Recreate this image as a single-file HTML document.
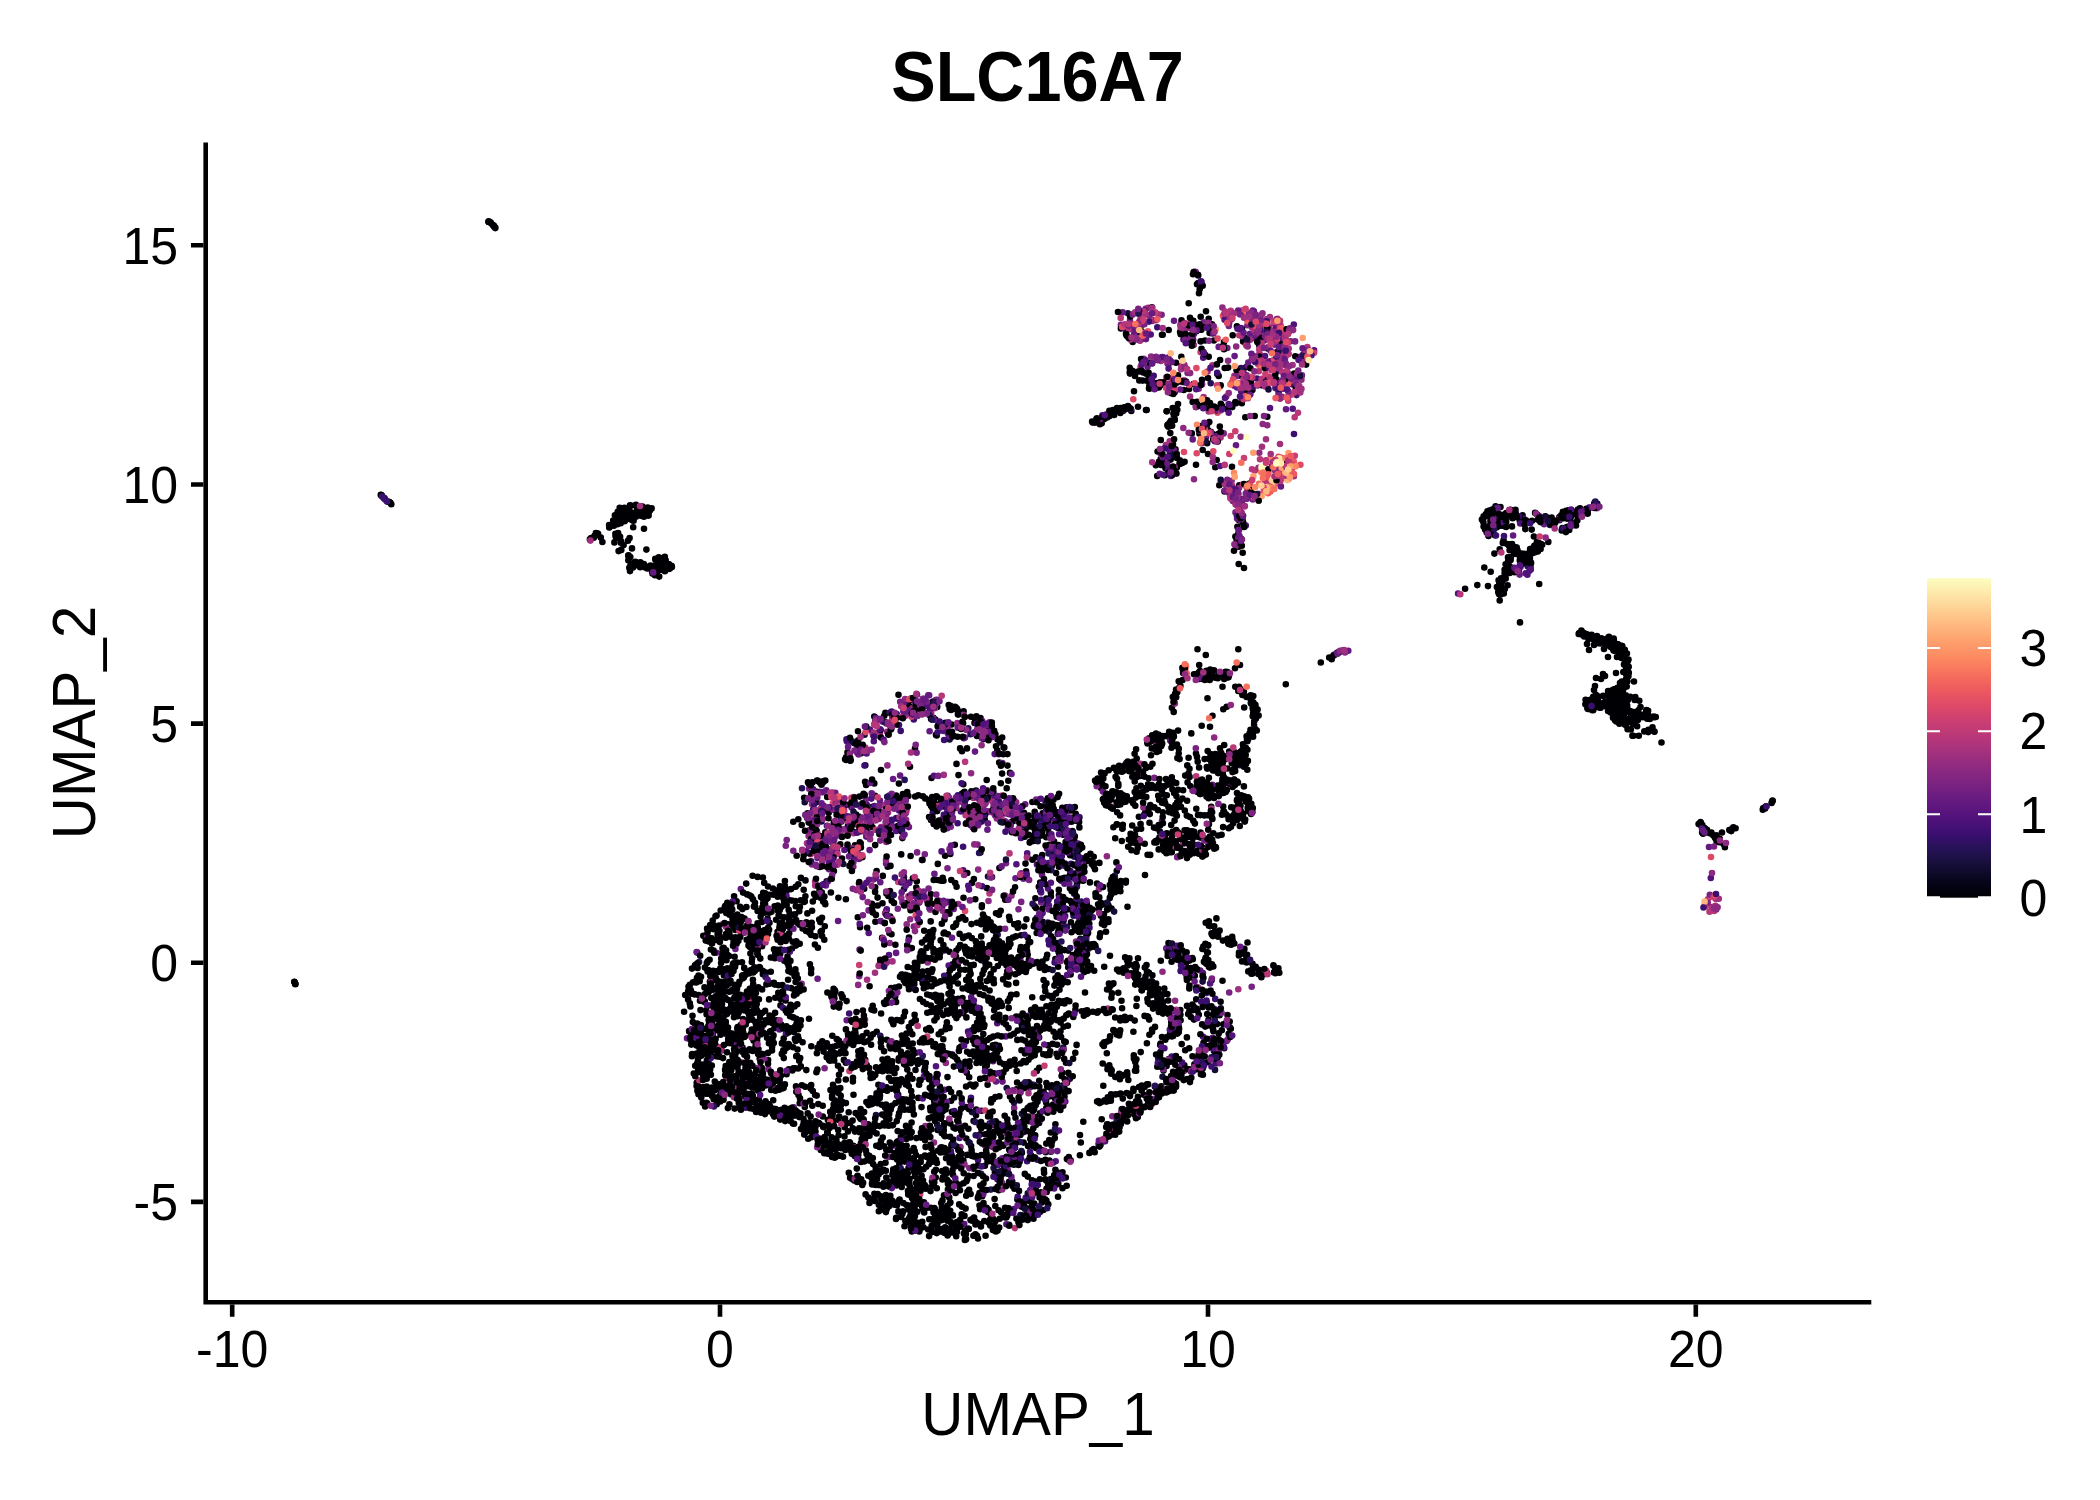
<!DOCTYPE html>
<html><head><meta charset="utf-8"><title>SLC16A7</title>
<style>html,body{margin:0;padding:0;background:#fff}svg{display:block}text{font-family:"Liberation Sans",sans-serif}</style>
</head><body>
<svg width="2100" height="1500" viewBox="0 0 2100 1500">
<rect width="2100" height="1500" fill="#fff"/>
<g fill="none" stroke-width="6.6" stroke-linecap="round"><path d="M949.3 1215.9h0M958.4 714.4h0M1230.2 493.5h0M1081.8 1011.3h0M1591.9 699.2h0M840.8 1109.8h0M753.2 1086.3h0M912.0 1096.4h0M1106.4 414.6h0M963.3 784.2h0M1104.1 802.6h0M880.8 1042.5h0M726.2 954.2h0M1203.7 673.2h0M1204.7 791.7h0M614.9 515.2h0M1022.4 1219.7h0M657.7 569.9h0M1049.4 844.8h0M833.2 1108.8h0M1186.9 1037.4h0M981.3 960.2h0M1136.4 1059.2h0M1507.1 544.1h0M1169.1 781.6h0M658.5 565.0h0M811.2 968.9h0M792.9 1123.6h0M896.9 1171.7h0M963.4 1160.6h0M760.8 1076.2h0M1623.7 698.8h0M1279.3 972.8h0M1002.3 1127.2h0M736.6 1038.4h0M896.8 805.4h0M862.6 1036.3h0M1152.5 992.5h0M1222.1 755.0h0M898.8 1058.2h0M987.5 1161.6h0M1227.1 758.0h0M948.5 993.8h0M1002.9 1144.8h0M758.4 1025.7h0M784.9 1084.4h0M919.9 999.0h0M922.1 1206.3h0M1112.1 984.5h0M1168.9 1091.2h0M728.5 924.4h0M713.7 925.2h0M864.2 888.8h0M980.9 1226.4h0M966.3 1138.5h0M1000.1 1160.0h0M1607.5 706.7h0M1028.2 1214.4h0M778.6 1113.9h0M949.7 709.1h0M1206.8 767.1h0M945.1 855.8h0M1193.6 328.0h0M1516.8 571.5h0M1059.6 827.7h0M1072.0 849.9h0M1623.5 657.3h0M1178.1 1029.4h0M806.1 930.9h0M948.0 1192.8h0M873.3 733.3h0M1165.9 850.1h0M1073.8 907.9h0M1121.8 841.0h0M778.6 915.6h0M1176.2 783.1h0M1206.5 847.8h0M1135.2 984.6h0M707.2 1036.6h0M714.3 1026.5h0M1046.1 1102.5h0M737.1 962.5h0M1215.7 1043.9h0M1132.2 337.6h0M894.0 1203.4h0M861.7 1020.7h0M1030.2 1217.5h0M1622.6 684.7h0M1015.3 1137.9h0M1223.2 806.5h0M1611.1 696.9h0M1022.7 1013.6h0M1034.4 816.8h0M1127.8 1115.6h0M855.9 1065.0h0M751.1 926.7h0M961.5 1039.6h0M933.3 1157.4h0M1208.3 791.9h0M1588.0 708.9h0M993.7 969.4h0M765.7 1020.2h0M1205.6 991.8h0M914.9 1215.1h0M975.4 1234.3h0M1122.9 771.3h0M912.0 1197.9h0M1001.3 962.5h0M963.0 794.2h0M915.2 796.5h0M1076.1 854.3h0M884.8 923.0h0M870.1 1102.1h0M1211.9 756.7h0M1187.7 835.1h0M1618.7 693.1h0M997.8 808.5h0M939.8 1218.5h0M621.2 520.6h0M1163.1 839.9h0M904.2 1043.8h0M748.2 921.3h0M908.0 1190.9h0M725.4 905.7h0M1205.8 655.0h0M855.3 853.2h0M808.9 783.7h0M919.3 902.3h0M720.7 910.5h0M956.5 763.9h0M764.2 882.8h0M921.0 955.5h0M1247.8 696.8h0M1597.6 698.9h0M1130.9 768.4h0M1625.7 672.3h0M1562.4 528.1h0M1522.7 561.2h0M963.6 711.4h0M828.7 812.7h0M1168.0 736.4h0M1208.3 758.7h0M1210.2 669.5h0M896.4 1185.4h0M886.1 911.6h0M1033.3 1128.2h0M1120.2 1030.2h0M979.0 1029.0h0M725.2 981.8h0M955.3 1182.8h0M839.3 1155.8h0M721.4 1029.5h0M762.7 1084.2h0M1149.4 388.7h0M1044.1 1173.1h0M1030.6 1046.6h0M971.1 1146.1h0M700.5 1010.1h0M1043.6 822.1h0M1122.3 1075.7h0M1107.8 1097.2h0M820.8 1149.9h0M959.9 711.8h0M1094.7 1152.2h0M881.1 1171.9h0M969.2 1077.2h0M654.5 565.5h0M1180.1 332.1h0M1007.7 1138.9h0M907.7 1180.0h0M1099.7 937.1h0M749.2 1080.9h0M1083.2 943.2h0M1617.9 702.9h0M955.3 961.0h0M871.6 1178.1h0M1225.4 756.6h0M917.4 1211.8h0M1075.4 1009.8h0M1156.3 991.8h0M1025.9 1062.3h0M736.0 1045.4h0M924.2 930.8h0M1145.4 811.6h0M1111.5 908.5h0M878.9 1145.5h0M1618.4 715.8h0M1081.2 947.4h0M1224.2 745.0h0M1136.7 966.4h0M1162.6 461.5h0M755.2 1006.8h0M935.4 997.5h0M1057.7 943.0h0M790.4 960.9h0M1202.1 1024.4h0M981.9 905.2h0M791.4 1113.6h0M1047.8 798.2h0M830.5 1090.1h0M818.3 1122.9h0M1591.6 634.7h0M1031.1 1010.4h0M1173.0 833.9h0M1230.0 1028.3h0M391.3 504.3h0M1488.8 515.6h0M975.2 721.0h0M879.8 1097.9h0M1089.3 923.7h0M933.9 1157.4h0M896.7 798.9h0M980.2 1134.3h0M853.4 816.9h0M761.9 1068.1h0M841.2 1155.7h0M1508.1 561.4h0M1200.7 316.7h0M1194.8 835.5h0M1494.7 526.6h0M1003.3 1145.7h0M861.4 1059.4h0M904.9 981.2h0M1161.7 836.7h0M1524.6 557.1h0M1061.1 1037.0h0M832.3 1035.8h0M1528.9 558.2h0M1568.3 511.8h0M963.1 723.2h0M970.0 1036.8h0M868.7 1067.9h0M1024.3 1126.4h0M980.5 718.0h0M1267.6 348.4h0M1006.7 899.8h0M713.7 1099.3h0M1621.8 692.8h0M1197.9 329.1h0M1007.3 971.3h0M911.5 1213.6h0M806.3 1070.1h0M1030.4 1105.8h0M779.9 951.0h0M1224.0 342.0h0M776.1 919.7h0M726.3 913.0h0M1203.4 977.9h0M868.4 1133.0h0M1244.0 766.7h0M711.7 938.3h0M1136.0 968.5h0M1489.3 510.5h0M850.6 1150.2h0M908.8 1027.0h0M1516.3 548.5h0M1497.0 520.3h0M1622.5 722.2h0M1175.8 408.4h0M1046.3 837.2h0M1213.2 439.5h0M768.2 1111.1h0M1200.2 284.0h0M788.6 1044.0h0M621.8 517.9h0M1055.6 850.4h0M773.2 1100.2h0M914.6 1014.9h0M759.3 941.7h0M1503.3 590.0h0M1589.0 650.0h0M1003.4 951.6h0M975.5 1156.5h0M1055.4 1124.3h0M968.8 1228.9h0M879.4 834.1h0M992.5 1139.9h0M931.8 958.5h0M597.3 533.4h0M1160.0 382.3h0M872.5 827.2h0M890.7 1109.5h0M896.2 795.6h0M1056.8 1006.7h0M754.9 930.1h0M1156.8 751.9h0M831.8 878.8h0M1041.7 872.7h0M1141.5 1106.6h0M1034.1 1109.3h0M947.9 1189.6h0M941.4 1220.3h0M982.6 1018.2h0M992.0 998.7h0M740.7 1010.3h0M1221.3 406.3h0M1060.1 1105.4h0M1498.2 587.8h0M1015.8 814.7h0M751.4 1082.5h0M725.5 1024.0h0M1059.0 933.3h0M960.3 1126.7h0M1205.7 922.8h0M1615.2 651.1h0M895.1 1182.7h0M1509.7 572.9h0M706.6 1067.1h0M689.1 1031.1h0M1081.9 922.2h0M1160.6 1043.6h0M770.8 971.8h0M926.8 1156.9h0M947.5 802.9h0M1241.4 797.0h0M973.5 1168.8h0M720.5 987.4h0M868.7 1105.1h0M1053.7 808.7h0M941.0 880.8h0M1058.3 1183.9h0M799.7 1103.2h0M919.8 957.1h0M981.8 907.1h0M1206.8 782.3h0M856.4 1154.9h0M1135.0 765.8h0M870.6 1037.7h0M1079.4 849.4h0M977.1 1022.8h0M1615.4 689.1h0M727.3 902.7h0M925.7 939.5h0M1211.2 759.6h0M1021.3 823.3h0M780.2 1112.4h0M889.3 1119.0h0M760.3 1108.0h0M981.2 924.2h0M1030.9 1209.8h0M1231.7 757.8h0M1648.0 714.5h0M983.4 739.1h0M943.1 1015.1h0M1619.2 693.5h0M921.3 1060.5h0M901.3 1079.3h0M784.7 997.3h0M1208.7 318.7h0M740.6 1086.6h0M1005.1 1207.8h0M1145.0 875.0h0M758.0 1090.7h0M879.5 734.6h0M949.5 913.7h0M1176.0 843.8h0M1189.5 985.5h0M1121.7 1109.3h0M637.1 510.2h0M1067.7 1025.7h0M1136.4 788.4h0M654.9 575.2h0M1002.1 773.6h0M945.5 1109.4h0M1579.3 633.1h0M1177.3 409.8h0M955.8 1012.2h0M1031.9 1212.7h0M1027.8 1043.8h0M730.0 1092.7h0M1027.9 1049.1h0M643.9 513.3h0M1202.7 856.2h0M1178.7 681.2h0M1039.9 1092.7h0M1041.6 1009.8h0M1144.8 967.6h0M923.5 1169.2h0M1052.3 923.8h0M1056.9 1084.0h0M1031.0 1135.7h0M1193.3 384.0h0M718.7 1052.0h0M1074.2 840.4h0M1009.1 1139.2h0M618.3 534.4h0M1189.3 1011.2h0M1110.8 888.1h0M1012.9 937.6h0M1163.8 835.3h0M1151.2 737.6h0M935.1 1215.2h0M819.7 867.0h0M1567.6 526.8h0M1126.4 971.8h0M1159.1 750.9h0M1008.7 1007.9h0M815.6 831.2h0M1222.8 762.4h0M782.2 1116.1h0M720.7 1008.1h0M1199.2 1065.7h0M1038.1 963.4h0M954.2 1097.5h0M1010.4 943.9h0M778.0 895.0h0M839.7 1101.1h0M1252.0 702.6h0M700.0 1000.8h0M1047.2 954.7h0M707.8 961.4h0M1056.2 1004.3h0M837.7 807.2h0M887.7 866.7h0M615.4 533.7h0M811.4 1137.3h0M712.3 1042.0h0M984.8 922.9h0M1483.4 522.2h0M919.2 1171.1h0M901.8 1081.7h0M792.0 948.5h0M916.0 1155.0h0M1141.8 1085.6h0M1237.6 799.0h0M1176.1 1072.3h0M907.0 902.8h0M1207.2 768.6h0M1042.7 813.2h0M1163.0 844.2h0M1036.8 1070.9h0M816.9 1053.2h0M1135.2 978.3h0M853.4 1152.7h0M799.3 1117.1h0M1731.2 831.1h0M852.9 1081.4h0M1217.3 374.0h0M912.6 1109.8h0M1163.5 786.4h0M1011.9 832.2h0M1627.9 667.8h0M704.9 967.6h0M723.0 1058.1h0M1238.0 757.7h0M962.0 1206.8h0M1630.9 712.6h0M1171.9 707.8h0M917.8 1167.9h0M969.7 970.0h0M1202.0 779.6h0M1198.0 814.9h0M1134.0 391.3h0M719.3 1089.4h0M630.5 505.4h0M737.3 1028.7h0M1241.9 750.9h0M1542.2 544.8h0M1096.9 418.3h0M898.3 1143.7h0M1165.4 736.0h0M1503.3 514.8h0M911.5 1161.9h0M716.2 1028.5h0M845.3 1150.0h0M488.8 222.0h0M1058.3 858.0h0M854.0 1033.3h0M804.2 1103.1h0M976.0 1115.3h0M736.0 993.2h0M1176.1 689.6h0M972.0 1030.3h0M619.7 507.8h0M1133.2 803.2h0M1255.5 707.6h0M1048.0 828.7h0M731.7 1094.3h0M1211.8 763.6h0M1241.6 515.8h0M1240.7 810.9h0M1080.5 858.2h0M1495.9 521.8h0M1156.9 992.2h0M1057.7 975.3h0M1630.8 717.9h0M618.1 533.0h0M710.9 980.8h0M1238.8 520.0h0M1261.7 385.3h0M698.5 1094.3h0M1246.9 697.0h0M878.4 1084.8h0M815.3 834.3h0M1209.7 679.9h0M1140.5 981.8h0M1500.8 525.6h0M1244.1 796.2h0M662.7 559.4h0M1615.8 717.9h0M973.6 1121.1h0M1145.6 976.3h0M1203.6 1050.4h0M790.7 1004.8h0M1122.9 799.0h0M1055.9 1007.3h0M1622.0 692.8h0M1234.1 759.7h0M789.7 913.9h0M858.0 731.2h0M895.2 996.7h0M1170.0 949.2h0M897.0 1205.2h0M758.7 1030.5h0M994.9 801.0h0M1532.3 553.2h0M1228.6 819.2h0M1058.0 914.7h0M1158.8 463.3h0M981.5 920.4h0M743.8 1024.7h0M995.5 1044.7h0M1028.8 834.8h0M858.4 1115.5h0M823.5 781.5h0M1501.0 578.4h0M1595.4 702.5h0M1218.7 376.0h0M598.1 533.7h0M1234.2 779.5h0M1252.7 496.1h0M926.0 1038.8h0M621.3 549.9h0M1058.0 1196.8h0M907.6 1222.1h0M693.8 1073.5h0M1079.4 817.3h0M1337.1 652.8h0M1120.3 1020.4h0M933.4 1046.2h0M1253.3 712.4h0M1035.4 898.3h0M1139.1 980.4h0M982.3 1206.4h0M838.3 1110.3h0M1613.1 692.2h0M1196.9 404.1h0M1058.1 966.8h0M1093.7 866.2h0M1059.5 822.7h0M1121.5 408.9h0M740.3 994.8h0M993.4 732.8h0M732.0 1033.6h0M1511.8 517.0h0M842.6 996.8h0M904.8 1055.3h0M785.7 900.4h0M1114.2 415.0h0M1200.9 1074.3h0M853.4 1145.8h0M1211.4 966.0h0M1081.2 966.6h0M981.7 943.5h0M826.7 881.4h0M933.2 1152.7h0M1232.0 466.7h0M873.4 1131.6h0M925.7 1186.5h0M1146.8 380.8h0M1007.9 1001.2h0M755.5 1100.6h0M1208.4 430.5h0M754.5 967.4h0M864.6 1024.2h0M696.2 982.5h0M1106.9 801.6h0M1251.0 814.0h0M1056.4 1180.1h0M1152.7 992.4h0M1197.1 325.3h0M722.5 1009.5h0M919.4 709.0h0M742.5 1047.6h0M650.1 510.2h0M951.8 1189.2h0M819.6 1138.6h0M984.2 790.0h0M993.6 1073.2h0M918.2 1183.8h0M758.7 935.0h0M950.3 1123.4h0M908.4 1061.1h0M1297.8 391.3h0M780.0 886.2h0M975.3 899.3h0M784.1 901.6h0M1034.9 1157.6h0M857.2 850.0h0M958.6 1116.8h0M1020.9 947.0h0M899.5 1182.5h0M941.3 1031.9h0M1202.7 450.0h0M875.1 795.8h0M773.1 1082.9h0M955.7 707.4h0M750.0 937.9h0M924.7 1185.0h0M1598.7 638.7h0M951.3 880.0h0M916.2 1191.5h0M801.9 1085.3h0M966.2 1195.8h0M861.6 1114.0h0M1205.9 854.6h0M800.0 1098.4h0M1239.3 485.2h0M838.7 1105.2h0M914.6 1190.2h0M1567.0 518.6h0M1031.0 1132.5h0M833.3 1124.6h0M1133.8 1055.4h0M872.0 1104.1h0M996.0 746.3h0M904.2 1081.3h0M1531.7 529.6h0M750.4 953.5h0M1063.9 1091.3h0M1168.1 845.6h0M933.2 1094.2h0M999.0 914.8h0M1256.8 730.5h0M1570.1 516.2h0M875.2 1176.3h0M1055.3 1095.3h0M887.8 1002.7h0M940.4 996.6h0M1062.3 807.8h0M811.3 1046.2h0M886.4 893.4h0M1095.1 780.5h0M1147.6 854.7h0M740.9 931.9h0M1039.2 1080.7h0M1025.3 1087.7h0M1030.8 1015.7h0M1155.0 1026.9h0M1216.4 1041.7h0M1238.3 691.0h0M1177.0 744.5h0M999.3 739.6h0M1164.3 988.6h0M731.6 968.0h0M1635.8 712.9h0M847.5 752.4h0M983.6 951.6h0M1151.7 380.4h0M1616.7 699.0h0M929.3 1219.2h0M1164.5 834.1h0M1210.2 926.1h0M784.3 960.8h0M917.3 1193.0h0M1024.8 1173.9h0M942.4 1179.4h0M1039.3 1086.7h0M796.2 1056.2h0M1163.5 1007.3h0M997.3 1176.3h0M769.1 999.4h0M966.0 962.5h0M1162.7 334.7h0M1056.1 873.1h0M772.9 888.5h0M1220.0 748.3h0M944.4 1176.0h0M766.4 984.4h0M979.4 954.0h0M1023.1 1217.1h0M993.2 926.6h0M875.1 891.9h0M1031.5 1084.6h0M1612.9 639.1h0M1072.0 845.9h0M1629.0 718.8h0M1534.3 545.9h0M967.0 949.0h0M1147.4 999.1h0M709.9 981.9h0M1034.2 1203.6h0M1510.4 570.8h0M884.1 1051.3h0M1559.3 517.3h0M912.4 1209.4h0M836.4 1140.2h0M857.3 849.8h0M1232.6 786.9h0M1529.4 555.1h0M784.6 1107.9h0M1017.1 1082.5h0M925.8 1063.1h0M1095.3 945.5h0M1036.0 1016.9h0M1244.6 337.8h0M890.3 1195.8h0M1136.4 829.5h0M1038.8 1147.6h0M755.8 1027.4h0M1163.0 1013.6h0M989.2 1125.3h0M872.7 1103.5h0M891.0 1070.7h0M942.4 1056.1h0M962.7 1066.5h0M1050.8 892.4h0M969.2 983.0h0M1190.6 1069.6h0M1161.0 746.1h0M782.1 1109.9h0M705.1 1106.5h0M731.8 937.5h0M1191.8 433.4h0M869.5 1202.9h0M1009.7 998.4h0M1062.6 926.7h0M1623.8 684.8h0M1499.7 600.5h0M772.1 1047.0h0M929.7 1161.9h0M1003.1 979.4h0M1138.2 839.0h0M1189.8 836.4h0M1010.0 772.9h0M931.5 1089.7h0M1066.7 1185.8h0M992.9 954.0h0M1180.3 1010.0h0M1195.9 1064.8h0M1117.4 771.5h0M1526.1 562.3h0M1142.0 324.7h0M720.2 1090.2h0M1060.0 849.2h0M736.7 919.6h0M1212.0 324.4h0M1055.3 1132.7h0M855.0 845.4h0M1222.5 686.7h0M1169.4 733.6h0M1248.1 811.3h0M1115.6 776.7h0M695.2 1024.2h0M756.3 1027.5h0M911.8 948.1h0M1175.5 449.4h0M769.7 1016.0h0M729.1 1089.8h0M1172.3 739.1h0M1163.5 1092.2h0M934.0 823.6h0M1064.7 1092.7h0M1228.7 755.1h0M852.0 1021.4h0M1034.1 835.9h0M1510.9 557.0h0M859.4 1150.6h0M892.4 803.9h0M932.7 1084.1h0M789.4 927.0h0M1194.0 1070.2h0M705.3 1089.3h0M844.5 1136.4h0M1068.2 1159.8h0M873.9 1199.5h0M1106.2 1127.1h0M1627.7 671.5h0M1038.7 1029.3h0M1158.7 849.4h0M943.9 829.2h0M771.5 911.7h0M701.3 1097.5h0M786.6 1074.3h0M966.3 1003.0h0M733.3 927.1h0M1138.5 768.0h0M1219.8 769.3h0M1147.2 1097.7h0M756.8 1105.4h0M1141.7 990.2h0M1203.3 1050.5h0M1126.6 1093.1h0M1219.6 1015.2h0M997.2 750.3h0M788.1 979.7h0M713.8 1050.2h0M914.9 962.8h0M794.1 1115.7h0M1055.6 1107.4h0M739.4 981.7h0M856.6 857.6h0M933.7 979.5h0M1149.8 382.6h0M1151.6 785.1h0M1210.2 672.8h0M943.5 880.7h0M1147.4 742.1h0M1492.1 518.4h0M1032.0 1180.2h0M1034.3 825.2h0M749.0 973.5h0M991.4 1099.2h0M916.7 974.8h0M1111.4 1134.8h0M720.4 968.3h0M1107.9 801.5h0M798.3 819.2h0M1189.3 831.4h0M984.9 1055.6h0M947.0 1214.7h0M1178.1 730.6h0M933.0 701.6h0M712.5 1030.1h0M1153.3 983.3h0M1174.7 419.3h0M941.2 1203.1h0M787.0 1117.2h0M774.4 1028.3h0M766.7 938.3h0M831.9 1145.1h0M1163.5 1070.6h0M1035.6 1188.7h0M1006.2 949.3h0M1113.4 983.4h0M1000.0 928.7h0M810.5 861.7h0M1532.2 548.6h0M1630.8 729.4h0M1032.1 1138.9h0M670.0 568.5h0M1127.7 965.4h0M990.1 1038.0h0M908.8 1086.3h0M729.7 1041.9h0M714.4 1015.6h0M1024.0 812.8h0M1625.8 695.4h0M837.1 1154.6h0M850.2 1122.9h0M1005.2 962.9h0M923.9 977.7h0M1053.5 1031.7h0M1047.6 1106.4h0M890.0 891.0h0M1213.3 966.5h0M1007.5 765.6h0M1006.4 965.2h0M718.5 1084.1h0M1178.7 381.4h0M820.3 782.7h0M756.8 1010.3h0M757.7 949.0h0M697.6 967.9h0M780.5 999.1h0M1715.0 837.6h0M1192.5 1056.2h0M1169.4 843.8h0M943.6 1232.2h0M842.2 1101.9h0M903.7 794.3h0M871.1 1044.7h0M833.7 1104.4h0M878.8 1211.3h0M855.6 1113.0h0M976.2 1109.5h0M1080.6 966.1h0M993.3 1036.6h0M1144.6 1086.9h0M823.0 1125.9h0M1273.6 965.6h0M910.0 766.7h0M1208.3 961.9h0M708.3 992.4h0M1061.3 1085.8h0M1119.1 971.5h0M1242.4 694.9h0M901.6 974.6h0M886.9 1067.3h0M941.4 1116.5h0M911.6 1132.0h0M997.8 1006.8h0M1519.8 520.7h0M993.5 942.2h0M1630.2 711.0h0M796.4 1018.7h0M1225.1 757.5h0M699.2 1033.0h0M846.2 759.9h0M1050.5 801.3h0M827.2 796.9h0M998.7 1190.2h0M1494.3 514.9h0M982.2 1196.3h0M1061.8 861.6h0M1173.7 1090.4h0M1025.2 1040.7h0M869.8 824.9h0M1196.2 999.3h0M1127.1 1072.3h0M1009.1 916.8h0M690.6 1040.1h0M1617.5 644.2h0M882.8 875.9h0M1628.5 659.6h0M1570.4 518.7h0M820.7 931.9h0M1119.7 766.6h0M1255.7 718.1h0M1238.5 802.7h0M712.4 978.4h0M809.1 819.5h0M759.5 934.9h0M756.6 1029.9h0M733.4 1079.0h0M634.2 566.0h0M1246.0 367.3h0M909.0 705.6h0M1138.3 974.7h0M965.3 806.6h0M849.7 1042.1h0M756.3 1107.5h0M794.8 991.3h0M935.3 719.5h0M869.5 1135.7h0M1637.6 718.1h0M955.5 1003.3h0M769.7 1107.9h0M1194.4 1064.4h0M1150.2 854.9h0M994.1 940.1h0M1144.6 1015.9h0M1095.7 947.2h0M782.4 985.1h0M906.6 807.7h0M1109.8 414.4h0M937.0 809.0h0M834.7 830.6h0M1016.4 1130.2h0M954.8 844.7h0M971.8 950.2h0M1120.3 804.5h0M1136.1 1101.3h0M841.0 1069.6h0M1027.7 954.8h0M1172.6 813.3h0M882.1 937.9h0M1026.7 1208.6h0M969.5 989.9h0M1050.1 820.4h0M957.0 1231.7h0M762.9 937.5h0M925.0 1155.5h0M1035.8 1211.9h0M1252.7 708.5h0M1034.4 837.2h0M988.1 1116.4h0M705.1 1053.4h0M1172.9 456.9h0M1032.2 997.3h0M1032.0 1197.2h0M1236.7 540.7h0M1056.0 983.0h0M1008.1 813.3h0M1173.0 452.1h0M1022.0 1027.8h0M1039.9 1113.2h0M956.0 963.1h0M1608.1 711.1h0M958.7 1062.6h0M1499.2 594.2h0M1600.7 704.4h0M898.5 1116.4h0M1212.9 843.0h0M752.4 1019.7h0M909.0 989.2h0M1117.0 408.0h0M1522.6 515.3h0M1601.2 642.9h0M1205.9 957.5h0M1273.0 360.6h0M1167.4 994.1h0M1236.9 370.7h0M796.5 1023.7h0M859.8 1065.0h0M743.8 977.6h0M893.7 800.3h0M1009.7 1127.6h0M1124.6 1020.1h0M827.9 1119.9h0M995.9 1231.4h0M905.5 795.1h0M930.3 1137.1h0M923.3 956.7h0M1123.6 972.7h0M961.2 1130.7h0M1174.7 412.0h0M742.8 1078.0h0M801.0 1129.1h0M1245.2 819.5h0M1168.6 387.3h0M697.2 952.6h0M785.7 941.0h0M1033.4 1051.6h0M970.8 981.7h0M833.9 871.1h0M1109.1 1012.3h0M762.3 907.5h0M1222.9 762.0h0M1143.2 372.4h0M1047.9 923.8h0M772.7 1042.9h0M1037.0 1026.0h0M1170.1 1033.2h0M898.5 694.7h0M748.1 1005.7h0M1014.6 1142.3h0M819.8 1043.8h0M1056.7 916.8h0M1179.9 463.9h0M939.7 957.3h0M979.5 1193.0h0M831.0 1116.3h0M748.6 927.9h0M1152.4 988.6h0M862.7 828.7h0M832.1 1156.9h0M890.2 916.6h0M768.1 1060.0h0M1148.0 1016.7h0M644.8 567.3h0M1515.3 547.3h0M998.6 1210.2h0M1086.4 935.9h0M1018.4 1164.9h0M907.3 1083.1h0M831.9 1053.0h0M1210.9 431.7h0M906.9 795.9h0M1037.5 1101.8h0M989.6 945.3h0M640.7 514.4h0M1196.5 987.5h0M774.8 984.6h0M1041.3 818.3h0M1036.0 908.1h0M1505.5 516.7h0M940.0 1231.4h0M1266.9 972.9h0M911.5 987.7h0M1175.8 814.2h0M1151.3 741.0h0M1619.4 693.3h0M791.8 900.6h0M997.6 808.2h0M726.7 985.5h0M1483.6 526.5h0M733.0 1062.9h0M1191.1 1071.5h0M709.3 1039.4h0M906.0 1057.9h0M733.5 1036.7h0M1177.4 1033.6h0M759.7 1058.7h0M1207.7 751.1h0M1610.8 712.6h0M1123.0 766.8h0M879.9 964.2h0M827.4 992.5h0M1074.8 836.4h0M940.6 981.4h0M1204.7 785.6h0M621.2 549.9h0M1084.8 1011.1h0M1610.5 704.8h0M1108.6 1100.9h0M931.1 806.0h0M1622.6 693.5h0M863.5 1119.2h0M1021.0 1085.5h0M990.1 1071.7h0M1035.0 1192.7h0M845.9 899.2h0M632.9 567.5h0M1597.0 706.9h0M1214.8 1057.6h0M1052.8 926.2h0M1502.8 542.9h0M1133.4 1088.9h0M1626.0 674.0h0M1106.6 1041.7h0M943.0 1177.4h0M965.3 1061.9h0M937.6 1130.0h0M780.2 954.0h0M749.4 993.4h0M788.5 899.8h0M721.3 1029.8h0M1102.8 920.5h0M903.2 1146.0h0M914.7 972.3h0M695.9 1042.7h0M915.8 1052.8h0M946.9 1010.5h0M932.1 1117.1h0M973.9 879.0h0M980.7 984.2h0M734.5 1059.1h0M1490.1 530.3h0M884.5 1125.5h0M1241.1 538.8h0M945.2 1227.4h0M972.3 956.4h0M1771.6 802.9h0M1646.4 710.1h0M974.5 952.1h0M718.4 982.1h0M1056.2 914.0h0M929.8 932.0h0M1093.4 1150.0h0M1228.3 943.2h0M1028.5 964.5h0M999.3 1014.7h0M1586.3 508.9h0M876.7 1031.8h0M919.5 1080.0h0M794.8 1068.2h0M728.9 983.8h0M909.3 700.4h0M1620.0 683.1h0M948.4 974.8h0M1050.2 1051.3h0M1040.3 1016.9h0M702.4 1067.1h0M1046.0 1020.9h0M1099.3 897.4h0M1062.5 1085.5h0M1213.1 677.1h0M1208.9 925.7h0M1014.0 1164.8h0M1222.5 765.2h0M1086.7 856.4h0M1186.9 979.9h0M847.8 826.4h0M947.5 1077.1h0M1217.6 785.6h0M967.4 1154.9h0M734.2 922.9h0M783.9 1112.4h0M1034.4 962.9h0M1503.0 517.1h0M1118.8 1031.9h0M1228.8 783.8h0M1259.1 345.1h0M1616.9 644.7h0M1238.6 814.6h0M903.1 1099.8h0M997.1 1052.2h0M1006.3 1217.4h0M725.0 1033.6h0M984.9 1165.8h0M886.0 1104.6h0M1243.1 813.6h0M843.0 1044.1h0M1099.5 1141.9h0M744.4 1037.0h0M1624.8 649.7h0M817.0 843.2h0M1526.4 557.7h0M1046.2 1108.4h0M1041.5 1028.5h0M1038.3 1033.0h0M1076.6 1044.9h0M1611.2 644.0h0M1048.4 1024.1h0M997.6 739.4h0M717.5 1002.2h0M1044.9 967.1h0M1566.4 527.3h0M1050.5 1008.6h0M1613.1 710.8h0M1094.7 422.7h0M1158.3 992.8h0M923.4 1227.2h0M1131.4 973.3h0M1086.8 903.9h0M1159.1 799.8h0M1111.1 799.5h0M738.4 998.0h0M1005.8 1064.6h0M1055.4 978.2h0M1143.8 1094.7h0M977.8 1198.0h0M1009.2 942.7h0M847.6 834.7h0M1242.7 552.7h0M643.9 516.7h0M1000.6 1177.8h0M1197.5 1010.8h0M1099.5 1142.6h0M1167.0 833.3h0M1072.4 831.1h0M1117.0 769.7h0M704.7 1001.4h0M645.1 514.4h0M1164.4 800.7h0M858.6 1055.7h0M832.6 1144.6h0M713.2 1030.0h0M1046.6 1055.3h0M829.4 840.5h0M832.0 1052.3h0M389.9 502.5h0M1135.3 1062.0h0M1248.1 797.4h0M1064.5 1003.4h0M711.2 1029.6h0M1230.2 754.9h0M1041.1 1194.9h0M724.5 937.2h0M937.0 1218.3h0M709.6 959.7h0M737.6 1002.5h0M1184.6 461.7h0M1192.8 959.2h0M892.1 1125.2h0M856.4 1177.6h0M1030.9 1109.6h0M1218.1 936.7h0M993.8 1017.5h0M1001.0 1171.2h0M732.5 919.1h0M1173.1 1071.7h0M1134.6 753.8h0M809.0 1018.8h0M1052.4 1186.1h0M964.0 1003.1h0M822.9 1116.5h0M861.9 747.8h0M934.0 809.5h0M868.3 1104.3h0M1177.0 382.5h0M1139.0 332.2h0M1162.6 1060.4h0M1168.7 735.2h0M721.7 953.3h0M1253.1 736.8h0M1617.5 721.1h0M1622.6 718.2h0M1167.8 843.3h0M1631.1 718.8h0M1122.2 800.8h0M617.5 524.2h0M980.6 1013.6h0M1162.2 743.6h0M798.8 1039.6h0M975.4 1221.5h0M788.5 917.2h0M1174.5 702.7h0M838.5 1093.0h0M696.5 1045.5h0M946.3 1179.3h0M985.7 967.0h0M916.3 1224.2h0M716.7 1104.2h0M791.0 1010.2h0M1492.0 512.7h0M1043.3 1210.0h0M1128.3 1109.4h0M774.6 906.2h0M1149.4 1034.8h0M1040.2 882.5h0M876.1 1067.3h0M795.3 901.0h0M788.0 1116.8h0M727.7 955.1h0M716.5 1098.9h0M1009.7 920.0h0M1173.0 444.2h0M1107.8 803.0h0M1176.2 413.4h0M958.6 1156.7h0M1216.2 787.8h0M740.1 906.7h0M1183.8 390.0h0M1015.7 1156.9h0M746.4 1000.4h0M1172.1 1061.6h0M1173.6 1032.5h0M838.3 1080.5h0M1266.0 378.3h0M1040.9 1192.2h0M1147.8 1001.9h0M1058.8 1000.7h0M946.0 1053.4h0M928.2 1229.5h0M1143.5 980.4h0M1192.7 838.2h0M761.7 1070.8h0M1592.2 710.3h0M1175.1 841.2h0M896.5 1091.0h0M701.7 1052.5h0M1197.7 761.7h0M1134.7 1105.6h0M1201.4 1067.5h0M885.9 1212.1h0M1149.0 388.5h0M1051.9 865.7h0M1231.0 758.1h0M690.4 1006.5h0M888.3 895.9h0M1204.6 759.1h0M872.8 806.9h0M1293.1 465.6h0M851.7 1035.5h0M765.1 893.4h0M961.5 999.8h0M740.4 1005.4h0M729.9 1084.6h0M843.9 1059.9h0M1093.7 856.8h0M1238.1 811.9h0M1090.9 861.1h0M935.7 1177.5h0M900.9 1137.0h0M1044.8 969.9h0M756.8 1088.3h0M951.1 1100.7h0M1239.0 686.8h0M803.7 889.8h0M1772.5 800.6h0M756.1 1112.0h0M865.2 1059.7h0M963.5 1013.2h0M995.9 932.0h0M1052.9 995.8h0M1205.7 1045.9h0M772.1 1019.4h0M965.3 1238.1h0M912.7 1055.7h0M1069.9 888.3h0M735.9 929.8h0M1628.4 676.3h0M728.2 976.4h0M689.8 984.9h0M974.1 1217.5h0M1149.1 738.2h0M783.8 1058.1h0M1613.7 638.6h0M1139.1 843.2h0M1232.7 941.7h0M930.0 708.4h0M641.6 513.7h0M760.4 1067.6h0M380.8 494.9h0M931.6 972.1h0M1006.0 1024.5h0M1617.9 648.5h0M990.1 1116.2h0M1236.9 326.3h0M926.5 1004.0h0M718.2 1008.4h0M761.9 1085.3h0M965.5 1010.0h0M750.0 1081.0h0M753.7 1040.7h0M1052.7 805.3h0M1151.0 755.2h0M1082.0 969.4h0M1110.9 1100.7h0M1217.6 754.6h0M1014.9 1143.4h0M1053.5 1006.9h0M880.0 1089.6h0M1081.3 950.8h0M903.4 1160.7h0M919.9 1042.2h0M994.1 1131.8h0M753.4 970.6h0M665.0 566.8h0M1617.5 687.7h0M822.0 917.8h0M1038.4 835.2h0M697.6 1085.3h0M1207.9 945.0h0M1116.6 802.3h0M864.2 1042.2h0M1253.3 696.0h0M1636.3 715.1h0M1108.0 1124.6h0M1126.0 1020.0h0M987.0 1063.5h0M749.1 1014.5h0M1083.8 1015.6h0M1046.2 1016.5h0M1232.2 936.8h0M1158.3 1006.8h0M956.4 1018.1h0M1096.1 894.5h0M866.9 812.4h0M885.4 712.9h0M1152.2 735.2h0M708.2 1074.3h0M1161.2 996.2h0M1224.5 491.4h0M1029.8 1201.2h0M932.0 903.9h0M986.6 1207.8h0M941.2 1109.1h0M1703.1 833.7h0M706.1 1048.4h0M952.6 964.4h0M922.0 942.6h0M877.0 1179.2h0M845.0 1121.6h0M736.2 1012.3h0M966.4 1017.4h0M1054.3 1179.9h0M925.8 1188.8h0M937.6 880.0h0M834.5 1157.5h0M1122.5 795.1h0M744.4 998.4h0M733.6 963.3h0M807.3 1128.6h0M933.4 717.7h0M921.8 1062.0h0M861.7 1040.8h0M1608.9 636.9h0M916.1 976.9h0M918.4 1227.4h0M776.5 1080.8h0M1613.5 638.8h0M724.7 974.5h0M988.6 1212.3h0M384.6 498.4h0M1130.0 373.6h0M706.7 1078.7h0M1130.0 1096.1h0M1221.9 405.9h0M751.8 1013.7h0M832.8 1110.7h0M747.3 1072.2h0M1118.3 992.8h0M941.1 805.8h0M1110.0 955.8h0M1053.1 939.0h0M917.2 1061.2h0M982.3 723.9h0M1053.9 1018.9h0M825.4 1140.6h0M1156.1 383.0h0M868.3 1175.7h0M896.2 1068.2h0M980.3 978.9h0M1107.0 417.5h0M874.3 783.4h0M1616.1 689.8h0M1194.0 674.2h0M1054.1 857.6h0M1107.1 417.1h0M867.2 1125.5h0M1203.4 438.1h0M849.9 1142.6h0M1026.7 946.9h0M936.6 826.5h0M1050.8 1087.9h0M817.9 947.8h0M1017.4 1199.4h0M840.7 1095.9h0M1055.4 959.0h0M1025.0 1053.4h0M935.7 1078.4h0M1177.1 458.1h0M1632.5 716.6h0M841.3 994.3h0M768.0 933.9h0M1140.0 795.9h0M1289.8 374.6h0M979.4 949.5h0M1168.9 1059.1h0M767.1 1105.7h0M1172.9 781.6h0M1627.2 681.4h0M1225.4 676.4h0M1138.5 769.5h0M855.4 1032.9h0M1593.2 696.9h0M1638.8 735.7h0M1058.2 849.8h0M1184.3 1065.3h0M812.9 1130.4h0M753.9 906.5h0M1064.2 1041.2h0M1057.3 1034.0h0M1716.5 835.4h0M910.1 1031.1h0M1208.7 356.7h0M663.8 560.4h0M1113.4 1030.0h0M1158.5 1088.4h0M769.5 1015.5h0M951.9 1111.9h0M1242.9 815.1h0M1035.0 1183.0h0M1158.2 745.4h0M1179.8 460.3h0M889.8 1142.5h0M835.2 832.3h0M1057.8 904.3h0M944.5 919.4h0M940.8 1118.8h0M1120.6 1093.5h0M659.6 564.1h0M1054.9 1098.3h0M1496.9 527.2h0M747.0 991.5h0M852.6 1120.6h0M1187.0 858.1h0M742.2 1051.7h0M1009.1 1224.8h0M886.1 1200.4h0M1122.8 824.8h0M869.2 1155.9h0M1222.3 764.7h0M869.7 819.0h0M1005.1 1130.2h0M751.3 896.5h0M1161.9 1093.4h0M1046.5 1095.4h0M964.9 1240.0h0M891.0 834.9h0M842.3 813.4h0M735.2 1056.2h0M1231.9 494.1h0M712.1 1095.9h0M1220.1 360.0h0M885.3 1116.5h0M930.3 1155.4h0M1622.7 691.3h0M938.8 1214.9h0M1081.0 910.0h0M1214.7 931.7h0M1112.7 1009.8h0M1023.7 1088.3h0M765.8 899.7h0M959.4 1226.8h0M1620.5 686.7h0M1208.3 960.1h0M1038.3 1119.9h0M1764.7 807.8h0M1036.0 1147.9h0M729.3 1062.1h0M822.3 1139.7h0M919.5 1229.6h0M671.9 566.9h0M853.8 832.1h0M1618.6 708.0h0M1237.0 793.0h0M904.5 1226.2h0M1048.2 1020.4h0M954.9 706.8h0M1199.6 673.8h0M993.9 983.3h0M794.1 1123.8h0M1067.9 1025.8h0M927.4 986.4h0M899.3 1164.0h0M1616.7 712.9h0M1103.9 1046.0h0M999.0 1017.6h0M1203.4 790.3h0M752.1 958.6h0M703.1 1092.5h0M1246.5 697.0h0M990.3 1225.6h0M753.8 993.7h0M1141.1 828.8h0M1066.9 1159.1h0M1197.0 284.3h0M1019.8 1218.3h0M873.1 1077.3h0M698.0 1059.3h0M1198.9 675.4h0M929.1 817.1h0M1060.5 1020.0h0M978.0 1055.0h0M823.2 901.5h0M1133.9 1058.4h0M1026.4 919.2h0M1044.8 986.4h0M892.1 1061.4h0M1618.6 696.8h0M1039.1 1037.6h0M1043.6 1091.7h0M883.7 1183.3h0M1495.7 517.7h0M797.1 989.1h0M736.6 943.7h0M1177.8 856.6h0M1062.5 1188.3h0M965.2 950.2h0M1593.2 710.2h0M797.3 1004.2h0M1169.2 731.7h0M1210.4 407.9h0M664.3 566.9h0M1102.2 1140.2h0M1113.4 827.2h0M1052.9 924.6h0M791.5 921.4h0M636.7 512.0h0M1247.9 760.9h0M1158.2 795.7h0M1224.0 791.2h0M1625.9 666.9h0M736.6 901.3h0M748.0 1084.9h0M875.3 1098.4h0M992.0 877.0h0M1153.4 786.3h0M966.2 1107.0h0M1236.9 384.2h0M910.7 1063.3h0M1633.4 735.7h0M869.1 1068.0h0M1232.7 335.3h0M864.2 1137.0h0M1053.2 821.1h0M1194.0 1019.6h0M1028.2 824.8h0M909.4 1183.2h0M849.4 757.4h0M1111.7 1070.4h0M715.6 996.3h0M721.2 958.6h0M839.0 1108.9h0M1049.5 819.1h0M926.4 1075.3h0M661.1 566.8h0M957.6 736.7h0M1120.8 881.1h0M1594.0 645.0h0M858.2 740.3h0M972.3 1037.7h0M954.8 1015.3h0M916.2 1188.4h0M715.5 916.3h0M1273.3 965.4h0M617.8 523.3h0M941.4 801.0h0M915.8 1020.2h0M1627.2 710.1h0M989.4 1161.0h0M651.6 508.4h0M1608.8 692.2h0M764.6 930.0h0M1633.6 712.1h0M994.0 811.1h0M1083.7 902.6h0M783.3 887.3h0M942.1 1171.1h0M1188.4 968.9h0M1238.9 502.0h0M853.2 1045.0h0M1184.8 810.5h0M1078.9 870.8h0M1182.4 667.7h0M1188.6 757.8h0M1014.7 1134.6h0M1115.6 1094.4h0M781.8 930.8h0M1099.6 1103.1h0M1231.0 826.8h0M1208.0 454.0h0M1086.2 952.7h0M896.0 1173.2h0M657.9 565.9h0M1513.5 551.5h0M753.9 1032.1h0M909.9 1100.1h0M1153.9 986.4h0M1087.5 911.0h0M890.5 797.9h0M761.0 896.9h0M1247.3 769.7h0M699.4 1090.2h0M1196.9 1058.2h0M877.5 816.0h0M643.8 564.0h0M848.6 1037.2h0M1046.4 1200.5h0M934.2 1171.7h0M937.8 1054.1h0M1101.1 788.0h0M968.6 1142.3h0M1214.1 438.7h0M1189.1 388.9h0M878.9 1185.1h0M1028.5 1059.8h0M1501.6 582.4h0M1606.9 706.9h0M1166.4 853.2h0M809.7 1126.1h0M1212.2 839.9h0M971.0 716.8h0M918.1 899.6h0M688.5 986.7h0M1041.7 924.3h0M1175.4 805.1h0M1034.3 924.7h0M750.4 1001.8h0M1042.5 961.5h0M1164.2 851.1h0M1156.1 1054.6h0M1129.8 767.6h0M917.8 1164.5h0M1572.7 524.1h0M596.5 534.1h0M1111.6 884.4h0M830.4 993.5h0M1111.4 882.1h0M833.6 1120.3h0M975.5 1084.5h0M701.8 1064.6h0M1046.6 1180.8h0M1225.8 759.1h0M763.2 903.5h0M1211.7 333.2h0M1513.3 547.5h0M1208.9 824.2h0M1192.3 958.0h0M1211.2 806.9h0M714.8 989.5h0M1238.7 814.8h0M1020.2 1016.7h0M388.7 502.0h0M1172.5 1027.0h0M951.4 1154.6h0" stroke="#000004"/>
<path d="M1162.5 1076.8h0M1114.1 911.6h0M824.4 884.1h0M864.6 734.7h0M972.0 1112.1h0M1045.7 1152.2h0M843.3 864.0h0M949.6 739.4h0M1213.9 1051.0h0M1193.0 974.4h0M1216.6 1049.4h0M1226.5 1022.4h0M1048.9 931.7h0M1127.9 313.3h0M1005.0 1216.2h0M1046.0 904.2h0M1522.3 563.7h0M988.6 1078.0h0M929.9 705.4h0" stroke="#140E36"/>
<path d="M943.8 729.1h0M831.4 832.6h0M838.5 830.8h0M1063.1 878.2h0M1550.0 524.9h0M1085.9 946.8h0M1019.9 814.4h0M1577.8 509.6h0M1570.1 526.4h0M1068.6 833.3h0M922.7 1055.9h0M1059.2 904.3h0M1013.5 1140.2h0M699.1 962.1h0M839.0 835.0h0M1184.7 335.0h0M1111.6 1125.9h0M1303.4 354.4h0M1061.4 941.5h0M1056.2 855.9h0M855.3 824.1h0M900.7 1168.2h0M1565.7 512.5h0M997.7 934.7h0M735.4 1081.1h0M1242.5 499.0h0M1243.6 377.1h0M963.7 795.9h0M1074.2 856.8h0M1278.6 391.9h0M938.5 722.8h0M1073.5 915.7h0M990.8 1189.6h0M968.3 728.3h0" stroke="#251255"/>
<path d="M1187.6 327.4h0M932.7 718.4h0M952.0 1054.2h0M1249.1 317.5h0M1057.7 934.0h0M1036.8 917.7h0M970.4 825.1h0M932.7 813.1h0M1083.7 958.6h0M1054.9 821.1h0M1045.8 811.4h0M961.6 783.3h0M971.0 1097.7h0M1182.1 1062.6h0M849.2 1013.5h0M1240.0 765.3h0M1523.6 518.6h0M1272.6 339.7h0M1081.3 959.8h0M891.6 711.6h0M986.4 728.5h0M1018.4 820.2h0M899.0 725.0h0M959.6 1137.9h0M1040.4 928.0h0M1178.8 1026.3h0M1140.9 313.6h0M986.0 813.1h0M1037.3 1159.8h0M860.1 822.3h0M1214.0 1011.7h0M985.6 962.8h0M1277.2 383.4h0M1518.1 572.1h0M1589.2 507.6h0M1283.4 348.8h0M954.4 1111.1h0M926.2 1074.5h0M1027.1 1161.2h0M1056.0 1183.7h0M1073.4 888.5h0M1249.8 392.7h0M989.8 1123.4h0M1002.6 949.5h0M997.4 1179.3h0M1067.7 809.8h0M978.0 1160.2h0M1041.2 821.9h0M1174.4 950.8h0M1242.5 521.5h0M1009.2 814.2h0M1571.1 523.6h0M1296.5 395.1h0M1059.5 925.3h0M745.6 1107.7h0M1184.0 966.3h0M1164.4 1048.2h0M1256.9 378.5h0M1017.7 1196.8h0M944.2 975.8h0M1089.5 927.7h0M1171.7 1056.6h0" stroke="#3B0F70"/>
<path d="M1229.9 782.1h0M851.1 821.9h0M1065.3 1101.5h0M1270.1 361.3h0M944.6 1089.8h0M1243.4 372.5h0M948.7 965.5h0M1047.0 848.6h0M1055.7 1161.2h0M1038.0 920.7h0M821.1 813.6h0M1217.0 408.9h0M1199.5 283.9h0M942.2 906.4h0M1077.3 947.1h0M827.6 1054.6h0M921.7 702.6h0M915.0 700.9h0M1059.0 814.3h0M866.3 836.6h0M868.7 933.0h0M832.2 859.6h0M1275.4 388.1h0M1077.9 915.4h0M1074.0 893.7h0M1027.2 853.4h0M789.8 951.7h0M815.5 847.5h0M854.2 858.7h0M1220.1 434.5h0M1032.1 1196.8h0M964.2 1224.0h0M1530.7 567.0h0M1245.8 525.5h0M894.3 994.5h0M963.2 870.4h0M827.7 881.6h0M1257.6 385.4h0M998.2 1165.1h0M1027.9 1015.8h0M1314.1 350.2h0M997.2 1023.2h0M1078.1 843.5h0M1070.0 962.5h0M779.4 1029.4h0M1023.5 1132.2h0M978.5 1136.0h0M785.9 1033.9h0M846.8 741.2h0M1206.5 993.1h0M1271.3 379.3h0M851.0 822.5h0M1527.4 574.7h0M1049.0 905.5h0M787.3 925.9h0M992.6 797.6h0M874.5 806.0h0M942.8 730.2h0M1026.8 1049.6h0M1098.5 1144.1h0M1200.8 329.6h0M1021.0 837.9h0M1230.7 498.2h0M1061.0 812.0h0M1037.0 864.6h0M1239.7 538.8h0M1005.8 1036.4h0M1530.1 566.7h0M1338.8 652.0h0M1203.1 1036.8h0M837.0 851.4h0M1041.7 858.3h0M1074.3 967.4h0M985.6 802.7h0M993.0 1061.2h0M1073.4 963.7h0M924.1 1071.0h0M870.0 729.6h0M1292.4 384.4h0M994.7 754.1h0M917.5 715.5h0M1048.0 888.6h0M1143.3 361.6h0M1051.1 818.8h0M1080.2 905.4h0" stroke="#51127C"/>
<path d="M892.8 826.8h0M1571.2 526.1h0M948.9 736.3h0M1023.5 878.8h0M1206.8 1002.3h0M947.3 828.2h0M812.9 828.3h0M858.9 858.9h0M904.4 702.3h0M1147.5 367.1h0M817.5 857.9h0M1078.3 816.8h0M1104.5 1141.1h0M893.1 779.0h0M900.1 775.6h0M956.3 804.5h0M939.5 1095.6h0M966.6 822.7h0M1223.2 1043.6h0M970.4 811.7h0M1517.3 568.8h0M987.4 829.7h0M1007.9 828.1h0M1250.5 313.4h0M1301.9 375.4h0M1087.4 950.3h0M1273.3 331.3h0M1137.1 325.9h0M953.7 909.0h0M908.9 827.1h0M1248.0 493.6h0M1242.0 502.1h0M879.8 964.6h0M952.8 817.7h0M1250.0 333.7h0M1002.5 1081.6h0M1005.0 821.4h0M1007.4 1142.5h0M807.1 818.0h0M1190.3 341.1h0M1269.5 365.8h0M1048.9 909.5h0M1248.8 314.5h0M1156.5 996.1h0M1254.5 497.6h0M833.3 851.3h0M976.1 823.1h0M1234.6 356.1h0M1279.5 347.1h0M824.5 856.5h0M906.8 1176.8h0M1042.1 875.1h0M974.7 732.4h0M1201.5 281.8h0M851.5 807.6h0M1593.2 507.0h0M993.0 1125.1h0M825.9 885.5h0M1025.2 804.3h0M740.8 889.0h0M1282.0 349.8h0M819.7 791.8h0M1004.9 813.4h0M1281.3 341.5h0M1520.9 563.5h0M1081.1 858.1h0M867.2 830.9h0M1241.8 399.0h0M1035.6 1032.6h0M1244.8 341.5h0M1515.5 512.9h0M793.7 1107.3h0M1122.6 312.4h0M996.0 1081.5h0M1162.0 821.1h0M869.6 850.1h0M896.3 714.8h0M859.6 949.5h0M1240.3 329.0h0M829.9 850.3h0M1102.9 791.6h0M948.9 809.3h0M1166.3 948.4h0M1240.1 508.5h0M987.1 730.4h0M1286.3 377.9h0M1011.5 774.0h0M1063.1 923.6h0M1178.6 1067.4h0M1246.9 498.8h0M1264.3 340.5h0M1170.0 360.3h0M882.3 721.6h0M1227.3 348.0h0M886.1 863.6h0M1038.1 1037.5h0M977.0 985.6h0M1015.5 878.2h0M835.3 792.7h0M1174.0 1020.1h0" stroke="#641A80"/>
<path d="M856.7 852.2h0M905.4 1135.1h0M1145.7 308.7h0M830.9 793.4h0M1021.2 901.9h0M833.1 865.9h0M780.3 1117.0h0M832.2 875.1h0M987.8 811.2h0M833.0 809.7h0M891.7 793.9h0M1260.5 339.4h0M818.5 810.2h0M873.5 733.4h0M1176.4 473.8h0M1223.7 433.4h0M1041.2 902.4h0M1187.6 372.9h0M1180.5 324.6h0M1212.6 1037.8h0M1548.8 518.8h0M836.5 811.2h0M1299.7 356.9h0M1138.7 793.0h0M1078.9 917.6h0M853.3 866.7h0M1147.4 335.1h0M918.8 902.7h0M991.4 812.1h0M909.6 907.0h0M1060.7 961.1h0M878.7 819.0h0M1197.5 987.3h0M1280.5 337.5h0M888.7 1157.0h0M1092.8 422.6h0M1238.6 500.0h0M838.3 800.1h0M1130.0 320.4h0M1245.1 389.1h0M1120.9 324.9h0M865.8 799.5h0M941.6 824.8h0M913.4 903.2h0M1262.7 340.1h0M1229.2 404.8h0M1203.6 322.4h0M1198.7 388.8h0M888.8 734.6h0M1024.6 815.5h0M1161.6 314.8h0M1218.4 803.9h0M911.4 698.3h0M1493.7 519.8h0M985.0 1145.4h0M862.9 795.6h0M1243.6 313.0h0M1276.8 384.4h0M1597.0 508.3h0M946.8 723.2h0M1194.3 273.1h0M1228.8 326.0h0M1275.9 353.5h0M872.4 815.8h0M853.4 862.5h0M1295.7 387.0h0M942.2 819.2h0M1567.1 516.5h0M859.2 976.3h0M885.4 828.5h0M1228.7 492.5h0M854.8 1147.3h0M836.6 828.0h0M847.4 831.4h0M913.8 926.6h0M1146.9 1097.8h0M717.6 1047.3h0M1711.9 907.1h0M1014.2 1107.9h0M964.8 803.3h0M1290.6 341.2h0M915.7 896.4h0M977.2 729.5h0M1238.5 546.1h0M1141.4 315.3h0M1184.0 1071.0h0M812.0 864.5h0M910.1 714.1h0M1082.0 875.1h0" stroke="#782281"/>
<path d="M723.1 924.1h0M1141.7 314.9h0M1192.8 333.1h0M1215.2 1044.3h0M814.5 1125.6h0M1267.4 386.8h0M711.5 980.4h0M963.2 714.7h0M1255.2 495.2h0M1011.5 895.7h0M955.7 800.9h0M1284.8 347.4h0M835.6 836.2h0M913.9 909.0h0M960.5 1147.0h0M978.0 825.5h0M1195.9 1068.5h0M816.2 824.0h0M886.3 841.9h0M858.2 984.9h0M1143.4 807.4h0M1080.0 878.0h0M814.3 819.3h0M812.5 1124.1h0M1053.8 1184.3h0M903.9 872.3h0M925.3 1126.1h0M1142.0 983.3h0M896.7 818.8h0M1226.3 396.6h0M960.5 727.0h0M890.7 725.4h0M942.7 910.8h0M1239.0 488.0h0M1303.6 358.9h0M1246.2 383.9h0M1028.4 1212.4h0M1155.4 1092.5h0M1238.4 494.2h0M1232.7 783.2h0M1237.7 814.4h0M1185.8 963.5h0M958.3 904.0h0M1228.1 360.8h0M1231.6 480.8h0M1249.9 486.9h0M817.4 836.3h0M1285.0 365.3h0M802.3 849.7h0M987.3 790.3h0M1015.8 820.6h0M1262.0 333.2h0M910.2 919.2h0M839.9 831.6h0M1222.4 307.6h0M1184.2 330.2h0M1098.9 889.3h0M1171.6 384.1h0M868.6 808.7h0M886.3 723.6h0M721.8 1050.6h0M996.8 818.4h0M1262.6 325.6h0M985.1 804.1h0M1152.1 320.9h0M1004.2 1167.1h0M903.7 821.8h0M927.7 962.5h0M1301.4 379.7h0M1122.7 1117.1h0M1260.7 315.2h0M1208.3 322.7h0M901.3 897.7h0M915.0 931.1h0M945.8 1062.9h0M966.3 798.4h0M949.3 1118.9h0M905.1 699.0h0M1076.0 941.6h0M887.1 731.8h0M1282.0 396.9h0" stroke="#8C2981"/>
<path d="M958.1 724.3h0M877.0 1169.1h0M1161.1 359.2h0M1292.6 365.0h0M1236.9 505.0h0M812.0 804.3h0M883.1 938.2h0M975.7 822.8h0M1156.0 743.9h0M1212.4 365.3h0M1185.1 323.2h0M1190.1 396.6h0M1170.4 384.6h0M883.2 805.3h0M930.3 909.7h0M815.2 885.6h0M1140.5 763.7h0M876.0 814.9h0M1182.9 844.0h0M1276.4 341.0h0M1148.1 307.7h0M981.4 736.2h0M908.4 896.2h0M726.4 1078.2h0M1268.6 346.7h0M881.2 827.0h0M976.0 825.6h0M837.1 797.1h0M950.0 812.9h0M815.1 881.8h0M1241.2 374.0h0M1196.7 677.6h0M1140.5 330.4h0M1300.3 392.4h0M742.4 1062.5h0M1140.6 367.0h0M816.4 796.8h0M1002.1 1161.4h0M853.6 833.2h0M842.6 805.4h0M741.4 1094.3h0M1295.0 391.2h0M1707.7 902.8h0M992.6 801.7h0M819.4 846.6h0M846.8 848.2h0M1259.5 353.2h0M1283.6 355.6h0M867.9 835.3h0M1266.4 319.4h0M1259.1 316.1h0M807.0 843.3h0M1176.2 1009.8h0M969.2 817.8h0M921.9 713.0h0M917.4 925.3h0M1154.7 359.1h0M704.7 1043.8h0M1280.0 339.4h0M1028.5 1093.3h0M865.0 1019.5h0M1180.6 327.5h0M1184.0 380.3h0M1111.6 806.7h0" stroke="#A1307E"/>
<path d="M888.1 828.6h0M1204.1 438.8h0M811.1 833.5h0M1152.9 319.8h0M885.8 963.4h0M1280.3 473.3h0M840.7 832.1h0M1273.5 377.2h0M1705.5 906.3h0M1271.6 362.9h0M1034.0 1073.4h0M1259.3 493.8h0M1278.7 483.2h0M1125.5 798.9h0M1181.3 365.8h0M1243.0 484.4h0M1005.5 1163.0h0M1198.3 987.9h0M932.7 718.6h0M1277.6 339.1h0M965.6 815.2h0M1214.3 408.1h0M1229.0 314.6h0M965.1 761.8h0M1279.6 335.5h0M862.0 751.4h0M841.1 829.5h0M1269.3 376.8h0M1254.6 330.7h0M1279.8 369.2h0M1271.6 343.1h0M1260.3 334.0h0M1259.9 354.9h0M1261.8 378.9h0M983.3 789.3h0M1110.3 1131.1h0M903.7 711.2h0M837.5 853.9h0" stroke="#B73779"/>
<path d="M1171.0 378.1h0M1214.6 671.2h0M1314.1 352.7h0M1262.8 328.5h0M1270.1 459.4h0M1231.9 493.5h0M1219.4 673.1h0M1200.6 352.2h0M1201.1 439.1h0M810.7 854.2h0M851.4 797.9h0M1265.4 373.9h0M1280.5 325.1h0M1288.2 400.8h0M1265.0 480.3h0M1235.8 503.9h0M1288.5 479.0h0M1288.0 342.4h0M1280.5 463.8h0M1277.5 318.8h0M1201.5 432.7h0M1258.3 364.6h0M1006.2 812.1h0M1247.4 391.2h0M1214.8 439.6h0" stroke="#CA3E72"/>
<path d="M1275.3 470.6h0M1185.7 665.5h0M1273.4 360.8h0M1271.1 459.3h0M832.9 803.3h0M1196.4 368.1h0M1278.5 456.8h0M1189.1 385.0h0M1217.5 412.8h0M1216.2 409.6h0M1239.7 313.5h0M1249.8 483.5h0M1270.6 483.9h0M909.3 699.3h0M1231.1 314.8h0M1284.2 477.8h0M1280.9 343.3h0M1265.3 359.9h0M1196.2 406.8h0M1291.3 394.8h0M1293.3 475.8h0M1245.7 344.3h0" stroke="#DE4968"/>
<path d="M1278.8 459.1h0M1278.5 469.7h0M1277.1 483.3h0M1293.9 461.8h0M1266.6 478.3h0M1270.4 491.6h0" stroke="#ED5A5F"/>
<path d="M1272.8 469.3h0M1285.4 459.4h0M1143.9 332.8h0M1259.0 483.9h0M884.5 815.5h0M1140.6 316.6h0M1249.7 483.4h0M878.1 813.7h0M1261.6 367.2h0" stroke="#F7705C"/>
<path d="M1269.4 459.3h0M1281.4 460.9h0M1274.6 460.3h0M1269.4 483.2h0M1269.8 459.1h0" stroke="#FC8961"/>
<path d="M1215.7 329.3h0M1261.3 472.4h0M1289.1 463.2h0M1288.5 453.0h0" stroke="#FE9F6D"/>
<path d="M1287.4 480.1h0M1274.1 481.6h0" stroke="#FEB77E"/>
<path d="M1289.2 463.6h0" stroke="#FECF92"/>
<path d="M1263.7 471.1h0" stroke="#FDE7A9"/>
<path d="M983.1 1055.0h0M1485.1 529.6h0M1715.9 839.2h0M1189.0 835.0h0M723.9 975.4h0M726.9 1014.1h0M1077.0 952.5h0M1015.5 1117.7h0M725.1 1069.9h0M1166.6 1066.0h0M700.5 1088.1h0M1025.3 950.1h0M986.4 953.4h0M945.7 803.0h0M719.4 930.8h0M1054.7 813.9h0M1228.5 816.3h0M1205.2 1026.6h0M1527.8 560.1h0M986.7 780.0h0M980.3 947.5h0M1248.3 807.1h0M925.1 1140.3h0M1517.6 550.6h0M907.1 1040.4h0M788.4 949.8h0M1247.4 749.7h0M651.1 569.2h0M783.3 1050.4h0M948.9 1158.2h0M809.7 853.4h0M1243.2 752.0h0M1119.3 1073.8h0M846.6 1001.1h0M977.9 1059.4h0M906.3 1139.0h0M1002.1 958.2h0M815.9 834.6h0M750.2 999.1h0M876.2 1173.3h0M752.7 942.1h0M772.1 1023.0h0M737.6 1060.0h0M917.4 963.6h0M966.4 1181.3h0M1213.0 936.1h0M1027.1 951.2h0M1623.9 714.9h0M1170.0 423.1h0M972.0 1155.9h0M937.8 957.2h0M1225.7 791.9h0M1604.0 649.0h0M883.4 1186.8h0M1005.5 1017.9h0M697.7 1036.2h0M998.2 1058.3h0M1219.8 426.5h0M860.9 847.4h0M707.1 1103.2h0M701.5 1065.2h0M701.7 1093.0h0M1167.0 469.3h0M1027.8 1176.6h0M1614.1 689.3h0M717.6 934.4h0M762.6 970.8h0M1139.4 774.4h0M1138.8 793.4h0M1141.1 331.1h0M888.6 1125.7h0M1057.2 908.7h0M617.1 534.0h0M1041.7 835.4h0M1030.4 841.6h0M738.8 1073.6h0M890.6 1048.5h0M771.3 1086.4h0M906.1 1099.6h0M1035.7 1181.6h0M655.3 558.8h0M1141.9 990.2h0M1032.8 1142.1h0M1000.9 954.2h0M992.9 1230.1h0M758.5 1049.2h0M1165.1 1009.8h0M1171.1 736.0h0M1216.9 364.4h0M1621.8 681.6h0M958.8 1225.8h0M659.2 576.6h0M706.7 990.9h0M1046.3 958.2h0M1160.4 742.0h0M743.1 1019.0h0M1012.8 961.6h0M957.3 1120.6h0M867.6 1135.9h0M1070.6 1160.4h0M976.3 986.4h0M978.2 1029.1h0M701.2 1055.8h0M746.4 907.0h0M1626.2 725.6h0M1009.2 1181.9h0M1536.8 542.4h0M820.3 922.1h0M1193.7 1006.8h0M1071.5 932.3h0M644.0 528.8h0M1155.9 465.3h0M1201.8 995.6h0M867.2 927.8h0M1131.0 1106.4h0M1038.6 928.9h0M994.9 1172.6h0M711.2 985.2h0M1031.9 1132.0h0M783.7 1038.6h0M1139.1 1102.0h0M1215.6 847.0h0M1052.6 1043.9h0M1166.8 795.3h0M1242.3 691.9h0M1110.7 890.1h0M1625.2 701.5h0M749.2 1072.1h0M1233.3 769.5h0M865.0 1139.3h0M1161.2 1086.3h0M973.5 989.5h0M1035.9 1117.2h0M759.5 1081.4h0M795.7 989.9h0M707.8 1051.1h0M940.5 1006.7h0M961.9 793.7h0M1143.0 771.9h0M921.2 1157.3h0M959.8 1164.3h0M952.7 1006.0h0M1514.3 553.6h0M1046.4 1083.1h0M1000.1 742.5h0M797.7 1112.2h0M930.2 1107.9h0M1766.1 806.3h0M840.3 816.1h0M988.6 1222.4h0M1619.4 723.7h0M843.0 1156.8h0M1196.3 808.8h0M1209.9 967.6h0M1072.9 912.2h0M1566.1 510.9h0M629.4 517.1h0M1244.8 821.6h0M781.6 1026.1h0M724.0 1025.8h0M1134.7 781.5h0M1200.0 671.1h0M1634.0 681.5h0M742.0 962.3h0M804.2 797.8h0M980.8 1062.6h0M1130.1 1094.1h0M835.3 1091.3h0M1138.0 313.2h0M858.4 1115.2h0M1236.9 800.4h0M713.5 973.2h0M752.8 995.4h0M1007.4 1123.5h0M382.3 496.3h0M928.2 1042.0h0M697.5 963.3h0M857.8 917.2h0M909.0 937.5h0M1225.9 814.4h0M762.1 1103.6h0M1045.0 1199.2h0M922.9 796.2h0M1046.7 1191.9h0M835.1 991.6h0M1613.1 649.1h0M1038.3 1010.8h0M1201.3 329.8h0M1144.7 843.8h0M1130.2 1105.4h0M1184.7 852.7h0M1487.4 511.2h0M833.4 844.1h0M1227.5 938.9h0M1576.6 511.3h0M1070.0 841.0h0M761.9 1013.0h0M1644.3 731.4h0M868.2 1124.4h0M948.5 1053.9h0M758.7 1068.4h0M1621.1 693.4h0M1120.5 1018.0h0M819.0 836.4h0M967.3 873.0h0M1619.3 696.6h0M934.8 1096.2h0M887.1 1090.8h0M899.1 1113.2h0M1135.7 964.0h0M780.8 1075.7h0M1023.6 1142.6h0M1507.4 514.9h0M1146.0 410.0h0M704.4 1002.1h0M870.5 1098.3h0M786.7 935.6h0M1151.0 787.8h0M999.2 762.6h0M1153.1 739.7h0M1192.6 1010.3h0M1611.3 711.9h0M743.3 1004.4h0M993.2 1155.7h0M1202.4 1069.1h0M1134.3 1114.6h0M1192.5 336.8h0M997.8 929.9h0M1230.1 1035.7h0M722.5 948.2h0M930.5 1110.4h0M1135.3 805.7h0M838.2 1144.4h0M1164.9 1009.0h0M903.8 1016.5h0M753.6 939.1h0M957.2 999.4h0M1084.3 972.1h0M1075.7 813.7h0M1171.2 825.1h0M701.8 1069.2h0M792.7 941.8h0M1342.6 650.5h0M931.4 1148.5h0M815.6 1121.4h0M1197.6 850.9h0M1624.6 710.4h0M294.5 982.0h0M805.4 896.2h0M950.4 1202.5h0M962.5 998.1h0M1525.7 522.7h0M957.7 965.6h0M1224.2 1048.3h0M1243.9 786.4h0M1123.6 796.9h0M1039.5 929.1h0M771.2 1073.3h0M777.5 949.9h0M1089.8 907.7h0M1763.1 808.4h0M1581.4 630.6h0M1240.0 665.0h0M1054.7 1011.3h0M616.6 534.6h0M745.5 1096.4h0M1497.9 587.3h0M1158.8 1011.9h0M1031.1 1056.7h0M933.5 1212.2h0M1008.7 1139.3h0M724.7 1092.7h0M980.4 852.4h0M888.9 1186.6h0M1217.7 1057.3h0M937.5 1007.9h0M1196.6 1068.6h0M982.5 974.0h0M1176.7 845.8h0M1031.1 1155.5h0M1034.5 1157.8h0M707.1 928.6h0M1205.7 787.0h0M1619.8 721.2h0M999.1 1000.7h0M1023.8 1116.4h0M1010.5 963.3h0M896.0 1219.0h0M942.4 1046.4h0M1058.5 927.1h0M1533.9 536.5h0M923.0 1180.5h0M637.7 507.7h0M691.6 1034.2h0M1137.6 767.8h0M1630.2 696.9h0M940.5 824.6h0M893.2 1174.9h0M1214.8 1017.0h0M1196.0 753.6h0M619.6 516.9h0M721.0 988.7h0M1338.9 652.5h0M1176.8 467.4h0M621.3 520.6h0M977.9 1165.5h0M1257.6 709.6h0M916.3 887.5h0M724.1 1095.2h0M1213.1 1014.7h0M896.1 1002.0h0M998.9 1045.9h0M866.1 830.2h0M1247.5 942.5h0M931.0 1041.4h0M1609.6 699.6h0M877.6 897.6h0M492.7 224.9h0M1040.5 1097.1h0M1023.6 1061.1h0M981.4 1039.2h0M933.7 996.9h0M1000.6 1002.6h0M710.2 925.1h0M1057.6 797.1h0M1105.5 786.2h0M958.1 975.0h0M1155.6 737.9h0M1239.8 539.4h0M634.9 512.8h0M1203.0 1067.7h0M801.7 825.0h0M711.3 998.0h0M918.3 1097.9h0M949.9 970.4h0M1087.8 965.9h0M1137.4 371.7h0M1605.9 640.8h0M875.2 887.2h0M1008.9 947.0h0M1113.9 791.9h0M826.7 1057.2h0M727.9 1043.0h0M1487.1 513.1h0M1171.9 838.0h0M716.6 1046.5h0M1499.2 584.3h0M824.6 1137.1h0M991.0 1214.6h0M1099.1 780.5h0M1193.0 844.0h0M1168.8 363.3h0M1014.1 1113.0h0M1230.0 780.6h0M1004.5 1217.3h0M1616.0 673.0h0M719.0 925.6h0M1190.9 968.1h0M746.1 1001.9h0M811.1 797.4h0M848.1 1144.8h0M1205.4 958.8h0M900.6 1044.2h0M1009.0 939.4h0M897.7 1131.1h0M706.8 963.0h0M978.2 1223.8h0M823.5 837.3h0M950.4 1186.3h0M710.7 990.2h0M894.0 799.7h0M984.7 819.2h0M953.6 735.7h0M909.4 1127.4h0M1231.2 807.3h0M952.0 731.9h0M1011.0 1156.7h0M951.2 1223.3h0M712.1 943.3h0M1082.4 929.4h0M730.4 1000.7h0M987.9 919.4h0M925.2 798.4h0M803.6 989.4h0M1206.6 428.2h0M972.0 882.9h0M931.0 820.0h0M858.2 1158.5h0M784.8 939.8h0M859.7 1132.2h0M1026.1 871.2h0M863.8 1121.1h0M1242.4 950.1h0M817.5 1047.9h0M756.7 1004.1h0M886.7 1209.1h0M1164.2 848.4h0M895.5 1103.1h0M1500.6 592.5h0M1577.3 520.6h0M1196.3 987.7h0M773.7 894.8h0M993.1 930.2h0M966.1 953.6h0M1089.9 882.4h0M938.6 904.5h0M1007.1 1173.4h0M789.4 1045.6h0M737.7 1094.9h0M1117.1 969.6h0M1612.5 690.5h0M1245.0 751.7h0M858.7 816.6h0M1112.7 808.7h0M1253.4 702.6h0M791.7 972.5h0M629.9 517.9h0M1046.9 1054.3h0M869.6 986.3h0M907.7 1053.3h0M1041.0 1161.0h0M1077.4 853.7h0M898.5 1180.8h0M1202.4 856.4h0M888.9 1077.8h0M1490.8 522.4h0M1189.6 776.9h0M769.8 1031.7h0M1049.4 1055.0h0M955.6 1193.0h0M1060.5 929.4h0M894.0 903.0h0M1064.9 848.9h0M1621.5 658.0h0M1215.3 467.3h0M992.2 1158.1h0M1101.3 778.1h0M1134.3 966.4h0M1011.4 1137.4h0M1021.9 1085.9h0M945.6 1029.3h0M920.9 1132.7h0M898.6 1060.6h0M1165.3 1039.8h0M1187.1 837.2h0M1185.1 842.9h0M1182.4 798.6h0M1243.0 798.3h0M901.0 1056.1h0M966.1 1086.5h0M747.4 994.4h0M740.9 1109.8h0M652.6 568.2h0M905.9 1174.7h0M933.6 952.5h0M805.5 880.4h0M930.5 945.5h0M936.7 1017.5h0M1140.7 1052.1h0M1635.3 697.0h0M1027.4 1219.0h0M880.4 1144.3h0M769.5 1108.3h0M958.5 775.1h0M1163.2 994.2h0M758.9 1052.8h0M762.9 1073.4h0M1044.5 1028.5h0M1149.2 742.1h0M1054.4 1175.3h0M934.9 701.6h0M764.1 1109.3h0M1238.9 756.3h0M1187.8 833.5h0M1608.4 693.8h0M746.3 1001.1h0M785.5 1109.5h0M1245.8 801.4h0M934.5 1109.2h0M1092.0 1150.3h0M937.4 1001.1h0M1034.7 811.9h0M1032.5 963.9h0M816.8 831.5h0M1512.0 526.4h0M760.4 1058.0h0M904.7 980.7h0M1110.1 1036.3h0M1185.6 971.6h0M1104.2 1042.2h0M1229.1 756.8h0M819.5 817.2h0M995.3 1002.9h0M923.9 1135.9h0M946.4 820.9h0M1012.0 1150.3h0M1150.3 766.7h0M987.2 1048.3h0M591.1 538.0h0M944.1 1124.0h0M1087.0 954.2h0M988.1 1211.8h0M1164.8 835.9h0M1139.9 775.9h0M919.3 1231.4h0M909.7 1151.2h0M933.0 798.4h0M649.6 566.2h0M976.0 1027.3h0M1140.4 1111.0h0M633.2 527.2h0M1116.8 870.9h0M944.1 1152.2h0M1048.0 1021.9h0M1050.9 1109.9h0M1170.2 782.7h0M784.1 925.6h0M799.8 991.1h0M898.2 1094.9h0M1486.3 514.4h0M620.8 542.8h0M817.6 822.4h0M995.8 1121.4h0M924.8 1069.4h0M730.0 1079.4h0M1164.8 835.6h0M995.4 734.4h0M986.3 1051.4h0M785.2 1121.1h0M993.9 948.4h0M1028.6 815.6h0M1057.8 815.5h0M698.5 1072.0h0M803.7 1122.7h0M1026.9 1131.1h0M722.9 993.6h0M1071.8 839.8h0M1011.1 957.5h0M617.7 511.7h0M1106.3 1009.7h0M739.5 1107.8h0M720.2 1101.5h0M1116.2 1077.0h0M1046.8 805.2h0M1059.4 1105.5h0M965.1 936.5h0M1187.2 1079.0h0M1174.8 392.1h0M1615.0 695.0h0M1598.5 643.2h0M1209.1 966.2h0M1142.7 791.7h0M861.1 753.2h0M1224.0 349.3h0M984.1 957.8h0M757.1 1040.6h0M1500.4 593.8h0M1187.5 1069.1h0M745.5 1009.3h0M1060.6 1022.4h0M671.5 565.7h0M734.1 1049.3h0M1097.0 421.7h0M1034.4 1104.2h0M1221.6 773.1h0M1024.4 1024.1h0M730.8 1088.9h0M1148.9 377.2h0M1051.1 936.2h0M1517.8 552.6h0M1103.3 1085.8h0M966.2 979.9h0M1627.1 681.0h0M1623.4 696.4h0M940.4 1112.7h0M1065.8 899.7h0M696.6 1053.5h0M937.2 811.1h0M1224.0 811.5h0M926.2 1029.6h0M1164.7 475.3h0M1509.5 544.2h0M697.4 1090.8h0M696.7 1082.8h0M980.1 1224.0h0M983.0 914.5h0M1166.7 411.3h0M909.1 980.5h0M1015.1 887.3h0M951.0 709.9h0M745.1 1035.9h0M1057.1 1044.8h0M874.2 1010.4h0M826.8 1043.3h0M863.1 1182.7h0M876.6 871.0h0M1512.1 544.1h0M1021.9 1152.7h0M830.9 1060.5h0M1242.4 520.2h0M1155.6 788.3h0M1484.0 517.3h0M749.1 1096.7h0M915.2 968.6h0M1647.2 718.7h0M851.4 862.8h0M917.4 1178.7h0M822.3 1041.4h0M908.2 1194.6h0M1173.6 414.8h0M1217.1 676.8h0M854.0 743.1h0M1539.2 584.0h0M765.9 972.6h0M1166.4 840.8h0M1568.2 516.2h0M931.3 1229.2h0M792.3 1070.4h0M1117.0 778.8h0M995.5 1228.6h0M620.5 510.0h0M1007.3 1119.3h0M1594.0 690.0h0M897.1 1159.4h0M1049.4 1160.5h0M894.6 1154.1h0M745.8 1002.3h0M1080.5 938.7h0M1253.6 706.1h0M1149.9 1098.4h0M1016.6 1089.4h0M737.3 1016.3h0M1120.9 328.4h0M1234.5 818.7h0M1087.1 1010.2h0M845.8 1062.7h0M700.7 1052.2h0M878.7 732.8h0M1117.0 824.5h0M922.5 957.5h0M1133.4 1031.8h0M840.8 1148.1h0M1553.4 524.4h0M830.0 1120.7h0M1217.6 1010.9h0M989.2 964.8h0M593.8 537.7h0M706.6 1014.2h0M1039.4 869.1h0M707.3 1013.3h0M1587.8 513.0h0M711.0 983.6h0M1045.8 884.3h0M1180.2 838.9h0M1026.6 877.3h0M1042.4 870.5h0M902.1 974.7h0M868.4 1197.6h0M942.4 825.1h0M1622.7 653.2h0M1199.5 788.8h0M1181.7 1072.3h0M832.1 1095.7h0M1245.7 755.0h0M1489.5 531.4h0M855.5 1066.1h0M790.1 1109.6h0M989.1 734.7h0M1020.2 1129.6h0M886.6 1087.4h0M1500.6 525.3h0M1063.3 1105.8h0M1499.4 518.6h0M811.9 927.4h0M1135.0 375.9h0M723.5 1099.8h0M885.5 1162.8h0M1062.0 916.0h0M988.5 1209.7h0M947.5 1205.9h0M820.1 847.3h0M1615.0 720.3h0M941.7 1133.0h0M1506.2 521.9h0M866.6 1154.0h0M1493.0 531.2h0M1494.9 535.3h0M1088.0 1013.0h0M897.8 1141.2h0M1209.3 790.2h0M873.1 1164.1h0M856.8 1168.6h0M899.0 986.5h0M1127.8 407.7h0M1704.7 828.6h0M902.5 1157.0h0M919.0 1171.8h0M1158.4 734.5h0M1104.0 798.2h0M1275.3 973.2h0M852.8 1128.3h0M746.7 971.5h0M764.9 1114.1h0M952.9 967.9h0M1490.2 516.8h0M1155.8 841.1h0M977.0 1235.8h0M1063.1 1001.4h0M987.3 1040.0h0M1224.7 368.0h0M714.1 1029.7h0M895.5 1049.1h0M993.4 792.1h0M1006.1 1068.8h0M1648.4 729.8h0M1152.0 307.3h0M1050.9 896.5h0M815.1 1095.1h0M893.9 1180.1h0M1516.7 547.6h0M1086.3 1011.5h0M1133.0 761.7h0M967.9 989.3h0M873.7 1100.2h0M715.9 1098.8h0M1207.9 963.1h0M1082.5 913.2h0M752.3 969.6h0M979.6 1125.4h0M1056.9 812.4h0M1091.8 864.0h0M635.2 505.6h0M1132.7 342.0h0M905.0 1181.9h0M1180.0 848.1h0M1288.5 380.6h0M895.9 1086.3h0M1137.9 980.4h0M838.3 822.7h0M1001.2 1212.2h0M617.5 537.9h0M1287.2 458.2h0M1073.1 845.7h0M1070.2 901.1h0M781.2 928.3h0M767.6 918.8h0M1170.3 433.1h0M900.0 976.7h0M744.6 975.6h0M1009.8 972.9h0M718.7 938.0h0M710.2 987.3h0M1246.6 392.4h0M1247.5 737.9h0M1101.9 923.7h0M711.2 1092.3h0M995.3 1221.3h0M975.5 1224.5h0M908.2 1155.8h0M1241.6 761.0h0M1060.8 978.5h0M1241.5 952.3h0M1238.3 649.2h0M932.9 1081.1h0M1189.3 988.4h0M1181.7 1044.1h0M804.2 1134.6h0M944.4 932.6h0M798.4 1029.2h0M928.8 1118.4h0M1048.2 1163.5h0M1189.5 768.8h0M745.5 1067.9h0M1110.4 1068.7h0M979.3 1015.2h0M1620.3 686.7h0M1528.7 553.1h0M621.1 541.4h0M717.3 971.0h0M1622.3 646.0h0M1109.8 885.0h0M1618.2 695.7h0M1200.3 791.4h0M852.2 1178.9h0M1068.4 1072.9h0M1141.6 1090.6h0M978.9 1046.3h0M791.0 988.1h0M866.1 784.9h0M725.9 984.5h0M695.2 1065.7h0M771.2 1090.0h0M880.4 963.3h0M1591.6 700.6h0M784.9 1114.7h0M645.8 515.5h0M788.5 1113.9h0M816.7 1095.6h0M1200.4 815.1h0M1622.7 714.4h0M1058.9 866.7h0M1122.1 1008.3h0M1214.9 759.0h0M1623.0 690.5h0M1251.6 704.1h0M760.1 967.9h0M1047.2 1086.7h0M749.6 1049.2h0M780.7 942.3h0M629.5 510.0h0M1169.4 423.1h0M719.1 1100.9h0M724.0 1010.5h0M1027.4 857.3h0M864.1 1112.0h0M1119.2 1131.6h0M1137.4 983.6h0M1012.9 1128.8h0M779.8 924.2h0M883.6 1123.3h0M1035.9 1124.9h0M1026.7 1210.2h0M1043.6 882.9h0M1120.1 815.4h0M1612.0 690.3h0M1534.2 551.0h0M970.6 973.9h0M911.0 1212.9h0M996.1 1055.5h0M978.6 944.2h0M994.3 1226.2h0M494.2 226.6h0M727.3 971.3h0M1223.3 709.2h0M711.9 928.4h0M1024.2 926.5h0M1014.2 1147.6h0M909.4 1205.8h0M878.8 1204.8h0M1171.1 1026.0h0M928.6 1095.8h0M1033.8 1106.8h0M1059.5 989.8h0M1175.1 1030.3h0M976.3 1156.1h0M974.5 723.0h0M1212.2 795.4h0M710.2 984.4h0M1146.3 797.1h0M1176.1 697.1h0M1210.0 403.0h0M1495.6 506.2h0M1035.2 820.3h0M1156.5 828.3h0M1052.5 944.4h0M796.3 941.3h0M853.0 1077.9h0M1107.1 416.4h0M935.9 1169.8h0M744.2 1087.6h0M1173.9 1082.4h0M1028.8 960.2h0M1609.1 706.3h0M728.9 982.0h0M984.7 949.0h0M1165.4 468.1h0M1531.1 563.1h0M1217.2 1063.1h0M857.5 1151.2h0M849.0 848.6h0M1123.0 410.9h0M749.2 1101.5h0M862.8 1128.4h0M905.4 794.6h0M956.1 1146.2h0M759.0 1029.0h0M704.5 987.4h0M1065.6 829.7h0M780.9 949.6h0M901.3 1173.4h0M993.6 979.3h0M795.8 906.3h0M870.8 824.0h0M1119.9 1120.0h0M842.9 1052.1h0M1030.2 942.1h0M732.6 1056.5h0M899.6 1199.6h0M749.4 895.2h0M724.7 907.3h0M1028.7 1082.4h0M1099.4 862.9h0M1209.7 814.5h0M1239.3 761.3h0M1259.5 356.6h0M1183.5 851.7h0M1225.6 671.7h0M725.9 937.8h0M1493.5 514.2h0M1181.8 837.5h0M1055.1 1091.9h0M770.8 1031.1h0M971.5 1010.7h0M1495.7 520.2h0M1524.8 561.7h0M1729.3 830.1h0M1168.7 330.0h0M906.7 1173.1h0M1076.9 884.4h0M858.7 1146.9h0M1144.4 776.6h0M947.9 912.1h0M950.2 708.4h0M937.2 706.9h0M1085.0 992.5h0M1162.6 1002.1h0M1036.4 1148.1h0M780.4 941.5h0M1146.5 965.0h0M1119.9 1079.2h0M700.6 1052.9h0M945.1 806.8h0M901.3 1178.4h0M769.1 983.8h0M911.2 1091.1h0M781.4 937.1h0M640.2 567.2h0M628.3 555.7h0M855.4 1041.6h0M830.7 1048.2h0M742.1 998.6h0M1091.8 944.2h0M1065.9 908.8h0M1222.9 940.6h0M1045.3 805.8h0M971.5 924.1h0M1194.8 975.8h0M1134.3 1109.0h0M975.4 1012.8h0M1058.8 889.9h0M888.0 1062.6h0M862.3 1184.9h0M1129.0 769.4h0M872.7 1005.7h0M882.6 1206.3h0M757.5 1037.0h0M1250.0 489.7h0M839.6 1003.9h0M955.5 1185.3h0M754.9 929.5h0M1173.9 380.6h0M790.5 1120.9h0M847.3 1145.3h0M624.5 517.0h0M1077.8 951.4h0M1060.5 1003.0h0M1136.6 851.7h0M847.0 804.8h0M1165.2 1008.0h0M823.6 1051.6h0M800.9 923.2h0M1063.2 820.5h0M1041.7 1150.1h0M1165.2 803.6h0M907.9 982.5h0M751.2 1086.7h0M728.2 1087.3h0M797.7 923.1h0M1095.0 869.3h0M1022.5 1121.6h0M1111.4 997.7h0M850.9 854.0h0M943.7 1130.5h0M1130.6 833.9h0M1062.9 921.2h0M1238.5 756.7h0M1025.8 1027.4h0M1201.7 441.1h0M1592.9 703.4h0M1057.4 949.6h0M1524.4 563.2h0M859.3 882.1h0M1119.4 1094.1h0M1498.6 580.3h0M1062.3 851.5h0M650.6 568.4h0M1156.7 736.9h0M1235.3 686.8h0M822.7 884.7h0M1028.0 1027.8h0M838.6 1120.0h0M1007.8 1213.6h0M800.7 900.2h0M906.3 1100.4h0M722.3 1087.6h0M983.6 995.2h0M1011.0 803.5h0M929.9 1125.8h0M882.5 903.2h0M635.9 504.7h0M888.5 841.0h0M905.3 974.9h0M941.9 1207.3h0M1117.5 804.9h0M1067.8 960.7h0M1520.6 560.0h0M1090.0 913.7h0M960.2 969.8h0M963.2 1066.6h0M956.3 950.8h0M756.0 1007.3h0M916.9 970.0h0M1497.8 518.1h0M1537.9 550.9h0M777.6 931.7h0M844.4 1143.1h0M942.8 1049.8h0M884.1 1002.6h0M961.2 1000.3h0M735.0 1005.1h0M1702.3 826.5h0M1188.3 336.1h0M1079.5 954.9h0M1637.9 720.0h0M740.9 1072.5h0M1619.9 720.0h0M734.1 896.3h0M887.6 1089.3h0M1053.1 1104.5h0M960.2 1226.8h0M1228.5 677.2h0M1091.0 911.0h0M820.9 898.0h0M1185.0 670.7h0M1486.7 532.6h0M979.7 994.0h0M854.2 1180.4h0M793.2 1017.4h0M1537.3 514.8h0M970.6 1194.0h0M883.4 1089.7h0M629.6 519.0h0M1196.4 331.2h0M748.0 998.9h0M1128.2 846.8h0M1504.1 526.0h0M1187.6 782.4h0M745.6 995.0h0M1655.8 717.0h0M617.5 517.3h0M1204.2 838.5h0M1496.5 518.4h0M737.7 1027.0h0M988.9 1060.3h0M786.3 1048.0h0M856.1 814.5h0M812.8 1091.0h0M1129.2 771.2h0M959.4 1113.4h0M993.0 1059.8h0M1018.1 817.7h0M953.5 1127.6h0M729.7 1068.1h0M756.5 945.7h0M980.1 1209.3h0M916.1 1183.0h0M1202.4 949.0h0M695.0 965.4h0M1616.8 691.2h0M1000.3 950.9h0M1074.6 905.8h0M1156.0 733.6h0M830.4 1053.4h0M1039.9 1212.0h0M1044.0 879.1h0M1206.7 991.7h0M1120.4 891.2h0M1610.7 647.1h0M1190.9 1017.1h0M880.0 1095.4h0M749.7 1017.8h0M840.3 844.4h0M1175.9 1058.6h0M629.6 538.0h0M1561.7 530.4h0M1137.8 1117.0h0M1034.6 1049.5h0M904.1 1064.1h0M846.1 757.3h0M796.1 920.0h0M1045.3 991.2h0M935.6 1114.5h0M754.8 927.2h0M718.2 1100.7h0M1227.5 1015.0h0M1110.1 1036.7h0M748.5 1077.1h0M953.9 1066.6h0M1049.5 816.6h0M774.3 1116.6h0M1497.8 522.7h0M1050.8 1179.1h0M736.5 1077.4h0M715.7 977.9h0M990.1 792.7h0M1543.1 522.6h0M1151.1 737.9h0M965.9 1234.0h0M973.6 1005.1h0M696.9 1064.3h0M978.0 1238.5h0M1176.0 362.7h0M1614.2 650.1h0M773.0 1111.4h0M1085.4 917.4h0M903.1 1176.6h0M898.9 1177.4h0M921.5 1107.1h0M1103.9 1010.4h0M1023.4 1084.2h0M872.8 1158.1h0M1172.4 789.3h0M804.8 1106.9h0M722.0 1004.1h0M382.0 495.8h0M1503.8 593.5h0M734.0 1017.2h0M1118.3 786.0h0M914.3 984.3h0M1115.6 881.9h0M1016.4 1218.6h0M1178.5 1074.9h0M1042.2 855.0h0M1187.3 765.4h0M662.9 564.3h0M1159.9 831.6h0M726.0 934.1h0M995.9 937.1h0M841.2 815.3h0M1508.2 562.6h0M884.4 959.5h0M750.0 946.9h0M1021.7 1023.9h0M981.7 736.9h0M1161.3 745.8h0M1028.0 1019.3h0M754.7 1039.4h0M1530.1 549.1h0M648.8 511.9h0M1163.7 384.9h0M1232.5 782.7h0M1129.8 767.5h0M1206.5 796.6h0M1231.9 818.9h0M1258.3 973.9h0M1625.0 652.4h0M1238.9 955.4h0M799.7 943.8h0M645.6 511.7h0M749.4 1097.2h0M1211.7 980.0h0M774.7 1114.2h0M972.0 1220.6h0M1028.8 1035.0h0M1199.1 767.5h0M1166.0 1079.1h0M782.4 1114.2h0M691.3 1032.6h0M967.3 986.6h0M1034.3 1098.3h0M721.5 1011.2h0M1244.5 747.6h0M1700.4 824.8h0M1100.5 1145.0h0M1121.7 1075.8h0M1505.9 515.4h0M1613.1 697.3h0M1035.5 1016.4h0M1051.9 1085.4h0M1243.1 341.4h0M699.7 981.3h0M735.5 1041.2h0M994.8 928.0h0M999.4 1096.3h0M762.9 974.2h0M937.4 982.7h0M951.9 1144.0h0M779.7 916.1h0M688.1 999.4h0M712.1 1087.8h0M1033.8 1145.1h0M1127.5 906.7h0M964.8 946.7h0M1039.8 967.7h0M798.0 1036.3h0M841.5 821.5h0M981.3 1192.4h0M1026.5 828.1h0M1258.9 969.9h0M1029.7 842.6h0M1291.5 328.2h0M1592.4 703.7h0M1109.6 796.0h0M786.5 925.4h0M802.6 928.5h0M843.3 1050.1h0M932.0 1181.5h0M926.5 1042.0h0M1082.4 963.1h0M1210.0 327.9h0M1509.6 566.3h0M758.0 955.0h0M1162.8 812.2h0M1104.2 1010.3h0M905.3 978.0h0M1653.6 716.6h0M857.7 832.2h0M1136.8 998.8h0M1166.2 1092.5h0M1238.2 534.1h0M983.9 1027.0h0M886.8 1039.8h0M1562.9 511.8h0M1171.6 1086.3h0M936.9 796.8h0M988.0 997.6h0M1139.1 371.5h0M1154.9 1086.6h0M871.5 1009.6h0M1626.3 653.6h0M950.6 997.0h0M1060.1 816.1h0M1210.0 678.0h0M795.7 1040.9h0M1097.1 1012.7h0M717.0 940.0h0M1036.8 1211.8h0M702.8 1102.7h0M734.5 984.7h0M1104.0 1043.0h0M1119.1 765.9h0M760.7 1023.9h0M1115.3 1076.9h0M754.3 996.1h0M1489.6 525.9h0M1226.1 673.8h0M997.6 1230.5h0M1521.3 560.6h0M1207.1 952.2h0M723.0 1009.1h0M875.2 1074.9h0M728.4 906.1h0M987.4 924.9h0M1158.7 359.2h0M1158.3 737.0h0M1334.1 654.7h0M1618.6 709.0h0M1215.0 767.2h0M1198.2 275.4h0M728.5 1009.6h0M815.9 791.5h0M861.3 1050.1h0M1111.9 993.4h0M1025.0 1026.7h0M740.2 1034.5h0M884.6 1064.2h0M825.5 1152.2h0M630.3 557.1h0M609.5 527.0h0M624.6 521.2h0M777.4 1023.4h0M713.7 1038.1h0M1126.4 763.1h0M732.2 909.4h0M692.8 1022.0h0M708.8 1020.7h0M760.8 1027.9h0M1111.8 796.3h0M1087.8 970.7h0M751.8 1029.6h0M1627.7 721.9h0M970.1 1002.2h0M1220.8 403.8h0M727.1 1091.3h0M1058.3 1108.2h0M1176.7 951.8h0M1004.6 953.5h0M1545.3 516.2h0M1213.9 340.5h0M1174.1 792.9h0M650.5 565.6h0M915.0 748.6h0M990.7 974.0h0M663.4 564.2h0M1010.8 1064.0h0M1053.3 1111.7h0M1148.9 972.8h0M749.2 972.6h0M1595.3 701.9h0M928.4 1131.6h0M1164.1 1012.1h0M1144.8 986.3h0M862.6 1146.5h0M833.5 857.4h0M710.8 1051.3h0M1107.1 989.5h0M1190.0 817.1h0M1105.8 799.8h0M884.7 1004.0h0M729.3 934.0h0M1072.0 904.1h0M1182.8 958.9h0M848.6 756.3h0M1071.5 821.7h0M934.6 822.7h0M1126.7 335.8h0M703.3 935.8h0M851.2 821.7h0M1626.1 679.1h0M1525.3 529.1h0M877.7 905.5h0M1626.1 686.2h0M999.2 1227.6h0M720.9 994.0h0M1077.9 881.6h0M1243.3 746.8h0M1179.7 463.6h0M986.0 730.7h0M990.6 979.9h0M632.2 520.2h0M981.0 1057.1h0M875.1 1177.9h0M912.7 1043.5h0M755.5 1046.4h0M1207.7 815.3h0M750.6 1083.3h0M710.7 1055.4h0M712.7 920.6h0M729.4 1011.5h0M620.1 536.9h0M1045.3 1159.9h0M780.6 1110.0h0M1628.7 666.7h0M745.4 1003.8h0M762.3 935.1h0M1613.0 705.5h0M788.7 938.3h0M1513.5 516.9h0M943.0 1103.6h0M918.3 795.3h0M1108.5 1099.3h0M1146.9 1016.2h0M886.7 1000.0h0M1244.0 568.0h0M1145.0 979.6h0M1639.3 700.8h0M932.3 816.9h0M909.6 1179.0h0M1646.2 711.6h0M949.8 1010.5h0M890.8 729.6h0M1015.6 1127.5h0M1147.5 743.4h0M1610.4 691.5h0M1559.9 517.3h0M917.4 1165.2h0M1027.8 937.6h0M1162.0 802.8h0M646.4 549.6h0M968.8 1109.1h0M737.7 1042.7h0M1000.4 815.4h0M640.3 562.4h0M1196.0 407.1h0M781.3 1114.4h0M819.8 1044.9h0M1216.6 410.2h0M1585.4 704.3h0M724.5 956.2h0M984.8 815.2h0M1624.3 719.5h0M1138.0 406.7h0M914.9 1176.3h0M936.1 1103.7h0M982.3 1027.3h0M1191.9 1069.6h0M948.0 1183.9h0M933.0 1092.3h0M730.1 1011.4h0M862.4 857.2h0M973.8 1156.5h0M737.4 1007.9h0M973.4 1235.7h0M1214.0 670.3h0M997.8 1035.5h0M1129.6 1093.7h0M1003.4 1072.4h0M985.8 1140.7h0M796.5 974.4h0M1036.5 1095.4h0M635.5 563.4h0M1595.0 686.0h0M892.8 1173.2h0M1167.8 424.9h0M1215.9 765.6h0M1236.2 815.5h0M844.7 1127.3h0M1156.5 994.3h0M787.4 1047.3h0M1255.9 718.6h0M696.6 1086.1h0M1628.8 672.8h0M1168.2 1000.5h0M733.6 942.3h0M923.3 952.8h0M1201.9 1064.5h0M640.8 515.7h0M889.2 1114.0h0M1131.3 410.9h0M1320.8 662.5h0M1219.5 763.1h0M1066.0 1062.8h0M968.8 1032.2h0M1204.3 792.8h0M708.8 941.4h0M800.9 877.9h0M758.6 1106.5h0M1004.3 1167.0h0M1097.0 883.6h0M965.0 1230.6h0M929.5 803.5h0M811.2 1085.0h0M747.2 894.4h0M886.3 823.1h0M1180.4 1015.1h0M935.8 1012.6h0M1104.1 903.9h0M1614.0 641.0h0M1128.8 839.6h0M1137.7 848.0h0M980.2 1078.9h0M1218.2 756.1h0M715.2 999.9h0M957.0 1127.3h0M1050.0 1096.2h0M1033.8 926.3h0M1131.3 800.4h0M738.3 1063.4h0M901.8 1132.4h0M1075.3 865.6h0M758.1 1053.8h0M697.1 1041.9h0M1104.2 966.7h0M1148.7 778.3h0M927.9 936.9h0M998.0 1128.5h0M295.4 984.2h0M1034.7 1055.3h0M980.8 817.3h0M735.4 930.0h0M1257.3 336.4h0M1173.3 1010.8h0M855.2 849.7h0M1252.4 812.1h0M758.4 938.2h0M881.0 770.0h0M907.2 792.0h0M845.8 1079.5h0M840.9 1105.1h0M818.4 1139.1h0M1223.4 811.5h0M824.3 1145.8h0M854.7 1066.8h0M617.6 521.3h0M875.7 1185.0h0M800.2 1058.0h0M1161.5 995.2h0M651.9 569.5h0M1099.8 424.2h0M1232.3 407.1h0M1085.8 951.9h0M1061.3 984.7h0M1273.9 972.4h0M1610.8 703.2h0M853.0 823.7h0M727.4 968.3h0M1009.7 1065.8h0M1237.2 819.9h0M1173.7 711.9h0M1173.4 413.6h0M987.6 1084.8h0M716.2 1097.5h0M922.1 1039.6h0M959.0 918.7h0M1170.0 445.1h0M986.1 1150.5h0M992.9 1045.2h0M948.0 1013.7h0M1555.0 523.1h0M1181.3 356.7h0M1070.2 874.4h0M1227.1 408.9h0M1014.4 1188.7h0M1331.7 659.2h0M1027.5 1108.5h0M1136.2 1070.8h0M1124.8 328.6h0M916.4 1138.1h0M1502.6 520.6h0M972.9 1009.3h0M784.0 904.9h0M761.2 1085.6h0M1199.1 678.9h0M762.1 946.2h0M1219.3 485.3h0M730.8 1034.5h0M835.3 1149.4h0M1626.7 686.6h0M1001.8 1174.6h0M734.2 1010.2h0M1068.7 1013.6h0M1103.0 887.1h0M772.0 1087.6h0M1193.2 968.3h0M1059.3 958.0h0M746.1 1063.0h0M775.4 953.7h0M951.6 724.5h0M901.4 1021.2h0M1149.8 814.1h0M795.9 945.6h0M1275.2 969.1h0M974.0 1031.1h0M950.5 1221.8h0M1719.7 838.8h0M713.6 950.6h0M960.0 1190.3h0M719.5 1056.8h0M1199.0 672.2h0M797.1 1055.8h0M1008.5 1028.1h0M914.6 1172.4h0M1069.8 1078.8h0M783.8 1110.6h0M1716.6 841.6h0M1052.2 861.9h0M989.3 1145.8h0M1607.3 638.6h0M906.0 1125.9h0M1611.6 707.6h0M1106.2 794.3h0M1581.3 634.2h0M901.0 1108.0h0M747.7 1020.4h0M1149.8 1004.1h0M753.7 1002.6h0M980.0 986.4h0M1062.1 830.8h0M893.6 714.6h0M890.5 865.9h0M1064.6 1088.5h0M976.4 716.4h0M1188.5 773.5h0M814.9 944.5h0M1018.0 1126.3h0M1258.6 715.5h0M1115.0 892.3h0M1017.3 967.3h0M968.4 1128.8h0M1529.9 558.4h0M771.7 1108.8h0M652.4 573.5h0M1238.0 805.2h0M773.6 1108.7h0M885.7 1202.8h0M998.9 1147.5h0M1228.2 367.6h0M757.6 876.9h0M1544.5 518.5h0M981.5 1110.8h0M1222.8 772.1h0M930.8 894.1h0M911.2 1209.8h0M1010.0 1061.6h0M1229.2 751.5h0M950.0 1203.0h0M1238.8 546.7h0M1139.5 313.3h0M1634.7 700.0h0M1182.9 670.1h0M1244.7 954.3h0M1243.3 692.4h0M1046.3 1143.6h0M1227.5 939.4h0M1623.3 672.0h0M1027.5 1120.9h0M1178.9 950.9h0M863.6 793.9h0M1064.5 1096.8h0M979.8 1141.8h0M871.9 903.7h0M1075.0 873.6h0M990.8 927.6h0M1086.8 861.1h0M1627.8 709.5h0M861.7 1139.0h0M1221.9 814.7h0M1218.7 1033.4h0M705.9 1093.8h0M1171.7 843.8h0M1021.1 935.2h0M1123.0 411.0h0M1144.5 764.2h0M915.3 1061.0h0M1080.0 1135.0h0M1076.4 900.9h0M744.9 1073.4h0M913.6 1207.1h0M765.5 1101.3h0M1052.1 1141.2h0M1050.8 1151.7h0M944.0 1195.3h0M1115.2 1031.8h0M787.0 1012.8h0M1157.7 1002.3h0M750.5 932.8h0M1618.3 692.1h0M750.8 1033.9h0M1033.6 841.0h0M490.7 222.6h0M1076.8 960.6h0M907.2 945.4h0M936.1 1159.9h0M1700.9 823.0h0M777.5 937.6h0M836.6 1143.8h0M865.3 765.3h0M981.8 947.0h0M1098.2 421.9h0M640.8 506.5h0M1278.4 968.4h0M652.2 572.6h0M929.8 801.2h0M1057.9 1097.8h0M1087.2 961.5h0M864.5 1024.7h0M1213.8 435.3h0M1166.0 779.1h0M1233.1 823.3h0M1021.9 970.8h0M835.4 1054.0h0M1072.0 821.0h0M1622.6 722.6h0M1117.0 886.7h0M848.3 1036.3h0M716.0 1056.3h0M1105.9 805.2h0M773.4 1077.8h0M1012.2 821.5h0M1056.5 1053.7h0M860.9 1143.3h0M1275.4 969.0h0M807.7 1113.4h0M1235.2 771.1h0M715.9 1027.9h0M1024.1 1201.6h0M904.5 1161.6h0M738.3 1050.3h0M981.7 1026.7h0M1208.5 327.8h0M1059.9 819.8h0M1477.3 585.1h0M949.2 1197.4h0M909.4 948.4h0M892.0 1200.6h0M628.3 560.2h0M761.4 931.2h0M1554.4 521.1h0M753.7 934.5h0M910.6 856.0h0M915.8 1201.2h0M1190.2 853.7h0M1010.4 1035.5h0M964.5 1215.9h0M1082.8 962.9h0M1630.7 714.0h0M1095.5 893.2h0M703.0 1075.1h0M1213.0 1025.0h0M1213.5 758.4h0M1207.5 698.3h0M1152.4 975.3h0M1503.6 520.4h0M999.7 946.2h0M1118.2 767.0h0M810.2 930.8h0M1057.9 1173.2h0M1005.2 899.7h0M850.3 760.8h0M1090.3 947.5h0M1519.9 518.1h0M891.7 900.7h0M743.2 1032.5h0M967.4 1005.5h0M847.6 835.8h0M1012.6 1145.6h0M1219.6 930.5h0M1246.6 736.4h0M744.2 967.9h0M822.0 1139.9h0M817.8 780.7h0M1168.7 330.0h0M1568.5 512.3h0M1222.4 779.6h0M706.3 1102.7h0M1228.9 676.1h0M745.1 927.9h0M1149.5 988.2h0M1107.9 1136.2h0M1006.6 975.3h0M1143.0 983.3h0M954.1 708.9h0" stroke="#000004"/>
<path d="M996.0 811.9h0M867.5 806.1h0M1006.7 1088.0h0M1012.5 1136.8h0M1012.3 1181.5h0M853.5 811.9h0M1021.8 1113.8h0M1057.7 907.9h0M1013.7 1163.8h0M1546.3 517.0h0M1063.8 920.1h0M1158.3 1058.7h0M876.0 1115.1h0M1082.4 928.1h0M852.1 741.4h0M904.0 889.0h0M1219.1 1014.0h0M821.5 821.5h0M1049.7 811.8h0M708.5 1061.2h0M1063.3 1047.6h0M1020.4 1215.0h0M1020.0 1092.7h0M988.0 876.5h0M969.6 1142.8h0" stroke="#140E36"/>
<path d="M975.4 1122.0h0M1062.6 1101.2h0M1055.6 811.8h0M776.2 1110.4h0M840.7 816.2h0M1254.7 314.0h0M904.0 877.0h0M765.6 977.0h0M1143.9 360.4h0M1051.4 870.3h0M1116.7 1120.3h0M880.3 1035.7h0M913.1 712.0h0M1042.8 818.8h0M1257.2 335.4h0M1278.1 329.6h0M1081.3 874.8h0M944.3 950.4h0M896.3 818.1h0M909.1 985.7h0M1023.7 1025.0h0M1076.0 845.0h0M1066.8 820.0h0M1057.9 1173.2h0M1175.8 1086.9h0M1067.1 926.7h0M811.4 840.9h0M713.9 1106.4h0M979.1 853.0h0M1081.2 901.5h0M1241.0 368.0h0M1210.7 383.2h0M1061.3 1086.7h0M1114.8 875.7h0M981.1 1173.9h0M1048.7 1181.0h0M1071.7 851.8h0M1010.6 825.2h0M1076.9 886.8h0M1171.0 468.1h0M1080.7 939.8h0M947.6 795.8h0M811.1 861.4h0M1527.7 566.3h0M1206.1 1003.3h0" stroke="#251255"/>
<path d="M1025.7 1197.9h0M1288.0 374.8h0M1215.6 1063.3h0M983.8 815.2h0M1563.5 528.5h0M1130.9 409.1h0M1215.2 998.9h0M1045.0 1094.5h0M913.8 719.4h0M1125.0 328.4h0M1178.3 956.0h0M1033.8 1084.7h0M896.7 714.1h0M998.8 801.4h0M1175.2 391.0h0M937.8 806.7h0M708.9 1034.3h0M900.9 806.9h0M1005.5 831.8h0M1061.9 863.6h0M727.8 975.7h0M1227.8 484.0h0M1039.4 1151.5h0M1057.2 901.5h0M1064.8 851.2h0M976.7 723.8h0M1059.5 956.0h0M889.5 712.8h0M1518.9 570.6h0M1223.9 1047.4h0M1180.6 970.9h0M1559.5 520.3h0M1206.5 1000.5h0M947.2 812.3h0M994.9 1047.6h0M1067.6 1080.1h0M1546.0 521.9h0M1070.9 863.8h0M1052.9 1162.8h0M1201.2 1001.8h0M1183.5 339.5h0M875.3 721.4h0M1063.6 865.6h0M1070.4 871.0h0M829.4 807.3h0" stroke="#3B0F70"/>
<path d="M1176.0 1017.4h0M1500.4 518.3h0M1252.7 496.4h0M917.0 694.6h0M891.8 1188.1h0M886.8 909.4h0M890.6 725.4h0M844.4 850.0h0M1042.6 913.0h0M746.6 1099.6h0M1092.9 917.3h0M1236.0 402.5h0M1529.5 570.7h0M1194.8 271.7h0M1031.7 1184.4h0M1518.2 569.0h0M1516.5 568.4h0M1006.4 1224.3h0M829.0 862.6h0M940.3 1147.7h0M1102.4 415.4h0M947.9 901.9h0M937.8 1074.5h0M1086.3 939.2h0M1023.5 825.6h0M813.2 789.3h0M806.5 851.4h0M1061.1 880.8h0M1064.3 812.5h0M1210.1 983.5h0M1237.5 328.8h0M1275.6 328.5h0M1246.3 383.8h0M1018.1 1122.7h0M958.6 1123.6h0M1168.0 469.5h0M1079.7 870.5h0M998.8 754.3h0M1134.4 326.7h0M945.5 1104.0h0M1023.0 954.1h0M1311.5 355.3h0M1081.0 976.7h0M896.2 831.0h0M1223.0 1047.0h0M786.4 895.4h0M1530.8 569.5h0M1078.1 916.5h0M923.8 1076.9h0M1064.5 883.7h0M1210.4 1039.0h0M1062.5 834.1h0M1141.7 364.2h0M901.0 1140.5h0M1061.7 926.5h0M953.6 801.3h0M905.8 812.9h0M976.0 806.0h0M1213.9 1048.3h0M1013.9 1209.1h0M866.6 753.5h0M919.7 1052.2h0M1520.6 566.8h0M1177.2 1018.1h0M1082.9 862.4h0M1006.9 799.3h0M936.9 699.9h0M1041.1 892.4h0M899.1 810.6h0M963.8 738.3h0M959.9 1163.4h0M1040.7 915.7h0M1293.8 324.5h0M1038.0 927.8h0M960.9 811.4h0M1027.1 964.9h0M889.0 955.1h0M1525.7 573.2h0M961.9 1103.0h0" stroke="#51127C"/>
<path d="M1011.4 1176.9h0M844.5 806.4h0M1079.6 872.1h0M1241.4 499.8h0M810.2 823.1h0M1260.7 347.5h0M982.2 721.1h0M822.3 840.3h0M1544.1 524.2h0M1229.6 404.8h0M1019.8 826.8h0M991.3 792.2h0M755.2 932.1h0M1254.4 323.8h0M1247.6 365.8h0M1014.7 805.6h0M896.1 952.9h0M932.3 1079.7h0M1217.5 409.9h0M1180.2 389.5h0M972.8 827.5h0M1033.0 1214.2h0M1145.2 310.1h0M716.5 952.7h0M1248.3 362.6h0M1212.3 784.9h0M846.7 1020.3h0M1069.9 837.3h0M934.4 873.9h0M1239.4 517.5h0M1067.5 830.9h0M1161.4 1087.9h0M947.9 733.6h0M1126.9 764.0h0M1134.2 334.0h0M1238.5 503.6h0M1142.7 316.4h0M812.3 792.9h0M1218.7 346.9h0M1280.9 486.4h0M1193.9 334.1h0M992.4 737.1h0M1198.3 405.8h0M1170.2 740.6h0M1073.6 849.5h0M826.2 790.3h0M1237.1 518.6h0M922.1 703.6h0M1334.9 654.8h0M1064.4 817.0h0M1174.1 450.3h0M983.3 1194.1h0M1232.7 498.5h0M1246.6 375.4h0M1254.1 338.1h0M1022.9 963.8h0M743.6 1051.4h0M1155.7 1098.8h0M1030.0 1087.4h0M1014.2 800.5h0M838.1 921.0h0M946.9 1101.8h0M1226.7 1041.0h0M1241.9 518.9h0M862.7 897.1h0M850.0 817.2h0M835.8 803.5h0M1020.3 958.9h0M1067.7 811.5h0M1236.6 538.2h0M891.2 823.7h0M1278.6 370.7h0M1002.4 763.0h0M1519.6 574.6h0M1010.3 825.8h0M1077.7 942.4h0M849.0 856.5h0M880.5 828.3h0M1037.7 815.5h0M1072.7 908.5h0M696.6 952.0h0M829.0 869.2h0M1294.8 382.5h0M1250.7 320.6h0M1200.3 970.5h0M1274.1 323.3h0M1268.3 362.4h0M1194.6 981.6h0M1191.4 974.4h0M1002.3 1158.3h0M1192.7 439.4h0M989.5 722.4h0M1252.8 310.6h0M890.9 725.7h0M1010.3 806.5h0M748.8 1082.3h0" stroke="#641A80"/>
<path d="M859.7 821.4h0M809.2 788.8h0M1138.2 324.2h0M977.5 844.6h0M880.3 840.6h0M979.4 820.4h0M1227.8 1039.2h0M1008.1 822.7h0M1006.0 863.3h0M956.2 800.7h0M924.8 854.3h0M1063.7 1101.4h0M1051.6 1151.3h0M775.7 1089.0h0M918.1 895.6h0M1218.9 1050.0h0M1195.8 748.3h0M1252.7 499.5h0M935.7 700.1h0M1181.6 382.0h0M741.0 1046.2h0M944.9 1056.4h0M1219.9 1063.2h0M858.6 754.4h0M1251.3 323.9h0M1559.2 518.9h0M1040.3 932.7h0M818.7 1114.6h0M826.5 808.7h0M928.6 888.6h0M1277.5 469.5h0M815.0 842.8h0M947.7 727.8h0M870.4 833.8h0M969.4 1168.1h0M1235.5 512.4h0M1050.3 837.9h0M852.8 888.7h0M900.2 701.8h0M1141.7 339.3h0M1177.2 857.2h0M993.5 806.6h0M868.6 910.4h0M1149.2 315.5h0M977.6 822.0h0M814.4 814.0h0M803.6 1103.6h0M1336.4 653.8h0M947.5 868.2h0M1172.8 1010.5h0M1170.5 1013.2h0M915.2 714.2h0M1018.5 909.2h0M1241.8 520.5h0M1250.4 323.6h0M860.4 831.5h0M806.4 815.0h0M947.5 1193.8h0M1227.3 479.7h0M768.3 1069.1h0M929.2 695.2h0M961.5 727.7h0M1493.0 509.5h0M960.3 1127.1h0M815.8 864.8h0M1020.6 1092.3h0M817.3 1147.2h0M1002.3 1183.0h0M959.6 961.1h0M1250.3 394.0h0M1007.7 1170.1h0M926.9 900.4h0M1284.9 360.0h0M757.4 1068.1h0M945.2 916.1h0M1232.7 491.5h0M950.0 811.1h0M902.4 902.4h0M969.9 900.4h0M707.0 937.2h0M1202.1 384.2h0M1233.5 313.1h0M815.5 844.7h0M1241.4 522.7h0M1076.7 945.0h0M764.4 1059.1h0M1174.9 382.4h0M1230.2 489.5h0M1154.3 777.9h0M1009.2 969.5h0M863.8 826.3h0M1247.4 325.2h0M990.4 877.4h0M936.2 703.7h0M1195.8 272.0h0M1229.3 322.4h0M1274.2 344.6h0M950.7 826.7h0M995.0 815.2h0" stroke="#782281"/>
<path d="M1233.4 496.8h0M817.0 824.6h0M964.5 1164.4h0M1174.6 467.3h0M1255.8 326.7h0M934.0 1142.6h0M1262.5 313.4h0M1190.3 327.9h0M903.0 800.7h0M856.2 890.1h0M1188.4 340.9h0M1174.9 703.6h0M1274.3 331.7h0M949.2 797.7h0M1238.5 375.9h0M1278.6 360.8h0M864.9 832.0h0M964.1 875.0h0M961.1 801.8h0M864.2 803.9h0M1005.1 895.6h0M843.1 829.3h0M1121.2 1112.5h0M808.6 836.0h0M1031.9 1116.3h0M978.2 869.6h0M1287.2 351.4h0M1020.7 875.5h0M1289.2 331.3h0M816.3 793.0h0M1231.7 489.8h0M1143.4 332.9h0M1234.1 492.6h0M1044.6 1150.8h0M860.0 820.9h0M1237.6 496.5h0M1250.0 317.0h0M1168.3 1059.9h0M1255.0 356.3h0M1002.1 1189.5h0M1021.3 830.6h0M1191.4 1070.9h0M717.6 986.1h0M976.8 730.6h0M966.4 730.0h0M726.0 926.7h0M1143.7 358.9h0M1202.3 442.9h0M1021.4 831.5h0M998.1 808.5h0M981.7 738.2h0M1241.6 336.1h0M1235.7 546.1h0M810.6 797.9h0M949.5 849.1h0M873.4 879.6h0M832.1 792.5h0M906.9 807.0h0M1283.3 385.4h0M1143.7 336.6h0M1139.8 840.0h0M1716.2 909.6h0M1016.2 802.2h0M902.4 805.4h0M811.9 838.0h0M849.8 753.8h0M879.9 733.7h0M957.4 723.0h0M1193.7 345.0h0M831.0 833.4h0M885.1 913.3h0M1175.3 379.5h0M762.6 1026.0h0M1248.9 494.4h0M912.4 708.2h0M1105.4 418.2h0M1058.5 1177.6h0M886.0 860.3h0M904.9 716.1h0M1268.3 484.7h0M896.9 807.5h0M1296.3 378.7h0M1009.1 813.5h0M1151.1 356.5h0M1291.6 375.2h0" stroke="#8C2981"/>
<path d="M1240.2 387.3h0M1308.0 359.4h0M890.5 1042.3h0M863.5 884.9h0M1016.8 1138.0h0M1120.7 1115.2h0M901.2 706.3h0M1250.2 339.7h0M1107.8 1008.5h0M1224.7 484.1h0M1294.8 380.3h0M1236.7 497.9h0M807.5 816.6h0M1274.8 352.7h0M821.1 808.2h0M908.2 763.8h0M1247.9 398.2h0M1163.2 357.3h0M816.0 848.9h0M892.1 919.1h0M814.1 813.4h0M836.5 804.3h0M920.3 900.6h0M1138.6 313.4h0M736.0 1086.3h0M944.8 800.3h0M931.2 713.0h0M1288.7 348.6h0M1140.0 340.7h0M1301.4 388.9h0M946.1 723.5h0M1009.1 802.6h0M1286.1 355.7h0M961.9 1135.4h0M1146.1 314.3h0M878.6 965.9h0M1190.9 321.8h0M976.6 816.8h0M1130.3 339.6h0M981.1 804.2h0M1261.2 383.6h0M973.4 797.9h0M1269.9 317.1h0M865.6 1144.4h0M860.8 891.8h0M1238.0 535.5h0M1288.3 396.4h0M1220.5 410.4h0M1251.8 327.3h0M967.9 809.3h0M945.8 726.0h0M1270.5 335.0h0M1289.7 469.5h0M906.6 810.1h0M847.7 821.3h0M1718.8 898.8h0M1181.0 369.3h0M1168.4 460.4h0M878.3 735.7h0M1234.3 499.0h0M1278.8 323.6h0M907.3 824.4h0M817.2 832.7h0M867.8 750.4h0M899.5 817.3h0M1277.2 342.6h0M1269.2 326.8h0M906.3 811.3h0M1152.2 307.7h0M1174.2 847.7h0M760.8 1061.3h0M850.3 818.4h0M1267.4 364.2h0M1286.6 468.8h0M1234.4 375.9h0M918.6 890.8h0M1053.4 824.3h0M1211.3 808.6h0M906.2 812.0h0M1163.1 1090.2h0M988.8 799.7h0M1228.8 318.9h0M1139.8 323.8h0" stroke="#A1307E"/>
<path d="M1280.4 480.9h0M1021.2 1205.6h0M837.4 847.2h0M989.5 893.5h0M1001.6 819.0h0M1285.6 464.1h0M750.3 998.3h0M1257.9 361.2h0M848.0 821.0h0M830.5 792.9h0M875.8 829.9h0M1239.3 335.3h0M873.9 811.1h0M1282.2 372.0h0M1265.9 460.2h0M1196.2 776.4h0M1307.4 347.0h0M1261.8 380.0h0M1300.9 376.0h0M815.2 852.7h0M1232.3 485.8h0M1711.7 908.0h0M934.8 708.3h0M1173.9 388.6h0M1291.6 380.5h0M719.9 1047.4h0M1014.9 1228.1h0M923.1 708.6h0M1142.7 334.8h0M1280.7 471.6h0M1707.9 899.2h0M1265.2 482.5h0M1287.1 370.8h0M837.2 1039.6h0M1258.8 371.3h0M1276.9 355.7h0M1270.2 332.6h0M1218.7 795.5h0M810.8 815.1h0M837.5 864.8h0M1143.6 311.3h0M1220.0 386.4h0M699.4 1080.2h0M832.1 828.1h0M1259.2 349.2h0M1305.0 351.4h0M1002.1 795.5h0M1280.0 320.9h0M780.0 933.1h0M1255.0 470.5h0" stroke="#B73779"/>
<path d="M1257.7 333.5h0M1281.8 384.0h0M859.2 965.0h0M1292.2 468.4h0M821.1 854.1h0M1715.4 905.8h0M818.4 838.1h0M888.1 812.6h0M837.2 809.4h0M1269.7 340.0h0M1125.0 326.1h0M927.2 1036.5h0M861.7 830.8h0M1288.8 459.7h0M985.2 1110.5h0M849.4 1071.1h0M1135.0 328.6h0M858.7 825.7h0M1273.3 382.3h0M1151.6 1104.3h0M739.3 930.7h0M830.7 836.0h0M1166.0 387.7h0M911.5 716.7h0M1705.1 905.7h0M820.2 818.5h0M1174.7 389.5h0M920.1 1194.3h0" stroke="#CA3E72"/>
<path d="M1242.5 310.3h0M1290.4 476.1h0M1194.8 383.2h0M816.9 839.3h0M1166.1 377.6h0M1217.6 338.6h0M1255.0 325.9h0M915.7 915.3h0M1122.1 326.9h0M830.2 1121.8h0M1281.5 457.9h0M1280.3 398.5h0M852.7 801.6h0M865.6 732.1h0" stroke="#DE4968"/>
<path d="M1247.5 321.3h0M1263.8 471.6h0M1268.1 493.3h0M1245.4 396.0h0M1223.0 315.9h0M1264.4 491.3h0M1225.7 339.8h0" stroke="#ED5A5F"/>
<path d="M1286.9 457.7h0M1263.8 474.5h0M1253.6 496.7h0M1290.2 472.3h0M1268.1 486.6h0M1186.0 666.8h0M1247.2 312.2h0M1262.9 478.0h0M1283.6 458.6h0M1257.9 496.3h0" stroke="#F7705C"/>
<path d="M1248.4 490.9h0M1270.6 488.0h0M1284.0 461.9h0" stroke="#FC8961"/>
<path d="M1281.6 467.6h0M1291.7 465.1h0M1285.1 472.3h0M1261.7 496.3h0" stroke="#FE9F6D"/>
<path d="M1272.2 480.5h0" stroke="#FECF92"/>
<path d="M1279.2 458.2h0" stroke="#FDE7A9"/>
<path d="M841.2 1051.2h0M967.2 1179.3h0M785.6 1000.4h0M991.6 1003.6h0M742.1 975.9h0M729.3 991.7h0M865.9 1150.5h0M1715.6 837.5h0M1197.0 756.9h0M852.5 1064.2h0M900.7 1182.7h0M740.4 1000.8h0M1045.5 923.2h0M1247.7 807.9h0M881.2 1039.1h0M908.6 985.9h0M1191.4 832.1h0M697.4 1054.1h0M1062.4 849.8h0M703.4 1040.1h0M891.1 988.0h0M723.4 1017.4h0M1198.7 853.8h0M957.6 1003.2h0M880.6 729.9h0M1199.0 293.2h0M1230.2 1037.0h0M882.4 1199.4h0M811.1 973.3h0M1005.9 1186.3h0M1163.4 382.2h0M995.9 1016.2h0M836.7 1039.0h0M748.6 1012.6h0M1183.1 673.0h0M1026.3 1215.9h0M1622.3 708.9h0M710.7 1005.5h0M744.5 918.6h0M1157.3 997.9h0M933.3 949.1h0M974.2 805.2h0M1035.2 1135.4h0M930.9 941.2h0M772.0 1050.4h0M1500.5 507.1h0M1178.0 404.0h0M1205.0 340.5h0M1485.3 526.6h0M833.0 1112.3h0M832.8 868.5h0M917.2 966.6h0M732.9 1066.0h0M1015.8 1134.1h0M937.5 1227.6h0M1147.0 1084.3h0M1035.0 1007.2h0M1039.0 864.6h0M782.9 991.2h0M983.5 1183.3h0M1192.6 851.0h0M1010.2 1210.6h0M773.1 1114.3h0M809.5 932.8h0M696.6 980.2h0M1136.1 1067.0h0M959.6 933.9h0M1540.6 549.0h0M950.3 853.9h0M1036.1 1098.0h0M764.6 912.7h0M1054.0 852.8h0M1260.6 337.6h0M1074.9 893.3h0M859.7 973.5h0M1276.5 480.3h0M911.7 1192.5h0M787.8 960.0h0M1124.1 969.1h0M753.2 972.4h0M1492.3 527.1h0M719.7 1027.9h0M700.9 1025.1h0M763.7 1078.2h0M914.7 1151.3h0M983.9 735.4h0M1211.3 845.5h0M1038.1 837.1h0M1058.6 1094.0h0M1171.2 393.3h0M904.4 1109.7h0M1222.9 774.8h0M738.5 1012.9h0M789.3 968.9h0M1520.8 557.0h0M1149.2 1019.6h0M1053.7 911.2h0M635.9 516.8h0M1597.6 641.2h0M889.8 1181.9h0M998.8 753.5h0M1079.4 827.4h0M815.4 1126.9h0M923.4 1042.4h0M1504.6 573.5h0M725.7 991.3h0M1019.5 965.0h0M965.0 1125.9h0M1192.4 1004.5h0M808.7 862.1h0M1046.5 1188.9h0M886.6 915.2h0M1026.3 969.3h0M831.3 865.6h0M711.5 990.0h0M993.3 1162.3h0M1276.4 379.3h0M1221.8 759.3h0M699.8 1041.6h0M609.1 525.0h0M986.3 790.8h0M819.5 890.1h0M752.6 1038.2h0M780.5 1005.4h0M1193.0 845.3h0M1078.2 857.6h0M903.1 1101.7h0M1634.0 716.9h0M838.0 1065.7h0M1050.5 1106.5h0M960.2 945.0h0M1062.9 903.0h0M1502.8 525.5h0M974.7 1044.0h0M1242.0 519.5h0M1137.3 1112.8h0M759.1 1110.3h0M1075.8 820.6h0M905.3 983.0h0M1103.8 1009.1h0M952.6 1170.1h0M784.7 1112.8h0M882.3 815.9h0M1495.4 507.7h0M1160.2 1045.0h0M1218.1 835.5h0M1245.3 417.3h0M1002.1 943.4h0M1103.8 419.2h0M703.9 1071.4h0M740.5 1040.4h0M1020.8 1153.6h0M985.6 963.2h0M795.7 1110.6h0M1043.6 980.0h0M1481.9 519.5h0M892.6 921.0h0M1214.2 926.3h0M757.2 927.9h0M998.6 1123.7h0M644.0 507.8h0M1251.4 973.8h0M737.8 1094.1h0M1613.0 707.2h0M1163.2 849.1h0M1260.2 974.8h0M932.0 995.7h0M906.3 1174.6h0M1022.4 806.3h0M886.3 1177.6h0M930.8 1011.9h0M819.4 1123.5h0M1229.8 1027.4h0M1500.6 594.5h0M1001.9 1006.0h0M930.6 995.4h0M710.1 1069.8h0M1206.2 675.5h0M947.3 1180.2h0M947.8 815.0h0M1029.5 1158.4h0M753.2 931.9h0M1173.3 808.3h0M880.2 1196.0h0M911.9 1222.1h0M1055.9 925.0h0M838.6 812.9h0M781.9 1043.4h0M1127.9 406.1h0M886.7 1110.5h0M1050.8 814.8h0M986.2 1157.3h0M974.4 1027.1h0M749.8 988.9h0M777.2 1024.3h0M842.4 997.7h0M1121.5 1000.7h0M994.8 1073.9h0M1214.1 1038.7h0M1042.4 908.8h0M1186.0 381.5h0M1247.6 491.5h0M886.6 856.5h0M717.8 1086.8h0M937.9 1150.7h0M969.1 1189.9h0M1654.5 731.7h0M1189.2 1048.3h0M1027.0 1030.6h0M1077.2 943.7h0M1607.5 695.6h0M713.9 1001.4h0M1032.0 1042.2h0M986.0 1178.5h0M1018.1 923.4h0M1129.8 372.0h0M1772.6 801.0h0M781.6 1117.3h0M1242.0 328.7h0M1265.5 973.9h0M1493.9 525.0h0M752.7 1050.9h0M1170.1 453.3h0M830.2 1111.9h0M754.7 1087.2h0M893.0 1125.1h0M1028.7 942.5h0M1178.0 375.3h0M655.5 559.8h0M739.6 1088.6h0M1122.3 828.6h0M744.4 1054.7h0M795.6 982.0h0M1111.0 894.7h0M1202.8 679.0h0M1115.8 1128.5h0M1565.9 532.1h0M828.4 1125.4h0M922.3 960.8h0M1193.3 320.9h0M1029.0 1121.1h0M770.8 1071.8h0M891.3 1081.0h0M935.2 803.8h0M755.5 1022.6h0M833.2 1046.9h0M1058.4 1172.8h0M617.8 520.3h0M1167.3 376.8h0M1105.8 801.3h0M945.3 722.8h0M864.3 827.0h0M877.8 1103.3h0M1032.6 1158.7h0M1104.0 914.0h0M1085.0 858.3h0M731.0 1007.3h0M710.2 990.3h0M1060.1 948.2h0M1621.9 711.5h0M1164.5 844.8h0M1108.5 921.9h0M1058.9 895.2h0M1044.3 1025.2h0M1204.6 430.3h0M888.2 1185.6h0M1117.3 408.8h0M1146.3 789.5h0M1246.9 802.1h0M1177.0 1019.5h0M807.6 813.2h0M875.5 1126.0h0M783.3 898.2h0M835.0 990.6h0M727.3 1086.6h0M1039.6 1197.5h0M739.5 1099.1h0M984.3 1221.1h0M1235.4 536.5h0M1506.2 513.0h0M1072.8 877.5h0M1014.2 924.3h0M624.4 507.7h0M929.2 1028.1h0M934.5 702.1h0M1148.6 1100.5h0M972.4 991.9h0M1018.5 1222.5h0M978.7 1224.1h0M1235.3 402.0h0M1615.6 702.6h0M908.4 796.0h0M1057.7 812.4h0M1027.5 1024.6h0M1159.1 461.6h0M1129.4 958.4h0M1070.8 832.6h0M802.9 900.8h0M1223.1 827.1h0M762.9 877.5h0M1211.0 671.3h0M987.6 797.8h0M941.3 1210.8h0M775.2 952.3h0M975.5 1222.3h0M930.9 1005.5h0M851.3 1147.3h0M957.7 1003.5h0M1136.0 774.8h0M1168.4 806.9h0M1175.5 1075.4h0M1072.7 1076.3h0M958.9 1050.9h0M1086.2 930.6h0M1212.4 993.8h0M1059.3 878.9h0M1171.5 747.8h0M809.6 1125.0h0M875.2 845.1h0M778.6 985.2h0M1136.4 1006.0h0M732.9 964.4h0M839.0 1040.9h0M1019.4 1225.1h0M775.6 1109.0h0M828.9 1046.8h0M1145.6 985.8h0M1038.4 870.2h0M917.8 1063.9h0M1576.7 514.9h0M1198.2 283.0h0M1016.7 1071.0h0M1076.8 960.4h0M999.3 1133.0h0M1121.5 771.7h0M786.4 1026.4h0M1173.9 736.4h0M857.5 745.7h0M1137.9 1096.7h0M1081.0 875.7h0M1019.5 1100.5h0M1248.3 971.4h0M958.6 948.1h0M796.7 855.8h0M1286.8 463.6h0M1145.4 987.0h0M1175.8 1030.7h0M981.0 1122.0h0M901.6 1150.2h0M1111.9 1009.2h0M1179.2 1070.0h0M638.0 507.8h0M1231.4 756.9h0M978.4 1047.6h0M1038.8 1116.2h0M963.4 809.3h0M1062.5 1172.3h0M1156.2 749.2h0M911.0 1110.0h0M929.4 900.9h0M1604.1 639.5h0M914.7 1226.0h0M1200.3 1062.1h0M873.0 1200.3h0M881.1 1170.3h0M735.1 966.7h0M1123.2 1075.0h0M759.6 1083.6h0M805.4 923.5h0M852.7 1022.0h0M1204.8 675.8h0M941.7 802.3h0M1162.7 817.0h0M1009.2 1149.5h0M889.4 995.7h0M751.8 944.2h0M1210.6 990.6h0M788.4 971.1h0M1105.0 921.7h0M1099.3 906.7h0M1040.2 889.2h0M910.0 1186.8h0M1130.2 1110.2h0M951.5 907.4h0M952.9 1215.4h0M875.4 1098.2h0M964.2 1005.5h0M1248.6 388.3h0M1020.2 950.4h0M954.7 1056.7h0M898.9 1146.8h0M1062.1 827.3h0M761.9 922.0h0M861.2 1179.4h0M1167.6 1079.5h0M758.3 1054.1h0M1048.3 1096.2h0M708.1 1039.5h0M978.8 1018.6h0M981.4 957.2h0M1589.4 700.0h0M1523.1 561.8h0M1700.5 822.1h0M729.4 1104.3h0M878.7 810.5h0M961.1 1046.6h0M390.4 502.7h0M736.9 1082.6h0M1038.8 831.1h0M1178.7 753.5h0M752.6 875.7h0M1016.2 1158.3h0M1190.2 971.3h0M789.2 933.2h0M490.2 222.6h0M1092.5 422.3h0M1202.6 1007.0h0M738.9 924.4h0M667.4 565.2h0M1186.8 815.6h0M783.0 1028.4h0M1027.7 1220.1h0M1188.1 968.1h0M792.0 1110.7h0M649.7 566.3h0M830.8 879.0h0M756.7 1039.0h0M749.4 941.9h0M706.0 1053.8h0M910.3 1078.0h0M1181.4 1075.9h0M988.7 949.2h0M936.0 734.9h0M1179.6 847.8h0M632.0 548.4h0M1119.2 1035.4h0M737.3 914.6h0M1159.5 837.2h0M978.8 1051.0h0M1240.5 812.5h0M1067.2 962.3h0M1166.3 448.1h0M1124.6 1112.6h0M908.6 1167.7h0M889.6 1045.4h0M1208.2 945.6h0M1116.9 410.1h0M1231.1 944.8h0M750.0 1108.2h0M698.1 1069.5h0M789.0 920.8h0M911.2 1132.8h0M1012.2 806.1h0M1200.4 1034.2h0M1617.6 708.5h0M754.2 990.0h0M1184.3 672.0h0M1154.1 787.2h0M1254.2 721.6h0M1030.0 1046.8h0M1115.2 838.3h0M1648.1 710.8h0M968.5 797.0h0M903.1 1211.2h0M1174.5 384.5h0M1594.6 507.9h0M1202.0 379.8h0M1583.4 632.9h0M1054.9 824.3h0M833.6 988.9h0M1029.5 821.6h0M982.4 1052.6h0M1032.8 1014.0h0M909.5 1135.0h0M1033.6 1038.9h0M949.6 986.5h0M1535.1 552.3h0M1024.8 969.0h0M1130.1 408.3h0M1017.7 1030.6h0M925.6 1146.9h0M1219.1 764.6h0M824.3 939.8h0M751.8 1093.4h0M1079.0 880.1h0M1003.6 1064.1h0M1204.1 404.5h0M947.9 934.2h0M962.2 1134.7h0M875.0 1182.4h0M1224.2 679.0h0M1218.3 790.6h0M1249.5 483.8h0M1179.1 1028.7h0M1528.1 554.0h0M900.8 1051.6h0M834.7 1156.0h0M896.8 1020.0h0M1238.3 689.0h0M821.8 892.5h0M807.4 913.4h0M1124.8 1016.8h0M1587.4 708.3h0M614.4 542.4h0M1013.9 1033.7h0M1506.8 571.7h0M765.6 1102.7h0M1613.7 698.1h0M902.6 812.5h0M735.4 1065.1h0M1521.1 561.4h0M742.4 909.1h0M964.5 1006.9h0M1606.0 643.9h0M922.7 983.3h0M1073.0 864.6h0M1061.2 978.1h0M1055.8 1184.8h0M635.4 561.7h0M941.2 1100.1h0M1196.9 781.7h0M1112.9 410.1h0M1048.3 1204.3h0M1157.2 476.0h0M966.0 1041.3h0M1199.5 324.3h0M1122.8 1098.6h0M1495.9 510.7h0M823.7 810.5h0M1208.8 966.7h0M1200.9 837.8h0M1166.8 785.0h0M936.3 1107.2h0M871.0 1127.4h0M1080.9 959.0h0M1212.1 812.3h0M1132.2 825.5h0M797.5 1049.5h0M719.9 942.1h0M1568.5 510.4h0M768.2 1104.1h0M1068.2 950.6h0M1260.0 329.8h0M890.4 1107.3h0M1623.2 650.2h0M849.5 865.9h0M1521.2 553.5h0M910.6 1218.6h0M875.4 921.7h0M1189.4 977.7h0M1500.3 593.8h0M1178.4 1016.2h0M1172.7 408.0h0M1157.7 739.9h0M1160.4 1052.0h0M901.7 831.6h0M825.3 810.8h0M613.9 525.8h0M688.1 991.5h0M1244.4 948.9h0M1539.0 543.0h0M1056.5 906.8h0M918.8 1168.2h0M1109.3 1065.3h0M697.5 1062.7h0M1131.3 842.7h0M1146.7 410.0h0M1102.5 1044.2h0M1519.8 560.5h0M1255.7 966.9h0M1176.2 830.1h0M1175.1 959.2h0M1176.0 697.3h0M756.9 938.1h0M780.6 894.5h0M874.3 716.5h0M991.8 722.6h0M1242.0 376.0h0M1206.5 945.1h0M1136.1 749.3h0M1246.4 956.8h0M696.7 1029.9h0M1033.9 1044.9h0M1169.5 949.8h0M657.9 568.5h0M950.3 1190.3h0M760.5 1062.2h0M1225.5 782.5h0M746.7 939.7h0M1211.6 933.3h0M1116.6 1128.2h0M1525.4 558.3h0M1214.9 765.9h0M999.1 941.4h0M1066.9 1000.2h0M1171.6 736.4h0M1120.5 408.0h0M883.7 1169.7h0M1065.0 811.1h0M940.4 1095.0h0M1052.7 812.4h0M893.7 1045.8h0M891.8 714.6h0M731.2 1004.1h0M891.0 1064.2h0M755.9 993.0h0M1059.1 793.7h0M1052.0 1094.9h0M896.4 724.4h0M949.9 978.2h0M859.0 883.2h0M785.1 1113.2h0M723.9 1028.3h0M986.9 888.1h0M874.9 1201.0h0M1227.4 768.5h0M908.5 1209.4h0M959.2 1204.4h0M882.6 1071.3h0M932.4 807.9h0M1494.4 553.6h0M1033.7 1046.6h0M768.6 1109.7h0M974.7 1056.5h0M1021.9 968.4h0M1071.9 810.5h0M942.7 1111.2h0M928.7 800.1h0M707.7 971.4h0M1046.3 898.6h0M885.9 1170.8h0M1035.9 857.2h0M1001.8 1005.0h0M1250.5 729.7h0M1490.1 531.9h0M756.7 1083.7h0M1173.3 394.0h0M980.5 1047.2h0M1190.0 1082.1h0M1172.8 697.0h0M1295.3 356.2h0M927.0 1207.8h0M903.3 1041.3h0M745.7 1024.5h0M850.1 1177.7h0M1623.8 703.0h0M961.2 1168.6h0M1078.9 926.8h0M1608.8 638.1h0M713.3 1029.9h0M1620.5 653.5h0M1049.2 1028.6h0M775.1 1012.8h0M803.3 859.2h0M775.0 1109.8h0M691.3 993.7h0M1119.6 1033.3h0M906.6 1145.7h0M919.8 960.0h0M1134.7 1059.4h0M1006.5 984.1h0M1088.1 933.1h0M727.7 908.5h0M1034.7 906.3h0M1042.3 831.9h0M1157.4 1002.8h0M891.7 725.1h0M1064.9 863.5h0M1170.9 420.7h0M856.9 1061.5h0M1251.3 700.4h0M1175.1 842.7h0M1125.0 765.1h0M1069.5 1014.0h0M963.7 1173.3h0M1064.5 950.1h0M695.4 1039.7h0M1138.0 958.3h0M983.8 1043.6h0M1595.9 694.9h0M1201.1 426.1h0M976.0 790.6h0M805.8 1131.3h0M1079.9 1155.3h0M1156.4 746.6h0M806.2 799.6h0M712.8 1034.5h0M709.1 1066.6h0M742.5 978.4h0M1010.8 1135.5h0M1199.4 433.4h0M1170.6 459.6h0M726.1 950.3h0M1212.0 673.3h0M1138.1 984.0h0M968.8 935.5h0M789.4 1007.9h0M1143.9 815.1h0M825.3 780.6h0M661.7 567.5h0M949.5 1027.9h0M725.2 1075.3h0M777.9 1088.1h0M1609.7 645.7h0M1242.4 517.1h0M743.1 892.6h0M955.7 1182.5h0M1485.8 514.3h0M926.6 947.9h0M1103.3 778.6h0M685.2 995.0h0M1150.4 741.4h0M1247.4 741.3h0M1230.8 496.8h0M1052.2 1088.2h0M1537.5 547.3h0M1003.2 754.3h0M623.6 545.0h0M1490.7 571.7h0M1603.0 674.0h0M1032.9 1146.2h0M1073.1 1058.8h0M1072.8 955.1h0M1194.1 831.8h0M989.0 1055.8h0M769.2 912.7h0M1008.3 824.6h0M1206.0 1047.1h0M1067.3 909.5h0M798.3 884.3h0M874.4 1193.8h0M1207.9 952.6h0M907.8 806.5h0M1150.2 1106.9h0M1111.2 1073.7h0M768.0 1063.8h0M1052.7 809.1h0M772.1 1074.3h0M1183.7 1080.1h0M906.9 1156.7h0M1287.6 381.8h0M1092.8 1011.8h0M1003.0 822.4h0M741.5 917.0h0M750.0 1075.2h0M1023.4 1015.3h0M817.8 1144.2h0M1176.0 1083.9h0M897.7 826.1h0M1068.2 967.3h0M784.9 881.0h0M715.2 988.5h0M1000.0 1073.0h0M932.0 1231.9h0M1223.4 345.5h0M901.9 1035.5h0M1043.9 1169.9h0M953.4 1165.0h0M706.9 1060.2h0M1129.7 367.7h0M768.0 1022.1h0M1038.3 1098.3h0M1179.4 801.6h0M1213.0 1029.1h0M1237.2 781.6h0M717.8 1056.1h0M894.7 1204.8h0M1162.9 823.3h0M1624.0 664.6h0M1013.1 1162.0h0M978.8 812.1h0M1067.7 982.3h0M931.4 1129.3h0M1188.2 342.2h0M936.5 1092.8h0M1066.5 807.4h0M808.0 782.3h0M1603.2 695.9h0M911.2 1057.6h0M760.1 1017.8h0M887.4 825.5h0M948.3 1001.3h0M1020.8 1063.5h0M999.8 1182.6h0M1156.5 842.5h0M1203.5 1042.8h0M1008.4 984.5h0M873.5 1126.1h0M1139.1 310.5h0M999.7 1218.8h0M933.3 930.1h0M958.1 1120.9h0M1232.4 939.9h0M930.0 1155.9h0M1158.0 840.0h0M823.6 1141.7h0M811.2 935.0h0M830.7 1143.8h0M834.2 1060.5h0M690.9 1037.9h0M1075.0 846.0h0M1189.3 337.9h0M991.3 1075.3h0M1512.6 518.3h0M1248.1 739.4h0M865.1 781.7h0M1182.6 680.0h0M1189.1 325.5h0M735.3 1041.9h0M843.0 817.9h0M1514.8 547.5h0M787.7 1109.0h0M1164.2 786.7h0M851.8 1153.7h0M941.3 1100.2h0M1124.0 408.5h0M966.8 1072.8h0M1121.6 1121.0h0M1137.8 328.2h0M1087.4 915.6h0M880.9 1206.6h0M1135.9 797.6h0M762.3 939.6h0M937.8 863.9h0M1618.0 649.7h0M1154.4 842.4h0M836.5 1045.7h0M744.2 932.4h0M943.5 1212.7h0M1149.9 362.8h0M1063.5 913.0h0M1173.5 702.1h0M1190.0 847.0h0M970.5 1101.0h0M1108.9 983.6h0M1178.8 1076.5h0M913.5 1202.4h0M1045.2 1179.4h0M1125.1 957.4h0M737.0 988.9h0M1254.1 724.2h0M1078.7 860.1h0M1199.1 784.3h0M851.6 1068.0h0M959.4 1093.4h0M954.6 1165.1h0M1109.2 794.3h0M723.4 969.2h0M944.9 1232.9h0M1221.8 1030.3h0M941.6 1147.2h0M794.0 995.5h0M1216.0 847.7h0M1497.0 516.2h0M1170.7 807.9h0M734.3 997.9h0M866.2 726.5h0M1622.2 703.4h0M1614.8 690.4h0M777.7 1113.3h0M1154.0 827.6h0M879.7 1126.1h0M1556.4 520.6h0M755.0 1084.0h0M914.9 1216.2h0M1194.9 823.6h0M1101.4 1102.0h0M788.8 1069.4h0M705.6 1064.1h0M737.7 1032.6h0M1264.9 367.9h0M1070.6 974.4h0M773.5 1035.4h0M1042.6 921.7h0M959.5 1047.8h0M903.9 880.4h0M1084.8 922.0h0M1152.5 385.4h0M1177.4 758.0h0M716.4 1098.5h0M1178.8 1032.1h0M1613.0 717.8h0M1254.7 416.0h0M834.6 1053.1h0M1184.6 830.3h0M1192.0 831.2h0M842.2 1145.9h0M1209.9 836.5h0M698.9 1044.4h0M783.7 1087.7h0M720.2 1095.4h0M1038.2 1009.8h0M1003.5 947.7h0M488.5 221.8h0M1509.6 550.2h0M825.3 832.2h0M816.5 802.3h0M1611.7 646.1h0M1616.4 721.4h0M730.3 1090.3h0M749.2 931.0h0M929.7 898.6h0M1026.4 1086.2h0M906.0 1061.6h0M926.5 1073.7h0M940.5 1152.5h0M1030.3 1139.0h0M1218.2 434.1h0M945.9 1229.1h0M1135.0 834.9h0M744.5 1001.4h0M994.6 1199.1h0M993.0 1099.4h0M713.4 940.1h0M692.5 1015.8h0M708.4 1025.8h0M1240.6 515.9h0M1580.0 508.3h0M1621.4 701.6h0M991.1 1102.5h0M881.0 1140.9h0M860.7 950.6h0M796.3 1091.7h0M952.5 1186.7h0M1617.9 644.2h0M1184.1 382.3h0M912.3 1034.3h0M1250.4 368.2h0M1186.1 961.9h0M706.7 1070.1h0M1034.7 1215.1h0M729.2 932.0h0M1256.0 968.2h0M1063.2 978.8h0M913.8 1158.0h0M792.6 1113.5h0M859.4 826.9h0M975.6 813.9h0M823.6 1047.9h0M851.6 1147.5h0M1251.0 381.7h0M1176.4 796.0h0M1052.6 910.9h0M968.2 1006.2h0M1009.2 1225.7h0M1172.6 831.7h0M790.3 1028.4h0M1496.9 587.0h0M793.1 914.8h0M963.5 897.7h0M1054.1 841.5h0M814.4 834.2h0M784.0 917.3h0M882.7 1137.5h0M986.4 1190.0h0M714.3 952.8h0M1180.6 856.1h0M1117.0 1032.3h0M1024.0 1031.1h0M793.3 821.7h0M1083.3 1121.7h0M1025.2 832.9h0M976.8 806.6h0M781.8 890.3h0M782.8 892.9h0M1249.5 697.5h0M1240.7 751.7h0M832.5 998.3h0M1169.7 852.2h0M1537.6 551.4h0M1141.2 370.6h0M905.9 1039.0h0M755.7 1029.2h0M965.0 969.7h0M996.8 957.9h0M1514.5 572.2h0M908.4 975.8h0M1039.1 1122.9h0M845.9 1103.1h0M963.1 938.1h0M1589.4 706.6h0M653.5 571.3h0M931.5 1097.1h0M1185.7 334.1h0M951.1 1092.1h0M896.6 797.0h0M967.5 1191.7h0M1242.0 961.4h0M1497.7 514.5h0M753.3 1013.2h0M894.5 1073.2h0M859.8 842.4h0M964.5 791.9h0M1153.0 1003.3h0M995.3 1206.0h0M1250.1 735.3h0M1053.5 799.8h0M876.6 1133.5h0M912.5 1078.8h0M1104.6 773.4h0M981.2 936.4h0M886.8 839.4h0M1246.1 763.7h0M901.4 1153.8h0M1209.8 768.3h0M871.2 1101.3h0M1174.6 820.6h0M1295.7 386.3h0M694.8 1034.5h0M800.9 1020.2h0M1011.8 961.7h0M648.6 515.6h0M620.9 512.8h0M754.7 1082.4h0M864.8 795.1h0M781.1 1024.5h0M751.8 962.0h0M1252.4 389.9h0M822.6 782.7h0M1146.8 1098.7h0M1062.4 1072.8h0M1200.1 794.0h0M1160.8 736.4h0M1486.7 530.2h0M1063.6 1026.8h0M852.3 1041.0h0M855.1 820.3h0M1030.1 1156.9h0M734.5 1008.6h0M1163.6 837.3h0M1128.3 1080.0h0M1101.1 772.6h0M935.0 1044.1h0M872.1 908.9h0M1247.1 954.8h0M708.8 1031.5h0M1130.2 316.4h0M704.3 1047.3h0M1108.7 770.2h0M1141.9 1089.1h0M1026.7 1017.0h0M802.6 1042.3h0M952.0 901.7h0M723.6 999.3h0M1561.2 515.2h0M1198.2 1069.2h0M921.5 951.4h0M911.7 1218.3h0M932.2 797.0h0M952.5 1232.5h0M1146.1 1106.3h0M738.7 1072.4h0M840.2 1044.7h0M1048.5 1013.4h0M1549.8 519.9h0M1197.9 274.7h0M1161.4 358.8h0M956.9 1222.1h0M914.1 1220.0h0M1029.5 1052.2h0M1245.7 760.8h0M784.1 1051.5h0M1131.1 1107.0h0M642.5 506.5h0M1206.4 670.7h0M910.6 910.2h0M1646.3 715.1h0M1155.1 749.0h0M952.6 1157.6h0M1707.9 832.3h0M1042.1 1196.0h0M715.0 1043.3h0M788.0 889.8h0M861.4 830.3h0M1501.8 591.5h0M1183.1 959.8h0M1142.6 380.6h0M822.7 1105.8h0M716.7 980.0h0M1074.3 818.4h0M1100.3 933.4h0M1621.9 690.1h0M936.7 1233.1h0M734.3 1044.8h0M381.2 495.1h0M1120.2 769.0h0M1161.2 999.5h0M998.4 1020.1h0M738.8 1103.1h0M969.6 1061.3h0M974.2 829.2h0M1227.5 779.8h0M1704.5 828.0h0M1510.1 559.8h0M943.0 1059.5h0M1173.0 1090.4h0M1107.1 1124.3h0M849.1 1142.3h0M962.5 721.7h0M953.3 981.3h0M1024.8 836.8h0M1116.6 1032.9h0M1119.6 970.2h0M1110.9 1097.7h0M1055.5 1037.1h0M1633.1 724.0h0M1213.4 1057.0h0M1004.7 1115.7h0M1020.5 877.0h0M984.6 917.5h0M915.5 704.8h0M1616.8 689.9h0M1145.9 767.9h0M1066.3 1015.2h0M1197.5 649.2h0M1070.1 855.3h0M765.8 1102.5h0M932.4 933.5h0M658.8 557.3h0M804.1 902.0h0M1009.8 1150.4h0M926.4 957.7h0M890.6 1062.8h0M739.9 1003.6h0M787.4 962.9h0M1079.1 821.9h0M1494.1 528.3h0M722.8 991.1h0M817.1 816.9h0M928.0 977.1h0M1191.3 1077.8h0M1021.5 1050.3h0M1036.7 933.0h0M1092.1 421.6h0M1005.3 1172.3h0M866.7 1032.9h0M1109.0 1136.2h0M1611.1 642.4h0M893.6 1080.3h0M769.6 983.4h0M726.0 1075.3h0M860.7 843.3h0M909.2 1218.1h0M1054.3 946.8h0M1104.2 925.1h0M1119.4 1124.1h0M779.5 1074.3h0M1043.4 862.7h0M963.9 1233.5h0M865.5 1126.6h0M923.2 1001.9h0M893.4 1024.3h0M1618.7 653.4h0M664.9 560.5h0M1249.1 798.8h0M1168.7 1013.9h0M760.2 910.7h0M1502.6 580.7h0M1177.2 802.3h0M1109.4 410.9h0M915.2 1168.7h0M899.7 1020.3h0M881.0 737.6h0M1718.3 838.6h0M640.6 511.2h0M970.5 811.9h0M1017.8 927.8h0M949.0 983.0h0M1004.3 747.6h0M930.5 1191.1h0M1150.7 992.9h0M913.9 1114.5h0M1188.4 337.7h0M851.9 871.0h0M1617.0 657.0h0M809.7 1122.3h0M751.7 1078.9h0M962.6 917.1h0M1210.9 1045.1h0M1237.1 817.6h0M952.9 1161.5h0M751.2 1075.4h0M1130.8 765.1h0M892.2 723.9h0M899.8 1144.5h0M1016.1 982.9h0M763.2 892.8h0M1133.5 1091.0h0M1536.4 546.2h0M898.3 1182.9h0M909.8 1058.5h0M700.1 1028.8h0M854.5 801.6h0M968.8 976.6h0M710.1 989.3h0M871.9 1073.8h0M1044.2 930.5h0M945.8 949.5h0M1503.8 523.3h0M788.6 1114.3h0M916.9 909.4h0M1191.9 324.8h0M705.7 940.6h0M902.4 838.1h0M1147.0 971.5h0M931.9 1219.3h0M812.5 794.9h0M1012.5 1186.0h0M934.2 1101.0h0M1075.6 1005.5h0M839.2 1116.5h0M747.6 997.1h0M735.9 1052.5h0M1250.7 695.4h0M936.8 1074.0h0M1178.2 789.7h0M1598.0 696.2h0M802.8 1126.1h0M779.4 927.8h0M885.9 1195.1h0M856.6 1021.6h0M1237.2 541.0h0M783.4 1110.4h0M1023.8 1215.5h0M1492.4 514.7h0M871.8 817.4h0M962.6 988.5h0M914.0 1230.8h0M830.1 1152.1h0M1166.0 839.9h0M1329.2 657.5h0M866.7 1065.1h0M845.3 1045.9h0M737.5 1067.7h0M1160.3 1087.6h0M707.7 1049.5h0M880.2 959.7h0M835.9 1156.8h0M997.7 812.3h0M1205.5 963.1h0M1211.8 672.2h0M1101.5 418.6h0M971.4 791.4h0M1196.3 788.0h0M822.9 844.0h0M874.3 1197.8h0M1059.7 952.6h0M693.1 982.2h0M630.5 565.2h0M990.2 1219.6h0M1118.0 312.0h0M1204.7 1056.4h0M827.8 1133.0h0M882.5 1059.6h0M990.1 1076.5h0M977.0 922.8h0M1594.3 503.5h0M1017.3 1039.9h0M1023.9 1131.3h0M1275.3 374.2h0M1206.7 963.9h0M951.7 1157.8h0M1046.3 1099.1h0M1561.5 517.7h0M793.4 1068.4h0M1250.4 970.6h0M1051.5 1145.2h0M916.8 881.3h0M1520.2 557.0h0M1200.1 1054.1h0M1061.9 828.2h0M817.4 1069.5h0M1166.4 1082.0h0M1215.6 1055.4h0M595.9 533.1h0M1013.0 798.4h0M1627.0 670.7h0M843.6 816.8h0M1600.7 643.1h0M914.6 1208.3h0M930.5 1144.7h0M1033.5 1218.7h0M883.8 1064.5h0M752.5 1101.9h0M911.8 1231.5h0M895.9 1144.0h0M1538.8 549.8h0M1167.5 1088.6h0M980.1 1045.7h0M946.3 1106.0h0M708.3 970.1h0M495.3 228.1h0M887.4 1070.6h0M1080.9 844.8h0M710.9 1074.8h0M1072.9 968.4h0M885.0 1107.6h0M1090.4 853.9h0M900.6 1110.0h0M1629.6 721.5h0M1241.0 813.4h0M1117.4 1128.9h0M893.3 1169.6h0M1601.4 641.9h0M1181.6 853.2h0M898.4 1211.4h0M1052.0 1019.4h0M756.3 1070.4h0M758.4 987.4h0M918.7 1203.5h0M1598.3 701.4h0M1058.2 828.3h0M976.4 946.3h0M1123.7 968.3h0M1176.8 454.0h0M1160.7 459.1h0M997.1 943.5h0M1589.4 705.7h0M664.8 556.7h0M1139.1 1087.0h0M1200.3 671.5h0M1625.8 722.7h0M986.6 1153.9h0M897.8 1047.9h0M872.8 912.4h0M896.0 1168.3h0M976.5 1063.0h0M1176.9 807.7h0M1210.3 785.5h0M766.4 935.6h0M910.2 895.8h0M838.0 823.4h0M937.6 726.3h0M1212.3 1025.6h0M1108.4 919.4h0M1077.8 964.1h0M1141.1 359.1h0M1127.1 960.5h0M1200.7 780.6h0M976.3 1038.0h0M925.6 1135.7h0M1198.8 1014.7h0M1063.3 834.8h0M800.5 1025.6h0M850.4 760.5h0M934.9 983.7h0M768.0 886.5h0M896.0 1082.2h0M989.7 1137.2h0M802.8 925.0h0M1178.5 956.0h0M495.4 227.7h0M628.0 540.8h0M876.3 1145.7h0M768.0 1052.9h0M934.3 799.6h0M1495.0 523.6h0M1047.7 822.0h0M1249.6 805.9h0M979.6 1008.2h0M1211.7 817.2h0M1169.3 849.3h0M1198.6 1054.5h0M759.2 1013.6h0M959.9 1151.4h0M1234.3 943.5h0M833.7 1006.6h0M996.7 814.3h0M799.3 911.3h0M1609.8 707.4h0M1203.3 946.5h0M1054.2 859.0h0M879.5 1091.9h0M752.8 1095.7h0M1169.8 845.1h0M1172.1 1024.2h0M1061.6 1076.1h0M1157.3 1066.7h0M1110.9 807.4h0M1138.9 816.7h0M1049.3 833.2h0M914.2 1171.5h0M602.4 542.0h0M970.3 1084.6h0M725.8 1021.9h0M1086.7 1014.0h0M1084.1 916.5h0M720.6 1097.2h0M1043.3 1097.4h0M775.7 1111.4h0M1177.6 1028.5h0M1171.1 1076.0h0M754.8 970.9h0M942.7 877.9h0M940.1 953.3h0M973.3 985.9h0M934.9 959.7h0M1083.2 905.5h0M947.6 1235.5h0M927.8 971.1h0M734.6 956.7h0M892.5 1175.1h0M1080.9 964.3h0M1054.8 1138.1h0M923.0 1039.3h0M628.8 508.9h0M1200.6 341.4h0M1208.0 378.0h0M1124.4 409.6h0M1570.9 512.2h0M1068.6 1091.1h0M1602.6 642.6h0M1000.2 1179.2h0M1051.6 928.3h0M1033.0 839.3h0M836.6 1004.6h0M1114.7 879.2h0M808.7 822.4h0M896.2 1217.7h0M1206.0 311.3h0M896.8 1121.1h0M616.0 536.9h0M718.1 1019.6h0M1241.2 795.2h0M1529.3 562.6h0M922.0 979.4h0M1637.1 726.3h0M875.6 1166.7h0M1013.0 891.4h0M786.4 904.9h0M624.9 520.4h0M295.2 983.5h0M1609.7 710.2h0M981.4 1155.1h0M971.6 1150.2h0M751.7 992.4h0M1031.7 1053.4h0M1650.9 717.0h0M977.0 735.9h0M740.7 1025.1h0M804.8 901.4h0M891.8 1065.0h0M1136.0 1118.2h0M919.7 921.9h0M761.1 1112.7h0M989.7 977.7h0M931.7 986.2h0M905.5 1149.9h0M729.0 956.1h0M1499.3 524.9h0M1192.7 402.0h0M975.8 941.4h0M736.6 993.3h0M843.5 808.9h0M701.0 976.8h0M1225.1 674.0h0M633.3 516.5h0M927.2 994.5h0M600.8 537.6h0M689.3 1031.6h0M494.0 225.8h0M1244.2 707.5h0M747.6 1050.7h0M1593.1 707.0h0M659.9 567.3h0M912.1 1165.5h0M948.7 1153.6h0M777.8 905.5h0M1024.8 964.4h0M755.0 902.8h0M810.3 785.2h0M852.3 1040.8h0M934.3 1208.1h0M736.9 1008.7h0M1203.3 352.0h0M783.4 891.1h0M1036.3 817.7h0M1593.2 639.6h0M914.3 980.9h0M1214.1 406.6h0M1622.3 712.7h0M775.5 1090.8h0M942.2 1128.3h0M715.0 1007.5h0M966.1 1239.2h0M886.2 1149.5h0M1136.1 964.9h0M1227.5 672.0h0M1181.5 320.2h0M896.9 1091.1h0M1161.9 790.4h0M1053.4 812.8h0M1054.4 985.6h0M889.8 1150.2h0M1723.5 844.0h0M1104.7 1100.3h0M1184.6 851.1h0M721.1 963.1h0M854.7 1148.1h0M1281.9 343.1h0M1241.8 403.2h0M936.7 735.5h0M944.4 1148.1h0M726.5 960.3h0M1219.3 1054.8h0M898.1 1155.6h0M1135.2 842.9h0M822.5 781.5h0M799.2 1060.7h0M1011.1 994.9h0M1060.5 1031.2h0M1007.7 1128.4h0M784.8 885.8h0M875.7 1170.3h0M795.6 993.7h0M818.2 885.9h0M797.8 978.6h0M1120.6 793.3h0M1584.2 636.4h0M1007.3 1215.6h0M1163.2 456.7h0M1045.0 1017.7h0M694.8 994.4h0M842.2 1052.2h0M1062.5 846.9h0M724.7 1085.7h0M949.5 951.8h0M1161.9 459.4h0M884.3 715.8h0M1215.8 1057.4h0M769.5 922.8h0M1016.2 1016.6h0M1208.5 1019.9h0M1242.7 818.0h0M733.0 922.3h0M704.6 994.4h0M1162.5 1003.6h0M844.1 1144.7h0M971.8 938.1h0M936.5 1047.4h0M1488.5 536.0h0M1051.4 1004.8h0M730.9 1094.2h0M1021.7 963.3h0M755.2 906.8h0M1210.9 671.8h0M1057.7 1177.9h0M734.6 1108.6h0M1180.6 1020.3h0M1218.1 932.7h0M794.9 1038.8h0M702.9 1038.9h0M1153.7 738.7h0M609.3 527.5h0M993.3 788.3h0M1216.9 764.0h0M1127.2 1121.5h0M1218.7 1039.2h0M1158.2 988.7h0M1597.0 636.1h0M1151.8 748.4h0M1082.1 928.9h0M773.2 1082.3h0M710.8 1044.3h0M978.5 1196.1h0M903.3 1203.1h0M762.5 935.9h0M1616.7 713.7h0M1079.3 929.0h0M974.3 811.3h0M742.0 1081.4h0M1230.8 1028.8h0M929.1 1236.1h0M913.8 1061.2h0M1005.1 953.8h0M1710.4 833.4h0M1523.7 562.7h0M1119.1 1122.7h0M1125.6 801.8h0M876.6 1093.2h0M1108.6 1136.5h0M706.7 1086.5h0M1075.3 1052.8h0M911.6 1022.9h0M1060.1 815.2h0M1333.3 655.8h0M762.0 1088.2h0M1149.5 822.7h0M618.6 551.1h0M890.8 1204.4h0M978.0 1172.9h0M1210.5 754.1h0M745.3 1053.5h0M839.0 1007.6h0M891.4 728.4h0M930.8 1030.4h0M1149.3 981.7h0M1032.4 802.0h0M810.7 785.3h0M784.0 889.1h0M973.7 964.9h0M1123.6 795.5h0M1234.9 785.1h0M962.0 751.3h0M737.3 1011.6h0M1184.8 959.4h0M714.1 1009.6h0M645.4 567.2h0M864.0 1054.8h0M881.2 1047.2h0M1000.8 783.3h0M1186.5 832.9h0M1245.9 379.4h0M812.3 1105.7h0M1228.7 1033.8h0M796.6 993.7h0M1109.4 1040.4h0M888.3 734.6h0M1118.4 409.1h0M972.0 1005.6h0M885.2 1155.6h0M706.7 1073.0h0M1209.6 333.0h0M1048.2 1045.4h0M1161.8 459.1h0M1169.0 955.6h0M728.1 930.8h0M907.9 1077.6h0M1540.4 522.1h0M982.8 1189.1h0M1075.9 820.7h0M1113.2 1124.5h0M963.6 1183.2h0M1231.8 318.7h0M1109.6 987.2h0M1243.2 522.6h0M1170.9 784.5h0M1501.6 515.9h0M1101.7 423.2h0M618.2 535.4h0M1212.7 434.1h0M1125.8 882.6h0M719.4 999.4h0M943.4 945.1h0M932.4 969.4h0M1595.3 637.9h0M915.5 1070.0h0M1043.4 826.3h0M836.2 1005.1h0M1105.4 1100.9h0M973.1 1051.6h0M1718.2 840.5h0M951.6 1004.8h0M956.2 1236.2h0M1046.4 983.2h0M1159.0 1097.2h0M750.6 970.4h0M812.1 1132.4h0M795.3 992.2h0M1019.9 1201.6h0M846.7 1123.6h0M949.0 1089.0h0M956.0 977.1h0M1574.4 523.3h0M1069.0 842.5h0M954.1 904.5h0M1197.1 969.4h0M1015.4 965.2h0M734.5 1092.5h0M758.8 1099.2h0M1054.0 1015.6h0M922.8 1209.0h0M932.2 1186.3h0M1016.5 994.3h0M775.8 890.2h0M937.6 1223.0h0M811.7 922.8h0M827.5 1145.7h0M914.9 1161.6h0M1221.6 834.7h0M810.1 1100.8h0M728.1 1000.0h0M1541.0 544.1h0M1058.2 1003.5h0M1038.8 886.7h0M1599.8 707.7h0M768.9 1043.2h0M951.4 1145.5h0M954.8 1007.8h0M1098.3 1011.2h0M860.6 1109.1h0M1595.5 700.2h0M646.6 510.0h0M713.9 929.3h0M1535.1 512.9h0M1505.7 574.6h0M647.2 568.5h0M1210.5 759.8h0M1152.1 1029.6h0M754.8 1003.9h0M968.6 955.8h0M805.0 1122.3h0M759.4 1080.4h0M1294.3 373.5h0M870.3 1073.3h0M1704.0 829.3h0M1125.4 1111.5h0M780.2 1119.6h0M1226.0 674.8h0M955.5 1227.6h0M940.6 1051.3h0M1483.6 516.2h0M1596.2 640.4h0M494.4 227.1h0M1106.0 931.8h0M1018.5 957.0h0M1607.7 704.6h0M955.3 1128.6h0M694.4 1037.3h0M1175.3 745.8h0M956.3 1224.5h0M1143.1 802.7h0M668.6 568.9h0M638.3 509.4h0M1158.9 784.4h0M1587.0 644.0h0M741.0 1043.7h0M1627.6 661.5h0M1124.3 801.9h0M624.2 519.6h0M1131.5 850.3h0M1031.2 826.5h0M1218.7 790.1h0M970.0 1053.9h0M745.4 1076.9h0M1171.6 961.8h0M694.6 1041.3h0M835.5 1138.7h0M759.7 1028.3h0M1054.2 862.8h0M657.7 564.8h0M702.9 1087.0h0M831.5 1049.1h0M944.5 980.2h0M920.7 953.1h0M1052.4 812.7h0M815.5 1131.5h0M1172.6 1084.3h0M834.2 1126.2h0M1107.1 909.7h0M1034.6 1086.3h0M817.0 780.5h0M718.8 971.9h0M1030.2 1047.6h0M918.1 1222.7h0M1022.0 955.0h0M747.0 1056.9h0M1024.4 831.9h0M784.6 1109.9h0M898.6 1085.8h0M1171.2 1021.9h0M752.4 1065.7h0M1186.7 977.0h0" stroke="#000004"/>
<path d="M1021.4 1151.1h0M1027.8 1193.4h0M738.6 927.2h0M1074.9 852.9h0M1215.0 1069.9h0M1014.0 1102.6h0M999.5 809.1h0M937.1 1124.5h0M1220.8 1008.4h0M1069.3 1063.1h0M1220.7 479.9h0M1011.7 803.5h0M1016.8 1185.4h0M1089.5 914.9h0M1207.0 425.3h0M1063.0 928.0h0M992.6 1121.6h0M1011.8 1157.8h0M1265.8 381.9h0M1202.6 981.6h0" stroke="#140E36"/>
<path d="M970.5 734.3h0M802.0 788.3h0M1032.6 903.7h0M1496.0 513.1h0M885.0 722.1h0M1048.6 853.4h0M953.7 1144.4h0M1062.9 827.0h0M1021.3 1131.1h0M1064.2 831.3h0M830.3 853.4h0M1285.8 339.9h0M934.4 702.3h0M929.6 715.3h0M1496.2 507.7h0M1038.8 927.2h0M1020.0 1142.0h0M878.8 831.3h0M1282.1 332.0h0M787.1 987.5h0M1039.2 826.3h0M846.5 817.7h0M1085.3 940.4h0M1071.9 834.2h0M884.1 966.7h0M838.4 808.3h0M1494.2 529.1h0M893.7 895.0h0M1047.2 1208.2h0M975.7 1135.2h0" stroke="#251255"/>
<path d="M1580.9 514.4h0M1061.8 856.2h0M1079.5 960.5h0M1076.7 911.2h0M1024.5 934.9h0M1045.3 801.1h0M1231.5 489.0h0M1157.8 1063.0h0M1061.5 1050.8h0M814.0 804.5h0M1063.5 815.1h0M1073.1 844.8h0M934.2 707.3h0M823.5 858.3h0M710.8 1057.9h0M846.5 739.2h0M1066.6 835.3h0M784.2 950.1h0M1143.7 816.0h0M921.5 978.3h0M1005.8 1165.8h0M1192.5 1071.7h0M1037.9 1214.7h0M811.7 845.3h0M872.8 733.8h0M950.9 1151.2h0M1071.5 962.1h0M915.3 989.6h0M1032.9 1184.4h0M1050.3 826.2h0M1218.9 436.4h0M1196.3 990.5h0M1047.8 922.5h0M864.5 765.5h0M1034.6 1138.7h0M1230.8 493.1h0M1181.0 965.4h0M1260.1 330.2h0M782.9 1007.7h0M1149.0 321.6h0M946.4 803.3h0M939.6 721.5h0M1252.6 387.1h0M813.2 809.6h0M767.1 920.9h0M981.5 1166.4h0M1030.0 1151.7h0M1539.4 516.3h0M1253.8 318.8h0M1268.8 367.8h0M853.2 850.1h0M1056.2 853.7h0M1514.1 567.7h0M1272.4 368.0h0M957.6 823.2h0M943.8 814.8h0M1518.9 516.2h0M1080.5 920.2h0M1041.1 899.8h0M1266.7 321.2h0M1055.7 826.9h0M909.0 883.0h0M1071.1 965.1h0M847.8 1062.2h0" stroke="#3B0F70"/>
<path d="M968.3 885.8h0M1178.2 946.1h0M780.1 1115.5h0M961.0 1012.3h0M1193.2 339.8h0M1259.9 342.2h0M1020.1 808.1h0M1040.6 933.9h0M922.7 1098.4h0M1059.1 834.3h0M1571.1 509.5h0M866.8 804.8h0M909.2 882.5h0M1059.0 1130.5h0M1123.4 409.7h0M931.9 818.4h0M924.6 698.7h0M1161.6 1047.0h0M815.1 820.1h0M1083.8 959.7h0M871.4 798.6h0M1241.1 391.0h0M1238.0 542.8h0M1247.1 342.9h0M1496.1 516.9h0M943.5 730.9h0M942.5 804.0h0M832.5 859.4h0M985.7 723.8h0M1059.1 898.0h0M917.7 918.7h0M1225.0 398.1h0M1074.2 849.8h0M1064.8 824.1h0M915.2 1230.6h0M883.6 739.7h0M1083.2 953.1h0M947.6 808.4h0M927.2 705.9h0M696.2 1037.9h0M983.1 788.2h0M1052.8 847.9h0M994.1 1142.8h0M1173.0 1027.5h0M1176.2 945.7h0M826.9 825.8h0M941.5 1091.3h0M1105.1 1141.2h0M921.9 860.0h0M849.4 826.3h0M1076.6 898.5h0M1052.3 857.3h0M1048.3 863.1h0M1503.7 522.4h0M1145.5 360.3h0M1052.2 848.8h0M1009.2 798.4h0M1016.4 864.3h0M1265.0 356.0h0M1236.9 515.5h0M816.3 1136.6h0M1067.8 852.6h0M1078.9 959.4h0M1224.6 319.8h0M1520.2 523.5h0M1051.4 834.4h0M741.8 999.3h0M1169.0 948.3h0M948.1 820.9h0M1231.8 383.0h0M1197.2 1018.3h0M1197.5 1066.1h0M1169.3 450.3h0M1042.8 1111.2h0M1203.2 357.8h0M980.0 796.4h0M873.8 741.3h0M875.8 717.8h0M1232.1 492.5h0M977.1 723.7h0M1069.3 807.0h0M1277.2 333.1h0M1054.1 1188.4h0M732.6 901.6h0M1202.9 973.0h0M1169.8 1029.7h0M785.8 997.2h0M903.5 711.0h0M1279.2 387.5h0M1285.4 387.9h0M1075.4 879.5h0M982.7 738.0h0" stroke="#51127C"/>
<path d="M951.1 801.5h0M908.3 710.5h0M821.6 803.2h0M1284.1 358.7h0M1251.4 353.9h0M1199.8 678.0h0M982.5 738.0h0M733.8 1041.8h0M817.3 797.6h0M1196.6 330.3h0M1146.0 339.1h0M965.0 737.5h0M929.4 908.3h0M936.3 1100.4h0M1582.3 510.7h0M887.6 915.9h0M1007.2 1133.6h0M996.8 1161.8h0M712.4 1034.1h0M880.7 921.1h0M1170.8 476.0h0M1050.9 796.0h0M997.9 814.0h0M1152.0 363.5h0M891.8 1002.6h0M1069.3 883.4h0M1057.0 1101.0h0M1001.9 804.9h0M970.9 1105.6h0M973.3 733.3h0M870.2 783.0h0M905.7 885.8h0M876.1 878.3h0M1185.2 972.9h0M838.7 829.8h0M888.7 808.5h0M1086.6 900.7h0M997.9 796.0h0M964.4 805.5h0M1159.7 473.9h0M1201.3 283.9h0M1162.7 457.3h0M894.5 1145.4h0M1031.5 961.0h0M721.9 1092.6h0M1014.1 1133.5h0M904.0 712.1h0M793.4 928.8h0M1238.2 310.6h0M889.3 795.6h0M1282.8 388.8h0M691.9 1029.0h0M1065.9 833.8h0M1232.5 493.9h0M1277.5 384.6h0M1171.7 362.1h0M971.8 817.8h0M1276.2 352.9h0M902.1 818.1h0M1015.8 807.3h0M869.0 879.8h0M1243.6 332.8h0M1070.2 971.2h0M1250.0 394.8h0M1296.3 377.1h0M880.0 800.8h0M952.1 812.4h0M1044.3 1044.5h0M1065.3 930.6h0M908.5 940.3h0M1067.9 830.9h0M949.5 824.5h0M1571.3 524.6h0M1020.6 834.8h0M823.7 805.9h0M964.7 1070.4h0M1057.3 1151.1h0M735.4 948.9h0M1052.9 948.6h0M995.3 1143.0h0M687.0 1038.3h0M1253.9 311.3h0M837.2 813.0h0M1497.7 508.0h0M983.7 733.2h0M1030.2 1190.0h0M1214.1 1008.8h0M1280.2 382.7h0M1174.9 379.3h0M1029.1 1049.9h0M933.8 719.7h0M1287.8 329.2h0M1059.7 917.9h0M864.9 726.6h0M1186.5 382.8h0M1206.2 436.9h0M929.6 731.2h0M1040.4 1119.7h0M857.3 752.8h0M903.1 826.3h0M1043.2 862.1h0M860.6 806.7h0M957.7 727.8h0M1234.3 385.8h0M989.2 731.8h0M1143.4 362.3h0M1014.7 1156.8h0M1038.5 918.4h0M1167.1 463.8h0M985.9 725.4h0M1215.7 436.2h0M1100.1 418.9h0M916.2 896.8h0" stroke="#641A80"/>
<path d="M887.4 802.0h0M891.6 827.3h0M826.2 838.4h0M1139.1 1113.2h0M1253.5 315.0h0M902.9 836.5h0M922.7 698.7h0M1204.1 840.5h0M1288.3 391.4h0M1251.9 359.4h0M1029.4 1210.1h0M1232.8 500.9h0M808.1 818.2h0M903.5 820.7h0M1239.1 529.9h0M926.9 701.7h0M864.0 803.3h0M907.2 950.3h0M1285.8 363.5h0M824.6 1068.2h0M899.5 803.5h0M923.7 891.5h0M915.7 744.7h0M801.6 983.9h0M1032.5 1014.6h0M995.0 803.4h0M1063.7 1049.7h0M822.6 792.3h0M1230.6 495.9h0M1021.1 873.3h0M1132.8 314.4h0M991.5 877.2h0M1163.2 1069.2h0M805.3 814.9h0M1241.3 519.3h0M827.6 807.6h0M891.4 1041.4h0M1244.4 499.0h0M911.4 894.2h0M1058.4 851.6h0M815.3 821.7h0M1012.1 812.4h0M830.3 852.6h0M1238.9 544.3h0M1050.3 846.9h0M1208.3 845.2h0M922.1 710.5h0M1112.3 1116.3h0M854.5 750.5h0M1185.0 339.8h0M840.8 821.5h0M835.0 865.0h0M887.1 812.8h0M1076.5 967.2h0M1275.8 366.6h0M897.4 992.6h0M890.8 828.6h0M1167.5 363.5h0M852.9 848.1h0M1191.0 337.9h0M1046.1 813.7h0M1213.7 326.3h0M983.5 731.7h0M975.6 821.2h0M876.0 719.1h0M1052.1 838.2h0M1096.7 786.3h0M1256.4 333.7h0M837.7 834.9h0M1234.1 497.3h0M1211.9 978.6h0M920.2 705.2h0M1144.4 324.2h0M1036.2 799.6h0M1236.0 376.3h0M972.3 794.4h0M916.6 752.7h0M886.3 817.4h0M829.5 841.4h0M1176.5 1023.0h0M812.0 800.2h0M1296.3 384.0h0M1032.7 1122.4h0M870.1 817.7h0M1238.4 537.6h0M809.9 829.7h0M888.9 991.1h0M819.9 893.4h0M1245.8 493.5h0M816.7 866.2h0M825.8 850.3h0M869.9 814.5h0M992.6 1147.1h0M1707.2 903.0h0M917.1 852.4h0M1029.1 880.0h0M1226.7 674.7h0M1221.6 1012.7h0M813.6 795.7h0M808.8 846.1h0" stroke="#782281"/>
<path d="M889.7 943.0h0M759.2 1033.8h0M1284.3 345.9h0M1714.4 909.0h0M1167.9 392.3h0M822.8 819.0h0M1137.6 775.1h0M972.2 816.3h0M1536.1 513.6h0M1256.9 318.4h0M1134.6 325.4h0M897.9 806.0h0M1022.8 821.5h0M1234.3 498.7h0M982.6 727.0h0M1278.6 359.0h0M1160.8 454.3h0M734.0 1097.3h0M973.7 811.2h0M846.5 1040.7h0M1195.9 406.7h0M932.4 1177.7h0M892.3 718.3h0M904.1 815.5h0M1080.4 865.3h0M1020.3 816.3h0M1251.2 312.6h0M891.6 726.6h0M1022.1 833.0h0M866.5 820.7h0M1190.1 373.1h0M1194.5 1067.1h0M854.8 1179.0h0M1000.3 814.7h0M867.7 902.0h0M1051.8 1093.1h0M910.2 906.4h0M1277.3 367.1h0M814.6 810.1h0M1160.8 357.6h0M974.3 844.4h0M1248.9 495.7h0M1297.4 373.6h0M1199.4 430.4h0M1000.2 821.0h0M828.0 826.1h0M758.0 945.2h0M1254.4 371.4h0M886.2 891.6h0M1106.9 856.3h0M956.3 808.0h0M971.1 773.3h0M1168.5 383.8h0M869.9 750.0h0M979.5 800.3h0M822.3 862.1h0M938.2 900.3h0M887.4 961.8h0M1274.2 467.0h0M906.7 924.4h0M1201.0 1067.7h0M999.0 812.5h0M1277.4 332.9h0M906.1 819.9h0M830.8 849.1h0M1071.0 958.2h0M1307.8 349.8h0M975.4 818.8h0" stroke="#8C2981"/>
<path d="M875.6 874.4h0M1166.0 360.3h0M1162.0 835.6h0M822.2 858.8h0M1278.2 360.8h0M809.9 842.6h0M1210.7 432.3h0M1026.9 857.3h0M1014.5 1090.9h0M1160.9 361.0h0M1265.2 386.4h0M926.4 713.2h0M1278.0 368.0h0M1169.7 441.2h0M1165.8 445.1h0M943.8 774.9h0M926.4 898.5h0M859.1 888.3h0M1203.3 672.5h0M776.5 1074.2h0M1203.6 397.1h0M911.0 752.5h0M1235.7 504.6h0M1231.5 488.8h0M1243.5 387.4h0M1202.3 849.8h0M1281.3 330.0h0M838.2 797.7h0M873.8 732.6h0M887.8 820.0h0M1278.7 355.4h0M1208.7 411.4h0M1715.4 906.2h0M1286.1 475.8h0M1238.1 493.8h0M1018.5 829.1h0M1180.8 325.3h0M1207.6 371.6h0M1293.9 476.2h0M865.3 747.5h0M1229.8 319.4h0M1274.5 476.2h0M853.9 797.1h0M1158.3 314.3h0M1258.5 467.9h0M1220.6 437.6h0M1298.0 388.4h0M873.2 735.3h0M875.9 721.2h0M1254.9 497.6h0M1203.4 327.2h0M1269.9 330.2h0M1299.1 385.7h0M815.6 811.3h0M988.2 1079.5h0M1280.4 364.2h0M1135.1 312.2h0M867.1 979.7h0M1264.6 324.2h0" stroke="#A1307E"/>
<path d="M1192.3 790.3h0M1147.2 333.6h0M1284.8 334.2h0M1287.7 466.5h0M844.2 810.7h0M1266.2 970.7h0M1230.6 498.5h0M1287.4 384.7h0M900.2 717.1h0M841.2 1124.0h0M1243.5 379.3h0M990.1 872.7h0M1714.1 910.9h0M902.9 801.8h0M1261.6 343.2h0M1286.4 340.3h0M1031.8 1193.4h0M946.5 795.7h0M1184.2 323.6h0M1709.5 911.8h0M1704.8 905.1h0M1129.3 329.4h0M1230.7 310.9h0M1266.8 382.9h0M1271.5 370.3h0M827.3 833.2h0M1261.2 360.5h0M1143.0 333.1h0M1246.3 345.4h0M1124.6 324.4h0M1230.3 497.2h0M1284.4 331.7h0M1140.9 317.5h0M1285.5 465.8h0M865.2 1061.7h0M1288.7 354.1h0M1252.2 377.5h0" stroke="#B73779"/>
<path d="M1137.6 324.6h0M831.3 797.3h0M1275.4 459.9h0M1272.2 366.5h0M877.7 797.2h0M1136.0 1105.8h0M1139.1 321.7h0M903.6 708.1h0M1277.3 339.1h0M1257.2 384.8h0M1243.5 399.3h0M898.2 882.0h0M1155.2 312.4h0M937.5 806.2h0M1287.8 470.4h0M1273.5 321.9h0M841.2 811.1h0M1264.1 323.3h0M1294.8 455.7h0M1258.2 362.3h0M892.6 721.6h0" stroke="#CA3E72"/>
<path d="M1269.7 382.2h0M1274.4 466.5h0M1233.0 379.2h0M1249.7 376.7h0M1142.0 321.0h0M1205.0 429.7h0M1293.0 464.1h0M965.1 910.9h0M1300.4 464.7h0M1279.8 328.2h0M1250.1 484.2h0M1227.2 323.0h0M1244.9 506.3h0" stroke="#DE4968"/>
<path d="M1142.9 335.8h0M839.0 796.5h0M1288.1 383.8h0M1147.9 331.4h0M1286.9 397.8h0M1281.9 328.2h0M1710.3 895.6h0" stroke="#ED5A5F"/>
<path d="M1261.5 471.4h0" stroke="#F7705C"/>
<path d="M1197.0 424.7h0M1295.6 466.4h0" stroke="#FC8961"/>
<path d="M1290.1 466.2h0M1270.6 469.6h0M1264.7 470.2h0M1253.4 476.3h0" stroke="#FE9F6D"/>
<path d="M1266.5 487.2h0" stroke="#FEB77E"/>
<path d="M1265.9 467.1h0M1261.5 467.4h0" stroke="#FCFDBF"/>
<path d="M900.2 1101.8h0M1071.2 817.7h0M1179.0 1059.0h0M1078.3 923.1h0M1193.0 274.3h0M750.5 1079.9h0M1640.2 716.6h0M700.5 1047.6h0M1587.8 509.7h0M1041.0 866.7h0M1157.9 1097.6h0M805.5 1102.9h0M708.3 1093.7h0M933.8 1008.9h0M782.4 1088.5h0M1128.7 338.0h0M1186.5 853.9h0M934.7 1209.1h0M1219.3 762.9h0M1021.8 1022.1h0M984.4 1025.0h0M902.3 1214.1h0M960.4 1156.9h0M857.2 1182.0h0M1178.1 1023.4h0M1175.9 1056.0h0M1585.7 635.7h0M1525.1 558.2h0M711.0 1019.4h0M850.5 760.0h0M983.5 1203.0h0M999.9 1049.1h0M1078.0 929.7h0M765.1 1010.9h0M927.8 903.8h0M809.5 1129.0h0M1204.6 790.4h0M891.8 1105.8h0M633.5 563.0h0M1058.4 931.2h0M727.0 1052.2h0M1185.2 1050.3h0M1041.9 1202.4h0M1042.7 1017.1h0M766.2 1034.3h0M1208.9 921.3h0M1524.2 559.8h0M1236.0 764.6h0M1045.6 928.2h0M1040.6 1197.0h0M1021.7 1039.5h0M1223.8 674.6h0M856.8 1037.3h0M721.1 970.7h0M1203.2 327.2h0M863.9 1015.6h0M831.4 996.4h0M902.8 718.2h0M1613.6 650.5h0M930.7 921.4h0M953.2 1139.5h0M1578.7 633.9h0M1200.8 384.9h0M1505.6 564.2h0M1520.1 558.4h0M1581.5 634.2h0M943.3 1218.1h0M903.7 980.0h0M732.3 990.1h0M1201.5 835.5h0M1190.0 317.8h0M1196.4 674.0h0M973.5 1166.9h0M718.5 1014.4h0M866.4 1102.1h0M1166.7 411.3h0M626.5 515.6h0M911.8 713.5h0M977.7 958.3h0M1052.2 811.3h0M1054.3 1175.3h0M846.7 1146.9h0M978.4 808.8h0M736.2 1036.0h0M850.3 758.2h0M958.1 998.9h0M1215.8 770.5h0M1218.8 796.1h0M823.3 1127.1h0M1084.3 866.8h0M1257.0 716.1h0M943.7 1130.3h0M837.2 1144.6h0M985.2 1067.0h0M738.7 1061.8h0M986.1 1144.6h0M1605.0 676.0h0M971.4 795.3h0M1227.3 677.4h0M1097.1 1101.6h0M1253.1 966.6h0M1169.4 1080.1h0M642.9 564.0h0M1213.7 1013.7h0M1707.6 832.4h0M725.7 1066.1h0M1551.6 517.6h0M1139.2 1103.3h0M1105.1 803.3h0M1170.6 1008.4h0M803.5 1118.8h0M900.4 1080.2h0M979.1 950.8h0M1043.3 1054.3h0M1600.7 707.7h0M1044.1 1028.0h0M910.5 1160.2h0M1217.8 678.3h0M1198.7 1064.8h0M1174.5 841.4h0M991.9 726.0h0M1079.7 949.6h0M1116.9 1116.1h0M613.2 520.5h0M1025.5 863.6h0M1209.0 1025.5h0M977.9 724.1h0M778.3 992.9h0M1220.6 1047.2h0M732.7 915.6h0M1148.1 784.4h0M931.1 718.9h0M1236.7 370.0h0M957.9 714.2h0M933.2 805.6h0M294.3 981.7h0M985.8 929.5h0M1214.0 407.5h0M1064.5 877.7h0M857.6 1175.7h0M1239.1 802.3h0M1235.2 816.2h0M1042.9 966.0h0M872.0 1183.3h0M1508.0 557.4h0M1093.9 944.0h0M959.0 1065.2h0M928.5 1133.0h0M1180.4 685.9h0M1048.2 869.9h0M1243.9 691.7h0M923.6 1038.2h0M1016.4 817.5h0M1102.4 784.3h0M931.5 778.0h0M1060.4 1109.9h0M1229.7 1021.5h0M1619.2 713.2h0M1605.5 704.6h0M964.8 716.9h0M1108.5 905.6h0M726.0 1011.4h0M1096.9 421.2h0M1161.1 995.2h0M984.2 811.4h0M817.2 821.0h0M1094.2 970.8h0M719.0 935.0h0M626.5 512.9h0M765.1 904.2h0M738.5 984.8h0M1196.9 785.6h0M1191.8 345.7h0M1596.9 639.0h0M1117.1 1128.7h0M819.1 781.7h0M856.4 1153.2h0M982.1 1143.4h0M1032.8 1209.1h0M1638.1 716.6h0M690.7 990.1h0M1183.1 790.2h0M1188.9 844.0h0M1530.3 561.8h0M1492.0 516.0h0M1197.7 836.7h0M1160.9 788.9h0M1171.8 852.3h0M703.0 1080.0h0M810.6 1116.5h0M1213.3 833.3h0M1108.6 800.6h0M970.5 1220.1h0M985.6 1235.7h0M1171.9 742.6h0M1014.3 964.8h0M757.8 927.2h0M989.7 1112.8h0M774.0 949.2h0M1616.8 717.8h0M1196.5 1008.6h0M745.4 974.7h0M779.8 910.0h0M821.5 784.8h0M740.7 922.6h0M766.4 934.7h0M729.5 914.7h0M842.0 836.9h0M755.8 1110.6h0M1148.2 1102.9h0M1588.3 634.7h0M1173.0 466.5h0M691.3 1044.6h0M829.6 1128.0h0M1201.0 846.1h0M1207.1 400.2h0M1642.6 717.3h0M988.5 740.2h0M1102.9 904.5h0M757.6 923.4h0M705.2 1028.7h0M1722.0 832.5h0M950.2 1210.7h0M952.9 805.2h0M905.9 1131.9h0M1285.8 684.2h0M1524.6 524.5h0M794.5 1006.5h0M1106.2 1013.0h0M728.0 1027.5h0M872.1 1184.5h0M988.9 1132.8h0M748.1 1011.9h0M1532.1 520.8h0M893.9 717.3h0M910.8 1227.3h0M931.7 1225.7h0M736.5 918.1h0M1182.3 463.0h0M694.1 1030.4h0M860.0 1117.9h0M852.4 1043.1h0M949.5 1002.7h0M1063.1 822.8h0M1205.1 790.4h0M780.5 1084.2h0M1167.1 1012.1h0M1175.3 1064.7h0M1072.7 832.2h0M1196.0 464.7h0M736.5 988.8h0M936.6 1221.8h0M1713.4 835.6h0M1162.0 1037.0h0M943.3 1039.2h0M728.7 1032.4h0M832.5 1115.6h0M1116.4 792.4h0M920.9 1137.6h0M723.7 1028.5h0M1015.5 1064.9h0M734.5 1052.3h0M938.9 820.6h0M1152.1 1031.8h0M1027.3 816.5h0M936.5 810.5h0M815.4 936.3h0M857.8 845.7h0M813.8 850.5h0M1220.7 385.3h0M1013.6 1154.2h0M737.4 1039.4h0M1137.4 774.4h0M960.1 748.4h0M1001.8 1076.9h0M1120.8 969.8h0M878.1 1070.8h0M824.8 926.2h0M1512.5 513.6h0M731.6 974.0h0M973.7 1086.5h0M961.7 1214.4h0M1108.8 1129.1h0M831.6 1137.4h0M1621.4 653.6h0M705.8 1036.1h0M1251.3 803.7h0M999.4 868.0h0M818.3 1104.0h0M769.5 1019.0h0M1251.1 700.7h0M1008.6 1134.3h0M953.3 927.0h0M1074.8 807.0h0M1493.4 521.5h0M1037.1 962.1h0M1610.1 645.6h0M953.6 1223.5h0M1003.6 1215.0h0M1207.2 1014.0h0M1078.4 868.2h0M992.9 1047.9h0M742.9 1028.4h0M838.2 1130.1h0M1008.1 945.5h0M897.1 1080.1h0M1049.0 923.2h0M997.4 953.1h0M958.4 1014.9h0M1128.7 407.3h0M1177.9 832.3h0M834.8 1157.5h0M938.2 1115.7h0M1220.2 758.4h0M934.9 1097.6h0M888.8 833.8h0M1167.0 1037.1h0M721.6 983.7h0M638.1 513.1h0M1208.8 408.3h0M1198.8 429.7h0M917.2 1186.7h0M1190.2 786.1h0M1124.1 407.4h0M1089.4 1152.9h0M1148.9 808.4h0M635.2 562.3h0M980.3 1185.6h0M698.7 1042.1h0M1199.2 665.0h0M1071.7 891.0h0M664.9 571.3h0M1140.5 824.1h0M1014.4 817.7h0M751.0 993.5h0M757.6 911.0h0M1509.0 545.5h0M843.2 802.4h0M1048.5 810.6h0M1504.8 589.1h0M829.5 1060.6h0M706.1 1010.3h0M902.1 1179.2h0M629.1 513.4h0M1068.2 877.3h0M1223.4 1024.2h0M989.1 1127.3h0M848.8 1172.8h0M943.6 1096.8h0M1217.4 1054.6h0M785.7 1117.7h0M1142.6 796.5h0M1703.8 829.2h0M1199.9 429.8h0M1059.4 1089.1h0M1172.0 475.2h0M1503.6 540.2h0M1627.2 705.5h0M777.7 896.7h0M1107.5 1069.2h0M1019.2 1201.6h0M720.3 1021.8h0M629.3 567.7h0M1097.2 419.6h0M1018.6 1097.4h0M777.8 910.6h0M1217.1 1024.1h0M1603.8 702.8h0M908.2 1183.4h0M986.7 957.7h0M795.4 969.4h0M827.9 1152.3h0M782.0 922.2h0M1102.7 1063.5h0M899.7 798.1h0M947.2 1209.9h0M1211.3 1007.1h0M1242.7 757.1h0M731.3 1070.2h0M943.7 1126.6h0M939.9 1086.8h0M834.7 1100.4h0M1640.8 716.8h0M1221.1 1041.1h0M1134.3 372.1h0M1214.1 798.0h0M1128.9 1103.7h0M1626.5 669.3h0M711.3 1087.8h0M1235.4 752.5h0M1661.5 742.5h0M1180.7 1077.4h0M857.8 1040.6h0M1039.3 1067.8h0M1608.0 657.0h0M829.2 1142.8h0M1101.7 1119.2h0M979.0 958.6h0M805.9 1132.0h0M1234.9 810.2h0M1048.2 809.9h0M919.6 1179.9h0M1163.4 846.8h0M831.0 1053.6h0M1201.5 348.8h0M1239.0 952.5h0M793.1 1047.3h0M1595.0 502.2h0M830.9 892.5h0M761.1 1027.8h0M1160.8 440.0h0M1208.6 1007.4h0M944.8 1123.2h0M799.9 906.9h0M1306.1 364.6h0M1244.2 819.9h0M1619.3 689.1h0M1135.0 1070.8h0M905.4 1220.9h0M1102.7 416.7h0M756.4 1022.1h0M1099.0 908.8h0M1261.4 977.2h0M1491.1 514.5h0M1068.0 821.7h0M1122.6 1109.0h0M822.2 866.2h0M735.0 1050.4h0M1614.0 707.5h0M1515.5 509.7h0M894.5 1180.4h0M944.1 1135.3h0M961.7 1098.4h0M1609.6 704.0h0M811.2 839.1h0M994.5 1005.8h0M985.0 1058.7h0M1244.0 752.3h0M1171.8 777.4h0M1219.4 673.4h0M657.0 571.9h0M930.8 1207.7h0M943.8 1004.3h0M943.8 829.4h0M1203.3 427.0h0M1015.1 924.3h0M1525.8 560.3h0M1234.1 814.5h0M1063.8 908.2h0M1008.6 1208.4h0M612.9 525.0h0M803.7 855.2h0M997.6 1186.9h0M1204.4 815.4h0M838.4 897.8h0M999.0 1142.3h0M886.1 1107.1h0M1151.9 981.4h0M1252.9 733.3h0M1140.5 985.3h0M642.7 510.0h0M851.3 827.0h0M655.9 573.4h0M1136.4 980.3h0M1056.1 993.4h0M1185.2 775.6h0M865.6 1194.4h0M820.2 836.0h0M810.7 1088.5h0M1242.9 744.2h0M1210.0 726.7h0M1600.4 643.3h0M1525.9 520.3h0M770.8 957.5h0M999.9 1062.3h0M907.8 1173.3h0M1095.7 896.7h0M1184.8 669.5h0M1521.8 556.8h0M1061.1 1100.1h0M884.1 1146.3h0M1214.3 848.7h0M889.4 933.1h0M1015.3 974.3h0M1493.1 512.7h0M850.0 737.8h0M952.3 801.7h0M947.8 1149.7h0M979.5 1205.5h0M661.6 569.7h0M748.5 945.4h0M710.5 1033.5h0M916.8 1203.8h0M1084.4 871.7h0M922.6 971.6h0M1036.5 1048.7h0M725.5 998.0h0M1234.0 779.8h0M824.4 896.5h0M1517.0 517.2h0M1112.4 791.4h0M1006.6 1156.7h0M1094.1 863.2h0M855.3 1028.8h0M941.0 798.7h0M956.4 1002.2h0M886.9 1119.3h0M1114.5 793.3h0M899.4 1099.8h0M945.0 1136.2h0M1208.7 1047.8h0M1240.3 689.0h0M768.1 927.9h0M1172.0 739.1h0M927.0 983.2h0M1534.8 552.0h0M882.2 1114.6h0M1120.9 1123.9h0M720.5 1034.8h0M1088.9 918.5h0M1611.1 639.1h0M1120.3 413.0h0M1239.8 826.0h0M665.7 560.3h0M1010.3 1164.3h0M654.3 569.4h0M732.6 1008.3h0M698.5 975.6h0M1188.7 303.3h0M925.1 1094.9h0M1132.4 370.9h0M1100.7 902.7h0M760.7 916.8h0M1242.4 760.2h0M1589.1 703.4h0M862.1 1061.1h0M589.9 539.4h0M966.9 1062.9h0M876.3 1096.9h0M1203.9 961.7h0M828.5 818.2h0M756.8 943.3h0M908.3 1109.6h0M1025.1 1207.7h0M1139.6 1111.5h0M951.8 992.0h0M639.3 512.8h0M1116.7 824.4h0M1506.1 526.9h0M920.7 1190.6h0M1236.5 818.1h0M1762.8 809.7h0M1508.4 514.4h0M1119.6 1127.3h0M750.3 1062.9h0M1209.3 422.0h0M1707.0 829.7h0M974.2 987.8h0M922.5 859.9h0M860.8 1119.0h0M896.8 1142.3h0M812.8 901.5h0M859.5 855.0h0M388.9 501.8h0M1125.8 409.1h0M1177.3 847.8h0M1146.9 1043.2h0M1113.7 1030.3h0M1152.5 763.7h0M1001.5 1036.4h0M1217.4 1011.7h0M909.4 1133.2h0M887.9 832.8h0M1231.4 817.5h0M1003.7 795.8h0M902.6 1105.8h0M1211.9 934.4h0M1202.7 285.7h0M1048.3 995.5h0M1161.5 738.8h0M723.9 957.1h0M950.9 1214.6h0M1002.2 737.5h0M1204.9 354.5h0M794.9 1026.8h0M747.4 924.7h0M874.7 1123.3h0M955.5 1160.6h0M905.0 1011.9h0M963.5 792.9h0M911.6 1122.5h0M1252.4 973.4h0M1626.8 705.4h0M668.8 564.1h0M1654.1 731.3h0M1159.6 1091.5h0M993.9 1054.9h0M798.1 1068.5h0M809.9 964.3h0M887.5 1058.8h0M1614.9 710.2h0M910.5 1137.5h0M1132.3 776.8h0M1247.0 740.1h0M775.3 997.8h0M783.1 993.8h0M837.0 1088.5h0M703.4 1052.9h0M1465.1 588.8h0M699.7 1049.1h0M1222.8 778.2h0M1652.5 727.4h0M864.0 1019.8h0M941.1 995.8h0M1171.7 446.0h0M1073.3 1017.0h0M1000.9 765.8h0M1719.3 842.3h0M806.8 1125.4h0M1154.3 807.4h0M769.8 1105.9h0M632.6 513.5h0M1216.8 1056.6h0M932.4 818.4h0M1240.5 805.7h0M913.4 976.0h0M1035.6 1145.2h0M940.7 940.4h0M1202.9 1074.8h0M904.9 1175.2h0M1624.5 724.2h0M781.8 1053.9h0M1488.0 586.1h0M1030.3 1035.0h0M1208.8 846.6h0M1025.6 819.6h0M938.1 1213.6h0M875.2 1118.4h0M870.7 1078.0h0M1122.5 828.5h0M827.2 1132.6h0M854.5 797.6h0M913.9 1204.6h0M1180.7 945.4h0M771.1 1108.2h0M639.9 566.5h0M922.0 709.3h0M1063.0 913.3h0M689.8 1003.4h0M827.2 867.0h0M1241.8 751.9h0M948.9 822.7h0M1232.5 772.1h0M980.7 721.3h0M1055.4 1169.8h0M773.8 1043.0h0M1149.4 385.6h0M959.4 1012.6h0M836.6 814.8h0M1079.1 931.9h0M902.6 1040.5h0M995.8 1149.3h0M1111.1 1094.4h0M878.6 1174.6h0M1719.0 841.9h0M1057.7 925.8h0M724.2 986.1h0M1108.7 1128.2h0M912.5 1102.7h0M720.3 981.9h0M1235.5 766.3h0M1168.8 1081.9h0M1201.7 1062.0h0M1180.7 334.2h0M941.4 1229.0h0M1084.0 959.8h0M718.1 1050.4h0M633.6 520.8h0M1505.8 520.2h0M1576.0 525.4h0M934.1 1105.5h0M692.0 968.6h0M1117.2 771.0h0M794.6 976.3h0M833.0 1084.8h0M1055.7 1092.7h0M961.8 960.1h0M1015.7 833.2h0M915.6 990.0h0M1133.7 975.9h0M965.4 919.7h0M812.1 1127.1h0M995.4 1189.0h0M1185.4 954.0h0M1605.1 701.9h0M1045.6 845.5h0M1588.4 639.1h0M845.5 1053.2h0M1245.8 747.9h0M984.8 1125.9h0M714.8 1081.6h0M941.0 1089.8h0M759.5 1012.7h0M1285.0 379.5h0M1224.2 777.8h0M1123.3 800.6h0M834.4 998.2h0M1012.0 1100.1h0M769.1 929.7h0M864.2 1161.5h0M855.6 1018.7h0M1130.0 964.2h0M727.8 1088.1h0M488.9 221.7h0M1161.4 1067.0h0M1063.7 1018.6h0M993.4 1219.1h0M1524.1 553.8h0M936.2 796.3h0M1040.5 806.3h0M705.6 1053.3h0M1237.4 526.7h0M1050.6 1184.4h0M1614.7 710.1h0M756.9 968.9h0M879.5 1147.0h0M1226.9 790.1h0M684.1 1011.8h0M1173.7 809.6h0M986.9 981.0h0M1264.3 969.0h0M825.8 846.8h0M1194.1 853.1h0M759.9 1086.9h0M877.7 1194.1h0M992.6 1111.5h0M697.9 1032.8h0M1623.1 722.6h0M902.9 794.1h0M891.6 1088.7h0M938.7 1034.3h0M989.6 990.5h0M867.6 1041.2h0M896.8 717.8h0M832.1 1097.9h0M1484.3 567.5h0M956.3 923.3h0M934.3 1182.6h0M818.6 1139.8h0M1188.3 853.3h0M791.8 1107.7h0M1601.0 679.0h0M1221.9 783.0h0M788.7 909.9h0M728.2 1038.9h0M788.1 1029.9h0M732.8 1055.0h0M1045.8 1021.6h0M1569.2 529.9h0M718.0 1030.5h0M733.1 1039.2h0M1014.4 1064.5h0M943.6 933.5h0M1046.4 1006.2h0M695.3 1076.3h0M907.7 967.0h0M1047.1 800.6h0M785.7 1118.3h0M1241.5 818.0h0M915.9 1195.4h0M1505.7 578.6h0M1239.4 515.9h0M1115.2 1017.5h0M716.8 980.8h0M1597.3 503.7h0M1228.7 828.2h0M1028.4 1107.5h0M1230.9 759.3h0M1112.9 877.1h0M855.0 1131.6h0M1243.0 515.7h0M1252.1 493.4h0M745.2 1083.9h0M908.8 1046.4h0M902.0 1133.7h0M952.5 736.6h0M1188.2 1014.0h0M702.1 1050.8h0M1032.9 1111.0h0M932.5 805.7h0M1050.7 1021.8h0M725.3 1070.3h0M960.2 1219.7h0M1052.1 1180.8h0M952.6 1012.7h0M921.6 1175.7h0M1067.7 846.3h0M1065.8 1177.5h0M875.9 914.9h0M1192.3 334.0h0M1218.1 773.1h0M711.8 943.3h0M760.8 1083.8h0M1764.9 807.3h0M796.0 1086.4h0M949.7 1229.1h0M1220.1 1009.5h0M1006.9 958.1h0M919.5 1202.1h0M689.1 990.7h0M789.5 925.4h0M935.5 912.0h0M1047.6 1112.8h0M1082.4 931.4h0M1525.6 560.2h0M753.5 1080.1h0M773.9 982.9h0M696.4 964.6h0M731.1 912.3h0M1626.9 653.5h0M1149.4 1092.2h0M969.4 807.2h0M783.0 1042.6h0M708.7 937.7h0M973.6 1176.0h0M1204.9 679.9h0M912.9 968.1h0M762.8 1054.0h0M845.9 1029.4h0M933.7 880.0h0M985.2 1134.2h0M718.7 1099.7h0M985.9 925.3h0M884.6 923.1h0M1187.1 830.3h0M949.0 1182.3h0M918.3 977.8h0M957.1 708.8h0M922.0 1128.4h0M1118.3 783.8h0M1048.8 969.0h0M1032.7 826.6h0M754.0 939.9h0M1516.6 554.0h0M731.8 1086.9h0M735.1 1092.5h0M907.3 1069.5h0M984.0 1050.5h0M715.9 1085.2h0M1215.2 754.0h0M1214.3 1044.3h0M1187.0 1005.9h0M1528.2 556.1h0M854.8 1156.0h0M763.8 1024.3h0M760.3 958.6h0M940.8 1103.9h0M1035.3 832.6h0M949.7 1162.4h0M1162.9 1092.0h0M860.1 927.3h0M1212.4 818.9h0M1003.7 895.9h0M1140.8 785.7h0M1160.0 825.5h0M1608.1 691.1h0M1189.7 854.8h0M1200.4 794.0h0M929.8 1087.7h0M940.1 1012.3h0M1159.4 779.1h0M763.9 1081.5h0M1001.8 1128.9h0M1066.6 851.2h0M488.7 221.4h0M1031.6 1206.8h0M904.1 905.5h0M1221.1 674.2h0M948.4 1211.3h0M729.4 1075.1h0M1097.7 778.6h0M991.0 1159.6h0M1162.4 454.1h0M934.2 1116.2h0M1117.4 410.2h0M1058.8 1088.6h0M997.8 966.0h0M1024.0 1111.4h0M1643.8 714.5h0M779.2 1089.7h0M1735.6 828.2h0M1076.7 896.5h0M855.8 743.5h0M956.0 956.6h0M1109.8 897.9h0M1060.8 982.4h0M776.8 906.7h0M762.1 989.4h0M1056.9 1035.5h0M1161.2 465.0h0M821.8 930.8h0M800.5 1113.5h0M1216.7 460.0h0M1607.8 695.6h0M885.1 958.5h0M1005.2 959.5h0M620.7 523.2h0M764.4 1085.4h0M1199.9 406.0h0M1539.4 517.5h0M1160.8 960.8h0M852.2 1039.6h0M1158.7 825.1h0M1182.5 839.1h0M1016.2 959.9h0M940.4 1003.6h0M960.5 1128.1h0M757.1 934.0h0M742.9 1050.4h0M1036.8 927.3h0M1134.7 1020.6h0M1177.0 1073.6h0M1193.3 820.7h0M1252.5 963.9h0M833.8 822.8h0M1211.4 1006.4h0M1174.7 412.0h0M1241.8 764.8h0M940.3 950.4h0M725.7 1086.1h0M711.7 1091.3h0M1098.1 904.3h0M634.7 562.4h0M1571.0 516.0h0M1042.0 1013.3h0M1208.2 829.7h0M1116.5 770.8h0M955.2 883.1h0M661.4 564.7h0M701.2 1050.9h0M860.9 1161.9h0M1238.3 542.7h0M1510.6 509.9h0M1119.5 887.9h0M1226.7 706.7h0M942.5 1200.4h0M937.3 901.0h0M840.3 1088.0h0M1209.5 839.9h0M800.8 1066.4h0M763.2 1081.1h0M952.4 998.4h0M1001.9 764.3h0M1207.4 838.8h0M967.1 1051.8h0M812.1 910.8h0M1083.1 880.7h0M951.9 809.1h0M981.7 849.2h0M1174.1 439.2h0M1191.3 733.4h0M881.7 1066.8h0M1733.4 827.4h0M975.2 991.1h0M744.3 1083.6h0M727.9 1108.1h0M977.4 985.0h0M1058.5 845.1h0M1240.7 518.2h0M1500.8 516.9h0M807.9 1124.8h0M881.1 1013.5h0M1180.0 1013.8h0M723.7 947.7h0M862.8 1147.2h0M1235.0 668.3h0M1210.9 761.1h0M923.5 1130.9h0M1224.4 783.1h0M747.7 1076.0h0M1168.5 943.0h0M1202.6 976.1h0M1208.9 777.8h0M723.2 1082.0h0M1214.1 1009.9h0M910.9 1228.4h0M1136.3 973.5h0M1254.1 713.6h0M1092.6 909.5h0M816.4 1072.2h0M1162.3 736.0h0M834.1 993.0h0M1145.5 986.5h0M790.1 1016.2h0M738.9 997.6h0M869.7 1160.8h0M770.7 1111.4h0M1070.9 808.8h0M1117.1 812.3h0M1153.1 1008.6h0M762.7 898.5h0M1487.0 528.0h0M753.7 1009.5h0M932.4 1084.8h0M898.3 1201.2h0M737.1 1098.8h0M1035.9 1042.0h0M965.9 823.8h0M1136.7 758.6h0M896.6 1143.0h0M995.5 1050.8h0M740.3 936.9h0M983.1 1176.3h0M1085.6 956.4h0M1497.2 522.0h0M776.6 935.8h0M1116.4 862.4h0M1083.7 924.3h0M1538.2 547.7h0M1022.7 1205.7h0M746.2 1004.8h0M639.3 514.3h0M1176.1 1086.2h0M848.0 1131.4h0M1510.6 560.1h0M767.5 898.2h0M911.2 982.4h0M707.8 970.3h0M1193.3 326.0h0M845.0 1118.6h0M1490.5 520.6h0M1207.2 443.2h0M997.1 1126.7h0M961.4 1160.4h0M1255.2 729.0h0M901.6 826.7h0M1082.3 946.8h0M887.3 1207.5h0M916.5 907.8h0M1059.2 1101.3h0M1071.0 922.2h0M929.0 1079.3h0M1116.8 1034.5h0M932.3 1161.8h0M952.5 1055.4h0M1067.0 1082.8h0M1180.9 806.8h0M1019.9 1132.7h0M1711.4 832.5h0M1052.4 998.2h0M1019.6 1161.8h0M971.3 988.5h0M995.4 1097.0h0M1144.5 1107.3h0M853.5 1094.7h0M920.7 1161.9h0M1020.4 1135.0h0M785.7 1010.6h0M951.3 1009.5h0M811.2 794.1h0M759.0 1026.7h0M774.8 958.2h0M1149.9 993.9h0M923.9 1202.2h0M1267.3 416.7h0M747.0 1093.9h0M1126.8 796.2h0M851.4 802.5h0M859.6 796.6h0M920.6 1080.3h0M845.1 759.2h0M716.6 915.5h0M1548.3 541.9h0M1154.1 385.4h0M985.0 988.3h0M1205.4 943.9h0M1037.7 1121.6h0M1183.0 852.0h0M1026.0 947.1h0M1019.0 1190.9h0M772.2 1016.3h0M733.0 945.7h0M949.1 732.3h0M873.4 810.9h0M1016.4 1128.6h0M744.7 1010.5h0M812.4 782.4h0M1021.8 1206.8h0M1146.3 787.9h0M767.5 1079.7h0M1120.3 886.4h0M1001.0 1161.3h0M814.1 893.9h0M779.7 1080.1h0M754.4 998.0h0M1118.9 797.0h0M762.9 1032.4h0M1201.7 725.8h0M1154.7 1005.7h0M710.3 976.1h0M1217.6 769.4h0M1125.9 880.7h0M1130.4 1105.3h0M1242.6 761.9h0M1118.7 884.1h0M1625.0 661.7h0M711.8 1048.6h0M902.1 806.0h0M1127.8 761.6h0M1108.7 801.3h0M881.8 1104.8h0M1069.3 1001.2h0M1202.1 989.7h0M933.7 823.9h0M889.0 1206.3h0M749.0 1103.8h0M710.9 949.5h0M594.6 535.9h0M1134.6 1103.9h0M1163.5 794.6h0M1135.1 764.7h0M712.1 1022.2h0M1244.1 484.0h0M1074.5 926.6h0M1067.4 868.2h0M765.1 1109.7h0M1064.4 982.1h0M1105.6 1137.7h0M1214.1 796.1h0M703.6 1077.1h0M1202.7 1056.6h0M755.2 1073.8h0M936.9 1212.1h0M795.7 886.7h0M1222.9 787.1h0M798.5 1094.9h0M1207.8 1062.2h0M1034.8 829.6h0M1155.5 388.3h0M1013.5 1061.5h0M913.0 698.0h0M909.0 1102.2h0M1192.5 342.1h0M901.7 1186.9h0M1111.5 879.9h0M852.6 850.3h0M891.3 1145.8h0M1569.1 513.1h0M782.8 929.0h0M1157.6 451.5h0M752.4 949.3h0M869.7 1127.1h0M1250.8 702.9h0M1179.6 759.1h0M1167.8 952.6h0M715.6 1039.0h0M895.1 1152.8h0M1134.7 792.1h0M1172.6 1084.7h0M947.3 1219.8h0M1041.6 1198.3h0M1158.9 387.5h0M744.7 1063.1h0M788.4 1032.6h0M1085.0 1014.0h0M719.0 1024.8h0M1065.7 1042.1h0M968.1 1228.8h0M1126.0 334.1h0M1007.5 754.1h0M753.0 899.3h0M746.2 883.6h0M894.5 1179.1h0M950.1 1136.8h0M1179.3 833.8h0M1079.0 955.4h0M994.2 730.9h0M1638.3 712.0h0M849.2 1043.2h0M1018.5 972.6h0M1130.3 1017.9h0M1638.4 710.2h0M961.6 1153.7h0M1039.2 1049.2h0M898.9 783.6h0M708.8 1019.2h0M1018.7 1154.4h0M999.0 950.3h0M741.8 928.5h0M742.9 975.2h0M862.8 1069.1h0M994.2 1010.3h0M830.3 1154.2h0M1000.7 910.7h0M648.8 567.6h0M1106.4 1133.9h0M1233.9 807.7h0M1598.2 640.6h0M757.3 953.5h0M1172.6 1084.9h0M699.7 1094.2h0M1042.3 964.7h0M748.1 1067.3h0M1206.8 1038.7h0M1499.7 549.3h0M1179.4 687.5h0M1187.4 831.6h0M1703.9 830.6h0M821.0 1047.8h0M897.2 1143.7h0M1580.1 511.3h0M951.0 991.7h0M1210.9 810.8h0M827.3 1153.6h0M815.6 896.9h0M1049.2 1140.0h0M1187.1 800.7h0M880.8 1164.0h0M1200.0 1058.0h0M1131.7 769.8h0M1189.4 960.6h0M817.6 1139.8h0M941.2 1105.2h0M1222.0 767.8h0M1027.8 1116.6h0M906.1 1065.2h0M1765.1 808.5h0M1100.9 915.8h0M932.0 979.2h0M1228.2 941.6h0M1201.5 286.2h0M910.2 1216.0h0M1148.6 372.7h0M1105.4 417.7h0M922.4 1186.0h0M777.6 939.8h0M915.7 893.3h0M1065.6 842.0h0M1057.1 1020.3h0M1212.5 789.8h0M948.7 705.1h0M1156.1 983.5h0M961.1 1108.8h0M1024.5 1207.1h0M881.7 1209.8h0M969.4 820.6h0M1195.2 967.0h0M1059.9 930.5h0M1019.2 1016.7h0M692.1 1054.0h0M1106.4 1101.6h0M1158.2 992.6h0M723.9 1045.1h0M1632.4 735.7h0M867.9 1158.2h0M1184.6 667.4h0M758.9 999.2h0M1217.9 935.0h0M1133.8 838.3h0M1216.1 407.8h0M1173.1 1036.0h0M1064.2 1058.9h0M895.4 944.7h0M740.6 1082.8h0M955.8 925.1h0M881.3 1199.7h0M759.4 967.1h0M1035.8 1105.0h0M1228.7 943.9h0M766.0 1110.8h0M1231.8 763.3h0M1250.6 810.6h0M1637.1 719.8h0M1096.2 781.9h0M1030.8 1085.2h0M1507.6 585.2h0M932.5 937.5h0M1498.2 592.0h0M1019.4 822.8h0M862.4 803.2h0M724.8 956.1h0M1031.5 1009.9h0M1169.0 812.1h0M982.5 1051.2h0M1003.6 747.6h0M1151.1 995.3h0M1148.1 1084.4h0M752.4 934.1h0M733.5 971.1h0M1209.6 796.7h0M1181.2 381.1h0M946.9 1172.9h0M1136.8 777.0h0M1021.1 964.0h0M1019.9 1219.6h0M1220.6 432.0h0M914.7 1020.6h0M1178.8 748.7h0M1010.0 1096.5h0M1014.6 1059.7h0M839.0 1074.8h0M816.0 878.7h0M933.2 1219.9h0M863.1 1134.2h0M1200.6 832.6h0M988.4 1142.8h0M1099.5 1146.6h0M808.2 1138.8h0M1731.2 830.0h0M748.0 1076.6h0M856.5 1012.0h0M842.0 858.5h0M928.8 1164.2h0M957.9 983.5h0M1286.6 329.2h0M895.7 1081.4h0M862.9 1010.5h0M993.3 1136.4h0M799.9 985.2h0M730.5 980.8h0M973.1 985.9h0M1062.1 1052.7h0M888.9 829.7h0M1032.5 859.8h0M769.0 1105.7h0M903.5 1155.2h0M730.5 1043.2h0M753.0 1108.7h0M1133.6 775.2h0M1732.5 828.4h0M1640.5 707.0h0M1001.3 1137.0h0M767.0 1037.7h0M937.0 1081.1h0M1267.4 328.0h0M787.5 956.6h0M1241.8 545.8h0M628.5 555.4h0M1172.1 425.8h0M795.1 914.2h0M708.0 930.5h0M972.2 1154.1h0M1028.0 1145.9h0M620.6 516.3h0M749.0 1086.3h0M690.0 1038.0h0M1098.2 1101.1h0M1149.0 787.4h0M982.1 947.7h0M1113.9 767.9h0M1042.7 997.8h0M707.9 1056.1h0M691.9 1056.3h0M851.3 1020.2h0M956.5 1166.1h0M732.8 991.3h0M1008.5 976.8h0M1724.9 847.3h0M1211.9 964.3h0M734.4 1013.1h0M996.0 913.2h0M1040.1 1196.1h0M824.8 902.9h0M1240.6 762.1h0M912.9 878.3h0M624.0 518.8h0M1504.6 569.7h0M872.1 779.5h0M962.8 736.9h0M702.7 996.7h0M1197.5 792.1h0M699.8 1047.5h0M1239.2 687.8h0M983.3 1034.1h0M855.4 1036.7h0M968.4 1175.9h0M859.8 1025.9h0M731.4 904.3h0M1168.6 472.7h0M990.0 1157.9h0M946.1 1158.2h0M1168.3 426.7h0M900.9 1217.0h0M844.1 1049.1h0M1102.9 799.3h0M805.0 830.8h0M724.6 923.1h0M1035.3 919.7h0M1504.1 589.9h0M816.2 830.1h0M1031.0 1143.9h0M1515.8 513.9h0M1649.8 718.9h0M1024.2 1205.7h0M735.5 937.4h0M1115.2 1134.7h0M1057.7 1056.8h0M714.5 1090.5h0M935.0 1120.9h0M1623.3 721.9h0M1106.7 793.8h0M918.3 1060.4h0M793.9 1032.1h0M1086.9 943.5h0M1172.0 1036.4h0M1039.9 1179.3h0M785.1 1044.7h0M1586.4 634.0h0M791.1 889.1h0M1212.5 715.8h0M891.2 993.7h0M893.4 1169.6h0M952.7 808.7h0M866.2 1128.2h0M909.9 1074.8h0M1223.4 792.9h0M1495.0 520.9h0M1160.0 1055.4h0M1123.6 1116.3h0M981.1 1128.2h0M1083.4 919.4h0M1175.0 470.9h0M701.3 1033.6h0M700.8 1087.6h0M713.1 970.9h0M752.1 1077.5h0M1627.9 700.0h0M1015.6 1143.5h0M1088.5 918.7h0M1109.6 416.1h0M924.2 1212.5h0M640.7 509.8h0M967.0 748.4h0M906.5 824.0h0M947.3 1220.8h0M740.4 1037.1h0M1501.0 585.7h0M982.6 1022.0h0M961.2 1069.7h0M1244.2 526.9h0M718.6 992.2h0M935.4 994.9h0M1498.7 593.3h0M707.5 932.7h0M1193.6 272.1h0M1025.8 971.9h0M1041.8 1118.6h0M788.6 917.4h0M904.6 1171.5h0M839.5 1053.4h0M1064.8 1079.3h0M848.0 1033.9h0M697.2 1023.6h0M1002.8 1130.5h0M1246.5 962.5h0M1050.5 924.8h0M780.3 1070.3h0M922.3 1221.7h0M896.5 1043.3h0M1763.5 809.2h0M1167.7 955.9h0M906.6 976.3h0M1048.2 1185.0h0M1045.7 867.1h0M957.1 1059.5h0M919.1 1084.7h0M906.5 1033.6h0M927.3 1012.8h0M936.8 1188.2h0M1029.2 965.9h0M786.5 904.8h0M1258.7 500.7h0M961.1 729.0h0M886.0 809.0h0M1204.8 851.2h0M755.2 1079.4h0M1107.7 1067.2h0M1520.0 622.4h0M761.2 1034.1h0M1155.8 747.6h0M834.4 1055.7h0M817.6 851.0h0M1130.0 766.3h0M1116.3 888.0h0M1182.4 950.5h0M1207.5 678.1h0M1171.7 1027.1h0M1609.7 704.0h0M831.0 1148.9h0M1086.5 908.0h0M1257.3 341.9h0M1255.4 704.7h0M945.7 1169.5h0M986.8 1065.4h0M1140.6 824.1h0M988.5 1000.7h0M883.1 1198.7h0M778.7 908.8h0M1216.4 918.4h0M935.5 1108.7h0M799.6 924.8h0M1222.5 980.8h0M1626.5 711.7h0M934.4 1020.5h0M922.1 975.1h0M1140.4 1112.4h0M965.6 1208.6h0M1523.2 556.4h0M954.8 1114.8h0M1596.0 678.0h0M595.6 535.6h0M1050.8 1132.5h0M824.3 1153.3h0M948.5 1233.8h0M1174.7 420.0h0M1176.2 473.3h0M813.8 851.0h0M1114.2 1133.6h0M772.5 1038.7h0M750.5 988.9h0M1501.9 592.6h0M1080.8 1142.5h0M1217.7 441.6h0M848.7 1112.3h0M692.3 993.4h0M838.7 1135.3h0M776.9 1110.5h0M1698.6 824.1h0M1006.8 1064.0h0M1513.3 549.6h0M638.5 512.9h0M1268.4 469.3h0M1499.3 584.0h0M914.1 977.2h0M1040.4 1030.3h0M956.6 886.7h0M738.4 940.7h0M1069.5 849.4h0M1127.3 1074.9h0M757.2 1084.4h0M1197.1 401.7h0M629.9 505.5h0M1017.2 1020.1h0M1096.5 419.1h0M1178.3 959.9h0M1036.7 802.2h0M781.3 907.1h0M1034.1 1034.6h0M1213.4 1031.3h0M1491.7 526.0h0M1011.9 1183.7h0M838.4 826.3h0M984.8 1077.9h0M1118.6 411.1h0M862.7 744.9h0M859.2 1128.2h0M958.3 1150.0h0M752.9 979.8h0M912.4 1106.7h0M1091.0 966.0h0M1168.8 1061.9h0M1032.9 1014.9h0M1035.8 1050.9h0M739.0 1039.7h0M758.6 1080.0h0M1032.6 1029.6h0M1538.1 519.7h0M1587.5 513.7h0M906.7 929.8h0M901.2 854.4h0M757.6 1084.1h0M891.4 1019.9h0M1060.2 879.2h0M860.8 1064.0h0M1219.1 673.4h0M1173.6 736.3h0M873.0 1034.3h0M1164.4 1061.1h0M1075.2 930.3h0M926.2 1166.8h0M1221.1 752.9h0M930.4 944.6h0M850.9 1040.4h0M757.6 950.6h0M871.9 1173.5h0M1103.3 918.3h0M898.1 1150.2h0M946.9 1022.4h0M1176.9 815.7h0M945.7 818.2h0M1152.1 1103.0h0M969.6 1066.6h0M950.7 1231.0h0M753.2 984.4h0M697.0 977.7h0M1008.3 780.8h0M919.4 1199.2h0M893.0 1156.9h0M1177.3 692.3h0M971.9 1219.2h0M850.3 828.9h0M1167.5 425.4h0M1499.0 514.0h0M647.7 507.5h0M906.6 1205.0h0M1006.7 788.3h0M1051.7 806.6h0M1208.6 798.2h0M907.2 1060.1h0M1234.0 550.7h0M756.2 1010.4h0M1492.4 509.6h0M1157.9 810.1h0M1238.7 564.0h0M901.8 1102.8h0M734.3 1076.3h0M1021.1 1127.9h0M946.2 1026.6h0M829.0 1059.8h0M859.5 830.5h0M973.1 1040.4h0M895.1 987.5h0M1213.1 770.5h0M983.9 796.8h0M936.6 1077.6h0M941.8 923.8h0M1175.9 813.9h0M936.9 1163.0h0M819.2 919.6h0M744.0 1103.8h0M1238.0 782.8h0M834.3 994.3h0M660.8 559.7h0M1631.8 722.2h0M1621.4 645.8h0M700.2 955.8h0M892.5 1022.0h0M699.2 1046.9h0M992.5 810.2h0M1106.8 1053.2h0M905.8 1084.5h0M825.3 904.2h0M1175.1 693.8h0M983.9 970.0h0M1208.3 790.9h0M1251.7 735.6h0M1253.1 714.8h0M1252.8 808.0h0M1523.4 556.4h0M822.1 936.1h0M989.7 947.3h0M1584.1 634.7h0M1167.3 841.4h0M615.7 536.3h0M1016.0 936.3h0M1049.8 1188.3h0M941.4 1112.0h0M711.8 1065.5h0M886.4 1120.9h0M1063.1 897.1h0M835.0 1089.8h0M913.7 1148.0h0M1107.7 805.6h0M1173.3 732.7h0M935.6 1223.9h0M1550.0 524.3h0M923.8 988.2h0M837.2 1147.2h0M1563.6 518.3h0M1215.0 677.6h0M1068.8 1157.1h0M1082.2 847.5h0M884.3 944.4h0M1139.3 380.4h0M1252.7 716.2h0M925.1 1067.3h0M941.1 999.8h0M856.0 1155.9h0M805.3 1086.8h0M974.0 1040.2h0M1058.8 952.5h0M1162.0 334.7h0M698.7 995.0h0M1211.1 845.0h0M1052.3 1180.7h0M1156.0 1092.3h0M1654.2 717.3h0M812.2 827.3h0M798.4 990.5h0M788.6 965.9h0M859.1 1041.0h0M769.6 894.7h0M951.5 820.4h0M1627.6 729.3h0M1527.7 560.0h0M770.7 1108.0h0M743.9 1092.8h0M1213.6 1040.7h0M1060.3 862.2h0M1220.6 1001.8h0M1236.0 403.3h0M937.2 995.5h0M776.8 1020.4h0M1093.6 1149.0h0M950.4 705.7h0M1648.3 732.1h0M891.5 934.3h0M929.4 1076.1h0M1075.2 889.7h0M1006.1 1161.5h0M1150.3 805.0h0M1199.7 289.3h0M866.1 807.0h0M1252.3 973.3h0M627.6 514.7h0M1146.3 373.7h0M902.6 1099.3h0M765.6 1085.4h0M1617.1 691.8h0M1513.4 516.9h0M858.3 1051.2h0M1233.7 755.6h0M1585.6 699.7h0M1702.3 825.0h0M970.4 965.3h0M847.5 844.5h0M1586.1 700.2h0M936.7 951.4h0M295.1 983.7h0M1003.4 1022.5h0M1186.6 952.3h0M914.2 710.8h0M930.4 958.4h0M1511.5 546.7h0M718.2 986.4h0M959.9 1184.8h0M754.4 1005.7h0M1249.5 733.5h0M1604.8 705.1h0M1702.2 827.1h0M953.0 1174.7h0M990.6 922.3h0M1601.4 638.4h0M796.3 978.1h0M1155.7 1101.9h0M913.0 1049.9h0M791.6 923.0h0M1213.9 1058.7h0M1200.1 1053.2h0M829.7 1055.4h0M712.3 1021.6h0M858.3 1154.8h0M808.5 924.6h0M1702.1 832.4h0M1103.9 799.2h0M940.6 1046.4h0M630.0 571.1h0M806.4 922.4h0M1172.2 742.4h0" stroke="#000004"/>
<path d="M1205.7 441.3h0M998.8 1171.8h0M1300.2 375.9h0M986.2 799.1h0M1056.6 1088.2h0M1008.9 1173.9h0M1000.9 822.1h0M1006.0 859.6h0M815.8 845.9h0M1161.0 1065.0h0M945.3 724.4h0M1061.4 824.7h0M1025.0 825.5h0M1076.8 850.2h0M993.6 1168.1h0M1277.9 351.6h0M937.2 1091.5h0M939.4 1128.0h0M804.7 802.3h0M1170.1 456.0h0M1257.1 494.0h0M1547.9 520.9h0M1247.0 339.4h0M1024.8 1208.7h0M1251.5 324.4h0M1052.6 970.0h0M1015.1 1147.8h0M1171.9 943.6h0M1107.4 902.6h0M1268.5 389.4h0M1037.8 841.3h0" stroke="#140E36"/>
<path d="M1073.0 833.0h0M1138.6 313.4h0M1266.7 331.8h0M959.1 1066.1h0M700.4 1027.8h0M1068.0 878.8h0M904.6 779.9h0M1050.5 864.4h0M856.2 804.6h0M821.4 811.0h0M1055.0 1128.9h0M965.2 800.4h0M902.1 830.0h0M1302.7 355.8h0M1211.4 1057.4h0M1039.1 1206.2h0M1070.2 948.0h0M1214.9 1020.7h0M837.5 808.7h0M1155.0 1085.8h0M1250.1 959.9h0M919.8 896.6h0M1595.4 501.6h0M887.2 796.8h0M1216.2 1057.0h0M1025.3 1082.3h0M932.1 719.7h0M1071.2 807.6h0M1019.7 1127.9h0M1098.2 950.9h0M1201.8 1061.8h0M981.7 821.6h0" stroke="#251255"/>
<path d="M1277.1 387.0h0M1040.1 859.1h0M900.7 730.9h0M1040.2 890.4h0M1211.5 1066.5h0M1021.0 1158.5h0M1217.2 372.8h0M1079.4 857.2h0M1037.1 816.0h0M1285.7 350.7h0M1569.3 516.7h0M944.1 740.0h0M1041.5 884.1h0M1037.1 834.0h0M1172.0 954.6h0M1235.5 489.6h0M1596.5 505.4h0M1086.1 931.5h0M1037.8 1185.0h0M893.2 801.3h0M1045.1 1099.4h0M1162.4 834.0h0M1065.2 916.0h0M1048.5 940.4h0M909.3 1164.6h0M1014.4 1147.7h0M1049.1 944.5h0M873.9 736.6h0M968.1 1031.5h0M1164.8 448.2h0M1059.3 1174.7h0M1062.5 1178.4h0M1255.2 362.0h0M937.6 732.3h0M1201.0 281.2h0M1078.0 817.0h0M1071.4 844.3h0M1198.2 844.8h0M957.9 795.2h0M1204.0 1065.5h0M1064.3 908.4h0M857.8 849.3h0M892.0 819.9h0M1059.9 846.9h0M901.4 882.5h0M862.9 886.7h0M993.5 1176.7h0M705.5 1039.4h0M1016.8 1133.8h0M759.4 942.0h0M1169.6 474.4h0M897.3 1096.0h0M963.1 846.7h0M1214.9 441.3h0M1048.5 900.0h0M1002.2 1125.6h0M894.9 877.6h0M882.1 1085.6h0M1279.0 332.9h0M1054.6 962.5h0M1045.6 817.2h0M982.1 886.2h0M1202.0 1046.2h0M1153.7 375.7h0M1078.0 863.4h0M939.5 1109.4h0" stroke="#3B0F70"/>
<path d="M1196.2 389.2h0M1203.3 408.3h0M1046.8 819.1h0M1026.7 874.2h0M913.0 714.5h0M959.8 798.3h0M847.6 816.2h0M859.7 923.9h0M822.9 884.7h0M973.9 1000.6h0M857.1 1158.9h0M880.0 729.3h0M1240.0 396.5h0M1104.8 415.3h0M859.8 855.4h0M933.9 775.8h0M1298.6 360.0h0M1232.2 1035.6h0M1168.1 357.6h0M1067.1 975.1h0M1038.6 925.6h0M1187.7 957.7h0M1060.7 957.0h0M984.8 1210.2h0M1050.9 882.7h0M940.0 807.5h0M881.2 815.2h0M977.9 1007.7h0M1276.4 356.6h0M982.2 1046.7h0M949.1 809.6h0M707.1 1005.1h0M1076.8 969.6h0M900.4 823.0h0M998.4 1073.2h0M964.1 1045.7h0M969.0 889.6h0M1151.5 379.2h0M809.7 842.1h0M1519.8 565.4h0M1150.7 334.5h0M1203.8 352.9h0M952.1 805.3h0M1013.3 1213.0h0M883.8 940.2h0M1040.7 798.7h0M955.3 1178.2h0M1016.8 1132.7h0M1152.7 384.0h0M977.0 791.7h0M1207.8 1021.9h0M1210.5 367.9h0M1065.9 824.1h0M1067.5 838.1h0M930.9 708.5h0M856.8 832.7h0M1222.1 409.2h0M924.2 896.6h0M1163.1 474.8h0M1185.8 343.3h0M880.7 719.2h0M1168.6 368.6h0M1286.9 389.5h0M1061.1 811.8h0M971.2 997.2h0M1167.6 456.9h0M936.0 1066.3h0M1234.0 488.9h0M1192.5 324.7h0M1206.8 327.7h0M966.9 794.4h0M1074.5 1013.5h0M1241.0 328.1h0M1283.4 338.8h0M767.6 979.7h0M941.6 851.4h0M1196.6 1061.5h0M1069.4 817.9h0M984.9 1071.2h0M866.5 882.7h0M1162.4 357.0h0M983.4 724.4h0M768.8 1083.5h0M760.2 1095.1h0" stroke="#51127C"/>
<path d="M1064.2 917.9h0M1098.9 1140.6h0M1276.8 319.5h0M1017.2 1020.8h0M854.2 852.1h0M1232.8 497.0h0M825.1 851.1h0M1283.9 376.1h0M884.6 831.5h0M978.2 824.4h0M834.2 839.7h0M1146.0 333.5h0M1302.6 348.3h0M880.3 882.3h0M871.7 793.4h0M950.1 852.0h0M1059.5 933.7h0M1039.3 913.6h0M1017.6 1205.6h0M975.0 751.6h0M1515.4 568.6h0M962.5 907.1h0M822.8 853.3h0M952.0 937.7h0M822.2 813.4h0M860.9 749.5h0M919.3 913.3h0M1270.6 350.7h0M1128.8 325.5h0M1042.5 862.0h0M1178.5 1022.8h0M852.4 818.2h0M1240.2 946.8h0M924.2 700.1h0M1008.4 899.8h0M1100.0 885.4h0M1057.8 959.8h0M1237.0 387.5h0M1204.4 422.7h0M1337.5 653.7h0M951.1 845.6h0M1239.5 536.0h0M977.1 797.6h0M1154.5 389.3h0M948.4 722.4h0M1083.7 878.9h0M1238.4 530.0h0M1581.1 511.7h0M822.2 792.0h0M1080.0 959.5h0M1152.1 313.2h0M926.2 1204.7h0M943.5 900.9h0M904.5 834.6h0M780.0 958.7h0M1227.0 1025.1h0M1049.8 815.0h0M936.7 1082.7h0M1046.8 1096.3h0M866.9 817.3h0M1118.8 867.2h0M1249.8 495.1h0M1241.0 541.0h0M903.6 820.9h0M987.9 823.4h0M1012.3 815.0h0M1278.7 347.0h0M1134.7 330.0h0M1229.4 484.5h0M1157.7 360.1h0M826.2 840.6h0M1021.8 817.9h0M928.3 695.2h0M1076.2 819.4h0M1570.9 526.1h0M1152.2 363.3h0M982.2 791.6h0M1272.0 466.1h0M901.7 892.3h0M978.8 1110.8h0M837.9 829.8h0M817.6 978.7h0M1001.6 866.4h0M953.7 805.7h0M969.0 1034.6h0M1007.1 1159.6h0M848.1 746.9h0M976.6 797.1h0M956.2 797.4h0M1242.9 516.1h0M1213.2 333.5h0M786.5 1070.7h0M1591.8 507.4h0" stroke="#641A80"/>
<path d="M1241.4 383.9h0M954.1 1186.2h0M884.4 742.1h0M1240.1 314.5h0M1275.1 364.4h0M977.3 1042.3h0M1282.8 380.0h0M1267.6 334.0h0M862.4 830.2h0M902.7 880.8h0M944.6 903.6h0M984.1 810.1h0M1246.9 377.3h0M1193.3 790.9h0M1599.4 506.7h0M1224.7 490.6h0M862.5 817.5h0M1170.8 1018.6h0M917.3 716.0h0M938.3 775.9h0M768.3 908.5h0M877.1 813.9h0M1005.2 802.9h0M1235.9 498.8h0M1261.3 320.4h0M810.0 813.2h0M1241.9 539.5h0M832.8 1001.4h0M842.5 808.9h0M862.9 915.3h0M1156.0 356.8h0M1709.8 894.7h0M1185.3 367.5h0M808.2 798.4h0M1277.0 355.0h0M1237.9 492.3h0M952.9 819.5h0M878.7 806.1h0M1177.5 1012.5h0M1210.7 1059.7h0M1487.8 533.7h0M1291.5 378.8h0M880.6 718.9h0M894.3 808.8h0M870.5 834.1h0M1052.1 1094.0h0M1265.0 336.1h0M829.3 836.0h0M711.2 1025.9h0M917.1 701.4h0M926.5 713.4h0M936.3 894.5h0M1209.0 340.8h0M1175.1 1023.5h0M1225.1 490.2h0M1169.1 387.1h0M900.6 804.1h0M1295.1 341.4h0M1012.8 1090.3h0M1252.1 318.4h0M1005.1 928.8h0M1138.3 308.9h0M1255.7 315.1h0M939.5 701.3h0M710.7 1105.8h0M905.8 800.4h0M1135.8 339.6h0M875.7 725.3h0M1170.8 472.2h0M1157.9 359.5h0M1011.4 1151.8h0M1172.1 1080.0h0M960.7 1001.7h0M870.4 821.8h0M1238.7 502.9h0M1012.9 830.9h0M992.1 889.9h0M897.8 908.7h0M1298.3 370.5h0M993.9 810.2h0M1264.0 347.9h0M938.8 908.0h0M1289.8 328.3h0M1011.7 1018.3h0M1052.0 862.5h0M1278.5 395.2h0M1252.0 813.0h0M1166.9 359.3h0" stroke="#782281"/>
<path d="M942.4 727.0h0M979.1 729.2h0M701.8 998.6h0M1201.1 443.2h0M1044.0 1192.8h0M1099.2 913.0h0M1175.1 1000.8h0M832.9 832.4h0M1160.0 449.1h0M803.0 924.1h0M889.5 724.9h0M1048.4 1109.7h0M1205.7 1050.1h0M901.7 874.4h0M753.6 930.3h0M871.7 749.5h0M797.9 1090.9h0M1283.1 382.0h0M973.6 794.8h0M885.6 822.2h0M748.3 921.1h0M903.8 1060.7h0M971.9 823.3h0M1229.5 754.2h0M828.9 857.0h0M844.5 798.2h0M864.2 1123.0h0M1279.8 398.5h0M887.9 722.6h0M988.5 901.0h0M1238.2 504.6h0M817.5 856.1h0M1293.1 330.1h0M979.9 816.8h0M1275.0 470.1h0M757.6 1044.3h0M831.9 828.0h0M870.1 839.2h0M1248.9 314.1h0M1245.5 376.1h0M835.3 832.2h0M1184.3 364.8h0M981.6 745.3h0M853.7 816.7h0M1715.7 908.9h0M1234.4 544.3h0M1717.6 907.3h0M1206.8 823.8h0M1198.9 1050.4h0M1193.2 329.9h0M1247.7 346.5h0M1236.2 346.5h0M883.9 835.4h0M871.7 886.1h0M1070.3 1161.8h0M1286.9 470.7h0M953.7 954.9h0M1289.3 366.1h0M724.7 1094.7h0M779.6 1020.2h0M988.8 952.5h0M1257.9 332.3h0M922.1 714.4h0M888.3 930.1h0M1241.7 512.9h0M1289.5 376.3h0M1276.4 336.7h0M984.9 731.8h0M894.8 712.7h0M1254.6 496.0h0M913.0 712.7h0M887.4 765.4h0M1252.7 359.0h0M1156.0 320.3h0M835.2 820.7h0M1258.9 329.2h0M1713.8 908.1h0M1008.3 1091.9h0M1128.0 975.9h0M711.3 1012.9h0M1135.9 337.6h0M1226.9 1020.0h0M1288.9 331.1h0M1276.6 319.2h0M884.4 812.0h0M1016.7 813.3h0M1228.7 393.0h0M982.7 736.0h0M1138.3 328.5h0M814.2 836.5h0M744.9 932.5h0M1276.1 336.6h0M1140.2 320.6h0M818.0 793.5h0M1517.7 571.3h0" stroke="#8C2981"/>
<path d="M1274.0 383.5h0M863.7 751.2h0M937.3 907.3h0M765.5 942.5h0M751.5 1037.3h0M961.2 727.7h0M1234.2 313.2h0M1244.0 317.8h0M1225.2 311.5h0M909.9 898.5h0M1065.9 1082.8h0M1214.6 331.8h0M1240.6 387.9h0M1006.3 809.4h0M1259.3 325.3h0M1244.7 506.1h0M838.9 861.8h0M860.5 737.0h0M1146.8 739.6h0M1245.8 383.6h0M1302.0 364.5h0M1216.7 441.5h0M817.7 835.9h0M1267.7 338.5h0M916.4 693.9h0M992.4 1213.8h0M1224.3 313.7h0M1264.2 383.9h0M1272.7 462.3h0M1284.6 338.0h0M1131.5 337.6h0M1272.6 334.8h0M1152.2 462.2h0M1229.2 759.3h0M901.6 807.0h0M933.4 706.8h0M978.5 885.3h0M1248.3 387.7h0M1249.3 316.7h0M1716.0 899.0h0M1103.0 1139.4h0M875.6 820.4h0M1263.8 363.8h0M1051.1 1163.8h0M802.2 850.4h0M950.7 808.8h0M1231.8 315.8h0M875.0 972.7h0M981.3 801.0h0M892.5 961.4h0M882.4 816.3h0" stroke="#A1307E"/>
<path d="M876.8 726.1h0M992.9 1078.9h0M1269.8 339.1h0M888.3 808.0h0M834.2 797.9h0M914.7 877.1h0M1202.6 834.9h0M1269.1 365.1h0M1223.9 768.7h0M1009.5 853.4h0M1275.0 460.9h0M742.6 1022.3h0M1294.3 392.4h0M1288.1 334.1h0M1187.1 369.1h0M849.0 818.2h0M1229.4 490.3h0M1238.4 809.8h0M917.7 1026.0h0M865.9 810.9h0M1222.8 347.7h0M1241.9 373.1h0M1128.6 324.3h0M1020.1 874.9h0M1024.2 823.3h0M941.7 695.7h0M833.9 846.3h0M865.9 810.7h0M1225.8 312.5h0M1214.2 439.0h0M1120.7 318.0h0M1238.4 510.0h0M1273.8 382.1h0M1278.7 475.7h0M1288.1 460.3h0M1281.9 383.4h0M874.1 724.2h0" stroke="#B73779"/>
<path d="M1044.4 1065.8h0M856.6 853.4h0M1177.9 834.5h0M1238.1 383.2h0M1273.0 369.9h0M1211.7 411.3h0M1217.1 385.3h0M1252.2 480.1h0M861.1 829.7h0M1266.0 462.8h0M1143.5 319.6h0M1159.6 383.8h0M862.3 855.3h0M1232.4 318.0h0M860.4 856.5h0M1270.8 344.1h0M855.7 1024.7h0M960.0 871.0h0M1713.5 897.3h0M1245.6 308.8h0" stroke="#CA3E72"/>
<path d="M853.4 851.3h0M1286.2 342.0h0M857.8 847.6h0M1287.0 473.0h0M894.7 719.9h0M1263.7 487.9h0M1266.6 323.9h0M1246.6 487.3h0M1255.8 321.7h0" stroke="#DE4968"/>
<path d="M1277.8 474.1h0M1186.7 673.6h0M1294.0 474.0h0M1157.4 319.3h0M842.4 810.4h0M766.8 938.6h0M1268.4 474.3h0M1275.6 398.1h0M1715.5 894.8h0M1290.8 456.0h0M1280.7 387.7h0M1307.4 356.8h0" stroke="#ED5A5F"/>
<path d="M1263.3 472.5h0M1274.3 488.9h0M1278.3 463.0h0M1273.3 467.2h0M1184.9 664.2h0M1230.4 384.6h0M1200.1 442.6h0" stroke="#F7705C"/>
<path d="M1247.3 485.7h0M1255.1 487.3h0" stroke="#FC8961"/>
<path d="M1289.8 477.4h0" stroke="#FE9F6D"/>
<path d="M1704.6 901.6h0M1266.3 491.4h0M1286.2 472.9h0" stroke="#FEB77E"/>
<path d="M1261.4 485.6h0M1288.2 469.6h0" stroke="#FECF92"/>
<path d="M1280.9 463.4h0M1277.2 462.1h0" stroke="#FDE7A9"/>
<path d="M1276.3 463.4h0" stroke="#FCFDBF"/>
<path d="M1157.3 327.3h0M1294.0 434.0h0M382.2 496.6h0M383.8 498.2h0M385.4 499.8h0M387.0 501.4h0M1530.1 523.2h0M1496.0 535.5h0M1504.0 536.0h0M1591.5 706.0h0M1766.5 806.5h0M1703.5 907.5h0M1716.0 894.0h0" stroke="#3B0F70"/>
<path d="M1220.0 466.0h0M1292.7 408.7h0M1228.7 412.7h0M1228.7 404.0h0M1270.0 408.0h0M1458.1 593.6h0M1702.0 828.5h0M1710.8 878.0h0" stroke="#51127C"/>
<path d="M1348.3 650.8h0M1174.0 320.7h0M1236.0 445.3h0M1286.0 409.3h0M653.2 572.4h0M1513.1 535.5h0M1703.0 830.5h0M1704.5 832.5h0M1709.0 847.0h0" stroke="#641A80"/>
<path d="M786.7 840.0h0M785.8 845.8h0M793.3 850.8h0M1251.7 986.7h0M1229.2 992.5h0M1264.0 416.0h0M1493.3 519.5h0M1493.3 525.3h0M1714.0 846.5h0" stroke="#782281"/>
<path d="M1230.8 705.0h0M1214.2 737.5h0M1220.0 671.7h0M1230.0 673.3h0M1185.0 674.2h0M1195.8 680.0h0M1340.0 650.8h0M1345.0 652.5h0M1162.5 971.7h0M1060.8 1069.2h0M1240.7 436.7h0M1259.3 452.7h0M1183.3 428.0h0M1188.7 432.7h0M1194.0 479.3h0M1212.7 462.0h0M1262.7 424.0h0M1267.3 425.3h0M1250.0 416.0h0M1545.6 537.6h0M1581.9 516.8h0M1593.1 506.7h0M1720.0 840.5h0M1726.0 843.0h0M1712.0 873.0h0" stroke="#8C2981"/>
<path d="M1187.5 678.3h0M1344.2 650.0h0M1238.3 989.2h0M1162.7 328.0h0M1262.0 446.7h0M1266.0 439.3h0M1280.0 444.0h0M1270.7 454.0h0M1212.7 456.7h0M640.0 506.0h0M590.4 540.6h0M1509.3 509.9h0M1554.7 528.5h0" stroke="#A1307E"/>
<path d="M1233.3 747.5h0M1240.0 690.0h0M1267.5 974.2h0M1260.0 459.3h0M1252.0 469.3h0M1224.7 464.9h0M1294.7 417.3h0M1298.0 412.7h0M1501.3 552.5h0M1460.3 594.3h0" stroke="#B73779"/>
<path d="M1229.3 454.0h0M1230.7 436.0h0M1235.3 431.3h0M1244.0 458.0h0M1539.7 536.5h0" stroke="#CA3E72"/>
<path d="M1133.3 399.3h0M1202.0 428.7h0M1208.7 433.3h0M1184.0 452.0h0M1196.7 453.3h0M1213.3 451.3h0M1711.0 857.0h0" stroke="#DE4968"/>
<path d="M1180.0 688.3h0" stroke="#ED5A5F"/>
<path d="M1236.7 662.5h0M1246.7 686.7h0M1209.2 718.3h0M1135.3 324.0h0M1272.0 353.3h0M1241.3 462.7h0" stroke="#F7705C"/>
<path d="M1173.3 372.7h0M1178.0 380.0h0M1204.7 372.7h0M1248.0 397.3h0M1201.3 438.7h0M1234.0 472.7h0" stroke="#FC8961"/>
<path d="M1234.7 366.0h0M1218.0 388.7h0M1202.0 399.3h0M1277.3 320.7h0M1302.7 338.0h0M1236.7 383.3h0M1253.3 452.7h0M1234.7 476.7h0" stroke="#FE9F6D"/>
<path d="M1139.3 330.0h0M1170.7 353.3h0M1310.0 351.3h0M1204.0 433.3h0" stroke="#FEB77E"/>
<path d="M1182.7 360.7h0" stroke="#FECF92"/>
<path d="M1308.7 360.0h0" stroke="#FDE7A9"/>
<path d="M1233.3 450.7h0M1246.7 437.3h0" stroke="#FCFDBF"/></g>
<path d="M205.7 142.6V1302.3H1871.3" fill="none" stroke="#000" stroke-width="4.6" stroke-linecap="butt" stroke-linejoin="miter"/>
<path d="M191 245.30H203.4M191 484.45H203.4M191 723.60H203.4M191 962.75H203.4M191 1201.90H203.4M232.20 1304.6V1316.8M720.00 1304.6V1316.8M1208.00 1304.6V1316.8M1695.80 1304.6V1316.8" fill="none" stroke="#000" stroke-width="4.6"/>
<g font-size="50" fill="#000">
<text transform="translate(178 263.50) scale(1 1.03)" text-anchor="end">15</text>
<text transform="translate(178 502.65) scale(1 1.03)" text-anchor="end">10</text>
<text transform="translate(178 741.80) scale(1 1.03)" text-anchor="end">5</text>
<text transform="translate(178 980.95) scale(1 1.03)" text-anchor="end">0</text>
<text transform="translate(178 1220.10) scale(1 1.03)" text-anchor="end">-5</text>
<text transform="translate(232.20 1366.5) scale(1 1.03)" text-anchor="middle">-10</text>
<text transform="translate(720.00 1366.5) scale(1 1.03)" text-anchor="middle">0</text>
<text transform="translate(1208.00 1366.5) scale(1 1.03)" text-anchor="middle">10</text>
<text transform="translate(1695.80 1366.5) scale(1 1.03)" text-anchor="middle">20</text>
<text transform="translate(2019.5 915.50) scale(1 1.03)">0</text>
<text transform="translate(2019.5 832.50) scale(1 1.03)">1</text>
<text transform="translate(2019.5 749.40) scale(1 1.03)">2</text>
<text transform="translate(2019.5 666.20) scale(1 1.03)">3</text>
</g>
<text transform="translate(1038 1434.9) scale(1 1.05)" font-size="58.33" text-anchor="middle">UMAP_1</text>
<text transform="translate(95.2 722.5) rotate(-90) scale(1 1.05)" font-size="58.33" text-anchor="middle">UMAP_2</text>
<text transform="translate(1037.5 101) scale(1 1.067)" font-size="66.67" font-weight="bold" text-anchor="middle">SLC16A7</text>
<defs><linearGradient id="cb" x1="0" y1="0" x2="0" y2="1"><stop offset="0.000" stop-color="#FCFDBF"/><stop offset="0.050" stop-color="#FDE7A9"/><stop offset="0.100" stop-color="#FECF92"/><stop offset="0.150" stop-color="#FEB77E"/><stop offset="0.200" stop-color="#FE9F6D"/><stop offset="0.250" stop-color="#FC8961"/><stop offset="0.300" stop-color="#F7705C"/><stop offset="0.350" stop-color="#ED5A5F"/><stop offset="0.400" stop-color="#DE4968"/><stop offset="0.450" stop-color="#CA3E72"/><stop offset="0.500" stop-color="#B73779"/><stop offset="0.550" stop-color="#A1307E"/><stop offset="0.600" stop-color="#8C2981"/><stop offset="0.650" stop-color="#782281"/><stop offset="0.700" stop-color="#641A80"/><stop offset="0.750" stop-color="#51127C"/><stop offset="0.800" stop-color="#3B0F70"/><stop offset="0.850" stop-color="#251255"/><stop offset="0.900" stop-color="#140E36"/><stop offset="0.950" stop-color="#06051A"/><stop offset="1.000" stop-color="#000004"/></linearGradient></defs>
<rect x="1927" y="578.3" width="64" height="319.4" fill="url(#cb)"/>
<path d="M1927 897.3h13M1978 897.3h13M1927 814.3h13M1978 814.3h13M1927 731.2h13M1978 731.2h13M1927 648.0h13M1978 648.0h13" stroke="#fff" stroke-width="2.1" fill="none"/>
</svg>
</body></html>
